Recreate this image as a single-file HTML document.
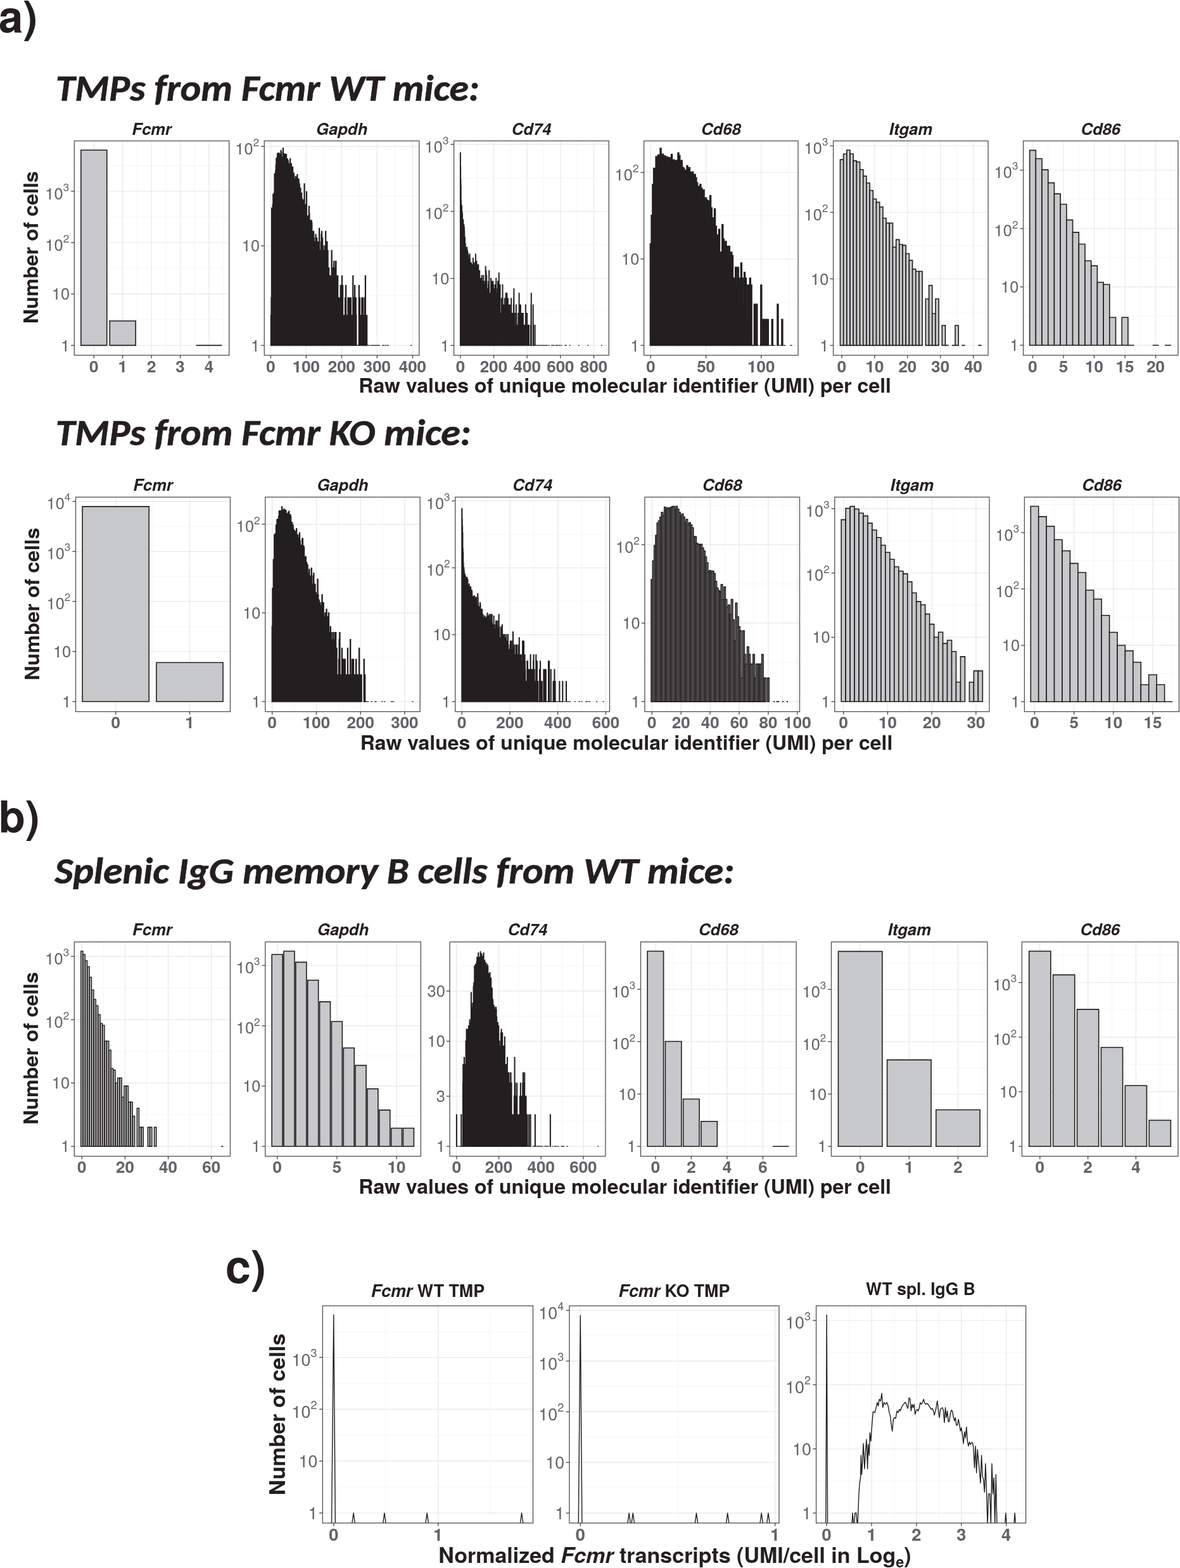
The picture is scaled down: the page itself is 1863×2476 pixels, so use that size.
<!DOCTYPE html>
<html><head><meta charset="utf-8"><title>Fcmr UMI histograms</title>
<style>html,body{margin:0;padding:0;background:#fff;overflow:hidden;}svg{display:block;}</style></head>
<body><svg xmlns="http://www.w3.org/2000/svg" width="1863" height="2476" viewBox="0 0 1863 2476">
<rect width="1863" height="2476" fill="#fff"/>
<clipPath id="c1"><rect x="117.3" y="222.5" width="244.5" height="338.5"/></clipPath>
<g clip-path="url(#c1)">
<line x1="125.59" y1="222.5" x2="125.59" y2="561" stroke="#f4f4f4" stroke-width="0.8"/>
<line x1="171.02" y1="222.5" x2="171.02" y2="561" stroke="#f4f4f4" stroke-width="0.8"/>
<line x1="216.44" y1="222.5" x2="216.44" y2="561" stroke="#f4f4f4" stroke-width="0.8"/>
<line x1="261.88" y1="222.5" x2="261.88" y2="561" stroke="#f4f4f4" stroke-width="0.8"/>
<line x1="307.31" y1="222.5" x2="307.31" y2="561" stroke="#f4f4f4" stroke-width="0.8"/>
<line x1="352.74" y1="222.5" x2="352.74" y2="561" stroke="#f4f4f4" stroke-width="0.8"/>
<line x1="117.3" y1="504.83" x2="361.8" y2="504.83" stroke="#f4f4f4" stroke-width="0.8"/>
<line x1="117.3" y1="423.7" x2="361.8" y2="423.7" stroke="#f4f4f4" stroke-width="0.8"/>
<line x1="117.3" y1="342.57" x2="361.8" y2="342.57" stroke="#f4f4f4" stroke-width="0.8"/>
<line x1="117.3" y1="261.44" x2="361.8" y2="261.44" stroke="#f4f4f4" stroke-width="0.8"/>
<line x1="148.3" y1="222.5" x2="148.3" y2="561" stroke="#ebebeb" stroke-width="1.4"/>
<line x1="193.73" y1="222.5" x2="193.73" y2="561" stroke="#ebebeb" stroke-width="1.4"/>
<line x1="239.16" y1="222.5" x2="239.16" y2="561" stroke="#ebebeb" stroke-width="1.4"/>
<line x1="284.59" y1="222.5" x2="284.59" y2="561" stroke="#ebebeb" stroke-width="1.4"/>
<line x1="330.02" y1="222.5" x2="330.02" y2="561" stroke="#ebebeb" stroke-width="1.4"/>
<line x1="117.3" y1="545.4" x2="361.8" y2="545.4" stroke="#ebebeb" stroke-width="1.4"/>
<line x1="117.3" y1="464.27" x2="361.8" y2="464.27" stroke="#ebebeb" stroke-width="1.4"/>
<line x1="117.3" y1="383.14" x2="361.8" y2="383.14" stroke="#ebebeb" stroke-width="1.4"/>
<line x1="117.3" y1="302.01" x2="361.8" y2="302.01" stroke="#ebebeb" stroke-width="1.4"/>
<path d="M127.86 545.4V237.03H168.74V545.4Z" fill="#c7c8ca" stroke="#231f20" stroke-width="1.6"/>
<path d="M173.29 545.4V506.69H214.17V545.4Z" fill="#c7c8ca" stroke="#231f20" stroke-width="1.6"/>
<path d="M309.58 545.4V545.4H350.46V545.4Z" fill="#c7c8ca" stroke="#231f20" stroke-width="1.6"/>
</g>
<rect x="117.3" y="222.5" width="244.5" height="338.5" fill="none" stroke="#505050" stroke-width="1.3"/>
<line x1="148.3" y1="561" x2="148.3" y2="565.8" stroke="#505050" stroke-width="1.4"/>
<text x="148.3" y="587.6" text-anchor="middle" font-family="'TeX Gyre Heros', 'Liberation Sans', Arial, Helvetica, sans-serif" font-weight="bold" font-size="26" fill="#636468">0</text>
<line x1="193.73" y1="561" x2="193.73" y2="565.8" stroke="#505050" stroke-width="1.4"/>
<text x="193.73" y="587.6" text-anchor="middle" font-family="'TeX Gyre Heros', 'Liberation Sans', Arial, Helvetica, sans-serif" font-weight="bold" font-size="26" fill="#636468">1</text>
<line x1="239.16" y1="561" x2="239.16" y2="565.8" stroke="#505050" stroke-width="1.4"/>
<text x="239.16" y="587.6" text-anchor="middle" font-family="'TeX Gyre Heros', 'Liberation Sans', Arial, Helvetica, sans-serif" font-weight="bold" font-size="26" fill="#636468">2</text>
<line x1="284.59" y1="561" x2="284.59" y2="565.8" stroke="#505050" stroke-width="1.4"/>
<text x="284.59" y="587.6" text-anchor="middle" font-family="'TeX Gyre Heros', 'Liberation Sans', Arial, Helvetica, sans-serif" font-weight="bold" font-size="26" fill="#636468">3</text>
<line x1="330.02" y1="561" x2="330.02" y2="565.8" stroke="#505050" stroke-width="1.4"/>
<text x="330.02" y="587.6" text-anchor="middle" font-family="'TeX Gyre Heros', 'Liberation Sans', Arial, Helvetica, sans-serif" font-weight="bold" font-size="26" fill="#636468">4</text>
<line x1="112.1" y1="545.4" x2="117.3" y2="545.4" stroke="#505050" stroke-width="1.4"/>
<text x="110.1" y="554.5" text-anchor="end" font-family="'TeX Gyre Heros', 'Liberation Sans', Arial, Helvetica, sans-serif" font-size="25.5" fill="#636468">1</text>
<line x1="112.1" y1="464.27" x2="117.3" y2="464.27" stroke="#505050" stroke-width="1.4"/>
<text x="110.1" y="473.37" text-anchor="end" font-family="'TeX Gyre Heros', 'Liberation Sans', Arial, Helvetica, sans-serif" font-size="25.5" fill="#636468">10</text>
<line x1="112.1" y1="383.14" x2="117.3" y2="383.14" stroke="#505050" stroke-width="1.4"/>
<text x="109.1" y="395.74" text-anchor="end" font-family="'TeX Gyre Heros', 'Liberation Sans', Arial, Helvetica, sans-serif" font-size="25.5" fill="#636468">10<tspan font-size="17" dy="-12.9">2</tspan></text>
<line x1="112.1" y1="302.01" x2="117.3" y2="302.01" stroke="#505050" stroke-width="1.4"/>
<text x="109.1" y="314.61" text-anchor="end" font-family="'TeX Gyre Heros', 'Liberation Sans', Arial, Helvetica, sans-serif" font-size="25.5" fill="#636468">10<tspan font-size="17" dy="-12.9">3</tspan></text>
<text x="239.55" y="212.5" text-anchor="middle" font-family="'TeX Gyre Heros', 'Liberation Sans', Arial, Helvetica, sans-serif" font-weight="bold" font-style="italic" font-size="25.6" fill="#231f20">Fcmr</text>
<clipPath id="c2"><rect x="417.3" y="222.5" width="244.5" height="338.5"/></clipPath>
<g clip-path="url(#c2)">
<line x1="455.4" y1="222.5" x2="455.4" y2="561" stroke="#f4f4f4" stroke-width="0.8"/>
<line x1="511.4" y1="222.5" x2="511.4" y2="561" stroke="#f4f4f4" stroke-width="0.8"/>
<line x1="567.4" y1="222.5" x2="567.4" y2="561" stroke="#f4f4f4" stroke-width="0.8"/>
<line x1="623.4" y1="222.5" x2="623.4" y2="561" stroke="#f4f4f4" stroke-width="0.8"/>
<line x1="417.3" y1="466.85" x2="661.8" y2="466.85" stroke="#f4f4f4" stroke-width="0.8"/>
<line x1="417.3" y1="309.75" x2="661.8" y2="309.75" stroke="#f4f4f4" stroke-width="0.8"/>
<line x1="427.4" y1="222.5" x2="427.4" y2="561" stroke="#ebebeb" stroke-width="1.4"/>
<line x1="483.4" y1="222.5" x2="483.4" y2="561" stroke="#ebebeb" stroke-width="1.4"/>
<line x1="539.4" y1="222.5" x2="539.4" y2="561" stroke="#ebebeb" stroke-width="1.4"/>
<line x1="595.4" y1="222.5" x2="595.4" y2="561" stroke="#ebebeb" stroke-width="1.4"/>
<line x1="651.4" y1="222.5" x2="651.4" y2="561" stroke="#ebebeb" stroke-width="1.4"/>
<line x1="417.3" y1="545.4" x2="661.8" y2="545.4" stroke="#ebebeb" stroke-width="1.4"/>
<line x1="417.3" y1="388.3" x2="661.8" y2="388.3" stroke="#ebebeb" stroke-width="1.4"/>
<line x1="417.3" y1="231.2" x2="661.8" y2="231.2" stroke="#ebebeb" stroke-width="1.4"/>
<path d="M427.68 545.4V498.11H428.24V470.44H428.8V328.57H429.36V356.23H429.92V334.51H430.48V323.11H431.04V306.84H431.6V308.94H432.16V306.84H432.72V304.8H433.28V274.52H433.84V279.87H434.4V287.21H434.96V269.55H435.52V260.59H436.08V249.92H436.64V288.78H437.2V260.59H437.76V242.29H438.32V255.54H438.88V251.74H439.44V269.55H440V241.49H440.56V254.57H441.12V263.82H441.68V249.92H442.24V243.1H442.8V266.05H443.36V237.63H443.92V240.7H444.48V261.65H445.04V253.61H445.6V248.15H446.16V255.54H446.72V233.99H447.28V249.92H447.84V243.1H448.4V264.92H448.96V255.54H449.52V243.1H450.08V245.58H450.64V259.55H451.2V259.55H451.76V243.91H452.32V254.57H452.88V259.55H453.44V250.83H454V255.54H454.56V253.61H455.12V284.18H455.68V258.52H456.24V264.92H456.8V264.92H457.36V267.2H457.92V250.83H458.48V281.28H459.04V260.59H459.6V258.52H460.16V279.87H460.72V263.82H461.28V263.82H461.84V263.82H462.4V285.68H462.96V274.52H463.52V273.24H464.08V285.68H464.64V282.71H465.2V287.21H465.76V284.18H466.32V278.49H466.88V302.83H467.44V284.18H468V300.9H468.56V279.87H469.12V275.82H469.68V299.04H470.24V299.04H470.8V299.04H471.36V282.71H471.92V290.39H472.48V290.39H473.04V299.04H473.6V300.9H474.16V297.22H474.72V306.84H475.28V313.34H475.84V304.8H476.4V313.34H476.96V331.47H477.52V318.05H478.08V315.66H478.64V318.05H479.2V337.68H479.76V356.23H480.32V290.39H480.88V352.1H481.44V344.51H482V331.47H482.56V323.11H483.12V341.01H483.68V302.83H484.24V360.64H484.8V341.01H485.36V388.3H485.92V348.2H486.48V341.01H487.04V356.23H487.6V325.78H488.16V337.68H488.72V375.86H489.28V388.3H489.84V356.23H490.4V348.2H490.96V381.8H491.52V348.2H492.08V352.1H492.64V388.3H493.2V365.34H493.76V395.49H494.32V375.86H494.88V365.34H495.44V375.86H496V381.8H496.56V395.49H497.12V381.8H497.68V381.8H498.24V370.4H498.8V381.8H499.36V388.3H499.92V375.86H500.48V450.82H501.04V395.49H501.6V381.8H502.16V395.49H502.72V381.8H503.28V395.49H503.84V360.64H504.4V412.64H504.96V395.49H505.52V423.15H506.08V435.59H506.64V381.8H507.2V370.4H507.76V365.34H508.32V375.86H508.88V375.86H509.44V388.3H510V388.3H510.56V423.15H511.12V412.64H511.68V435.59H512.24V395.49H512.8V388.3H513.36V412.64H513.92V365.34H514.48V412.64H515.04V412.64H515.6V412.64H516.16V381.8H516.72V450.82H517.28V395.49H517.84V435.59H518.4V450.82H518.96V423.15H519.52V470.44H520.08V498.11H520.64V450.82H521.2V435.59H521.76V545.4H522.32V450.82H522.88V435.59H523.44V395.49H524V498.11H524.56V423.15H525.12V423.15H525.68V450.82H526.24V450.82H526.8V412.64H527.36V435.59H527.92V470.44H528.48V423.15H529.04V470.44H529.6V412.64H530.16V412.64H530.72V435.59H531.28V498.11H531.84V545.4H532.4V450.82H532.96V435.59H533.52V498.11H534.08V545.4H534.64V498.11H535.2V470.44H535.76V545.4H536.32V545.4H536.88V545.4H537.44V450.82H538V498.11H538.56V470.44H539.12V470.44H539.68V435.59H540.24V450.82H540.8V450.82H541.36V498.11H541.92V498.11H542.48V545.4H543.04V545.4H543.6V498.11H544.16V545.4ZM544.72 545.4V470.44H545.28V498.11H545.84V450.82H546.4V545.4ZM546.96 545.4V545.4H547.52V498.11H548.08V545.4ZM548.64 545.4V545.4H549.2V470.44H549.76V498.11H550.32V470.44H550.88V545.4ZM551.44 545.4V545.4H552V470.44H552.56V498.11H553.12V545.4H553.68V470.44H554.24V498.11H554.8V498.11H555.36V545.4H555.92V545.4H556.48V498.11H557.04V435.59H557.6V498.11H558.16V470.44H558.72V545.4H559.28V498.11H559.84V450.82H560.4V545.4ZM560.96 545.4V498.11H561.52V470.44H562.08V498.11H562.64V545.4ZM566 545.4V545.4H566.56V450.82H567.12V545.4H567.68V470.44H568.24V545.4H568.8V498.11H569.36V545.4H569.92V545.4H570.48V545.4H571.04V470.44H571.6V545.4H572.16V545.4H572.72V470.44H573.28V545.4H573.84V498.11H574.4V545.4H574.96V545.4H575.52V470.44H576.08V545.4H576.64V435.59H577.2V545.4H577.76V498.11H578.32V545.4H578.88V498.11H579.44V545.4H580V545.4H580.56V545.4Z" fill="#231f20" stroke="#231f20" stroke-width="1.7" stroke-linejoin="miter"/>
<path d="M562.91 545.4H566.29ZM580.27 545.4H583.65ZM584.75 545.4H587.01ZM586.99 545.4H589.25ZM588.11 545.4H590.93ZM590.35 545.4H592.61ZM591.47 545.4H593.73ZM593.71 545.4H595.97ZM595.39 545.4H597.65ZM596.51 545.4H598.77ZM597.63 545.4H599.89ZM603.23 545.4H606.05ZM604.91 545.4H607.17ZM607.71 545.4H610.53ZM611.07 545.4H613.89ZM648.03 545.4H650.29Z" fill="none" stroke="#231f20" stroke-width="1.3"/>
</g>
<rect x="417.3" y="222.5" width="244.5" height="338.5" fill="none" stroke="#505050" stroke-width="1.3"/>
<line x1="427.4" y1="561" x2="427.4" y2="565.8" stroke="#505050" stroke-width="1.4"/>
<text x="427.4" y="587.6" text-anchor="middle" font-family="'TeX Gyre Heros', 'Liberation Sans', Arial, Helvetica, sans-serif" font-weight="bold" font-size="26" fill="#636468">0</text>
<line x1="483.4" y1="561" x2="483.4" y2="565.8" stroke="#505050" stroke-width="1.4"/>
<text x="483.4" y="587.6" text-anchor="middle" font-family="'TeX Gyre Heros', 'Liberation Sans', Arial, Helvetica, sans-serif" font-weight="bold" font-size="26" fill="#636468">100</text>
<line x1="539.4" y1="561" x2="539.4" y2="565.8" stroke="#505050" stroke-width="1.4"/>
<text x="539.4" y="587.6" text-anchor="middle" font-family="'TeX Gyre Heros', 'Liberation Sans', Arial, Helvetica, sans-serif" font-weight="bold" font-size="26" fill="#636468">200</text>
<line x1="595.4" y1="561" x2="595.4" y2="565.8" stroke="#505050" stroke-width="1.4"/>
<text x="595.4" y="587.6" text-anchor="middle" font-family="'TeX Gyre Heros', 'Liberation Sans', Arial, Helvetica, sans-serif" font-weight="bold" font-size="26" fill="#636468">300</text>
<line x1="651.4" y1="561" x2="651.4" y2="565.8" stroke="#505050" stroke-width="1.4"/>
<text x="651.4" y="587.6" text-anchor="middle" font-family="'TeX Gyre Heros', 'Liberation Sans', Arial, Helvetica, sans-serif" font-weight="bold" font-size="26" fill="#636468">400</text>
<line x1="412.1" y1="545.4" x2="417.3" y2="545.4" stroke="#505050" stroke-width="1.4"/>
<text x="410.1" y="554.5" text-anchor="end" font-family="'TeX Gyre Heros', 'Liberation Sans', Arial, Helvetica, sans-serif" font-size="25.5" fill="#636468">1</text>
<line x1="412.1" y1="388.3" x2="417.3" y2="388.3" stroke="#505050" stroke-width="1.4"/>
<text x="410.1" y="397.4" text-anchor="end" font-family="'TeX Gyre Heros', 'Liberation Sans', Arial, Helvetica, sans-serif" font-size="25.5" fill="#636468">10</text>
<line x1="412.1" y1="231.2" x2="417.3" y2="231.2" stroke="#505050" stroke-width="1.4"/>
<text x="409.1" y="243.8" text-anchor="end" font-family="'TeX Gyre Heros', 'Liberation Sans', Arial, Helvetica, sans-serif" font-size="25.5" fill="#636468">10<tspan font-size="17" dy="-12.9">2</tspan></text>
<text x="539.55" y="212.5" text-anchor="middle" font-family="'TeX Gyre Heros', 'Liberation Sans', Arial, Helvetica, sans-serif" font-weight="bold" font-style="italic" font-size="25.6" fill="#231f20">Gapdh</text>
<clipPath id="c3"><rect x="716.6" y="222.5" width="244.7" height="338.5"/></clipPath>
<g clip-path="url(#c3)">
<line x1="753.23" y1="222.5" x2="753.23" y2="561" stroke="#f4f4f4" stroke-width="0.8"/>
<line x1="805.89" y1="222.5" x2="805.89" y2="561" stroke="#f4f4f4" stroke-width="0.8"/>
<line x1="858.55" y1="222.5" x2="858.55" y2="561" stroke="#f4f4f4" stroke-width="0.8"/>
<line x1="911.21" y1="222.5" x2="911.21" y2="561" stroke="#f4f4f4" stroke-width="0.8"/>
<line x1="716.6" y1="492.5" x2="961.3" y2="492.5" stroke="#f4f4f4" stroke-width="0.8"/>
<line x1="716.6" y1="386.7" x2="961.3" y2="386.7" stroke="#f4f4f4" stroke-width="0.8"/>
<line x1="716.6" y1="280.9" x2="961.3" y2="280.9" stroke="#f4f4f4" stroke-width="0.8"/>
<line x1="726.9" y1="222.5" x2="726.9" y2="561" stroke="#ebebeb" stroke-width="1.4"/>
<line x1="779.56" y1="222.5" x2="779.56" y2="561" stroke="#ebebeb" stroke-width="1.4"/>
<line x1="832.22" y1="222.5" x2="832.22" y2="561" stroke="#ebebeb" stroke-width="1.4"/>
<line x1="884.88" y1="222.5" x2="884.88" y2="561" stroke="#ebebeb" stroke-width="1.4"/>
<line x1="937.54" y1="222.5" x2="937.54" y2="561" stroke="#ebebeb" stroke-width="1.4"/>
<line x1="716.6" y1="545.4" x2="961.3" y2="545.4" stroke="#ebebeb" stroke-width="1.4"/>
<line x1="716.6" y1="439.6" x2="961.3" y2="439.6" stroke="#ebebeb" stroke-width="1.4"/>
<line x1="716.6" y1="333.8" x2="961.3" y2="333.8" stroke="#ebebeb" stroke-width="1.4"/>
<line x1="716.6" y1="228" x2="961.3" y2="228" stroke="#ebebeb" stroke-width="1.4"/>
<path d="M726.77 545.4V241.46H727.03V263.28H727.29V283.63H727.56V293.38H727.82V316.41H728.08V324.66H728.35V326.98H728.61V332.44H728.87V324.66H729.14V332.89H729.4V338.64H729.66V335.68H729.93V338.64H730.19V352.89H730.45V355.76H730.72V352.2H730.98V360.44H731.24V347.02H731.51V356.51H731.77V360.44H732.03V355.03H732.3V355.03H732.56V362.97H732.82V358.83H733.09V364.74H733.35V378.26H733.61V377.07H733.88V374.77H734.14V386.16H734.4V393.96H734.67V384.74H734.93V401.33H735.19V412.59H735.46V401.33H735.72V390.68H735.98V393.96H736.25V410.11H736.51V415.22H736.77V401.33H737.04V390.68H737.3V393.96H737.56V415.22H737.83V395.7H738.09V405.51H738.35V399.37H738.62V399.37H738.88V427.54H739.14V435.22H739.41V403.37H739.67V410.11H739.93V410.11H740.2V435.22H740.46V424.14H740.72V415.22H740.99V420.97H741.25V435.22H741.51V401.33H741.78V407.75H742.04V420.97H742.3V424.14H742.57V415.22H742.83V439.6H743.09V418H743.36V424.14H743.62V424.14H743.88V415.22H744.15V431.22H744.41V418H744.67V439.6H744.94V418H745.2V424.14H745.46V455.99H745.73V420.97H745.99V439.6H746.25V431.22H746.52V424.14H746.78V407.75H747.04V418H747.31V418H747.57V431.22H747.83V435.22H748.1V420.97H748.36V449.85H748.62V415.22H748.89V427.54H749.15V439.6H749.41V418H749.68V431.22H749.94V439.6H750.2V444.44H750.47V455.99H750.73V401.33H750.99V427.54H751.26V420.97H751.52V431.22H751.78V418H752.05V431.22H752.31V412.59H752.57V424.14H752.84V420.97H753.1V424.14H753.36V435.22H753.62V431.22H753.89V439.6H754.15V427.54H754.41V418H754.68V449.85H754.94V435.22H755.2V418H755.47V439.6H755.73V444.44H755.99V439.6H756.26V444.44H756.52V439.6H756.78V435.22H757.05V427.54H757.31V444.44H757.57V444.44H757.84V449.85H758.1V439.6H758.36V449.85H758.63V439.6H758.89V439.6H759.15V471.45H759.42V449.85H759.68V449.85H759.94V455.99H760.21V444.44H760.47V435.22H760.73V439.6H761V455.99H761.26V444.44H761.52V455.99H761.79V449.85H762.05V455.99H762.31V494.92H762.58V449.85H762.84V449.85H763.1V435.22H763.37V471.45H763.63V449.85H763.89V449.85H764.16V471.45H764.42V455.99H764.68V471.45H764.95V471.45H765.21V444.44H765.47V449.85H765.74V455.99H766V455.99H766.26V471.45H766.53V420.97H766.79V471.45H767.05V463.07H767.32V427.54H767.58V449.85H767.84V471.45H768.11V435.22H768.37V444.44H768.63V481.7H768.9V463.07H769.16V463.07H769.42V513.55H769.69V463.07H769.95V471.45H770.21V455.99H770.48V481.7H770.74V455.99H771V449.85H771.27V444.44H771.53V455.99H771.79V471.45H772.06V427.54H772.32V471.45H772.58V494.92H772.85V481.7H773.11V471.45H773.37V481.7H773.64V463.07H773.9V471.45H774.16V463.07H774.43V463.07H774.69V471.45H774.95V439.6H775.22V481.7H775.48V455.99H775.74V471.45H776.01V455.99H776.27V455.99H776.53V455.99H776.8V444.44H777.06V513.55H777.32V463.07H777.59V494.92H777.85V481.7H778.11V444.44H778.38V481.7H778.64V471.45H778.9V494.92H779.17V449.85H779.43V481.7H779.69V481.7H779.95V481.7H780.22V463.07H780.48V455.99H780.74V471.45H781.01V471.45H781.27V471.45H781.53V481.7H781.8V449.85H782.06V455.99H782.32V449.85H782.59V471.45H782.85V494.92H783.11V439.6H783.38V513.55H783.64V471.45H783.9V471.45H784.17V463.07H784.43V513.55H784.69V463.07H784.96V481.7H785.22V455.99H785.48V494.92H785.75V444.44H786.01V494.92H786.27V481.7H786.54V494.92H786.8V494.92H787.06V471.45H787.33V494.92H787.59V431.22H787.85V471.45H788.12V494.92H788.38V481.7H788.64V494.92H788.91V545.4H789.17V455.99H789.43V449.85H789.7V513.55H789.96V513.55H790.22V494.92H790.49V494.92H790.75V545.4H791.01V545.4ZM791.28 545.4V513.55H791.54V513.55H791.8V471.45H792.07V494.92H792.33V481.7H792.59V481.7H792.86V545.4H793.12V494.92H793.38V449.85H793.65V545.4H793.91V545.4H794.17V481.7H794.44V494.92H794.7V513.55H794.96V494.92H795.23V481.7H795.49V513.55H795.75V481.7H796.02V513.55H796.28V545.4ZM796.54 545.4V471.45H796.81V494.92H797.07V513.55H797.33V494.92H797.6V513.55H797.86V513.55H798.12V494.92H798.39V481.7H798.65V463.07H798.91V481.7H799.18V545.4H799.44V513.55H799.7V545.4H799.97V481.7H800.23V463.07H800.49V481.7H800.76V494.92H801.02V545.4H801.28V494.92H801.55V513.55H801.81V471.45H802.07V513.55H802.34V494.92H802.6V513.55H802.86V481.7H803.13V545.4ZM803.39 545.4V481.7H803.65V513.55H803.92V545.4H804.18V513.55H804.44V545.4H804.71V513.55H804.97V481.7H805.23V545.4ZM805.5 545.4V513.55H805.76V494.92H806.02V545.4H806.28V513.55H806.55V545.4H806.81V494.92H807.07V471.45H807.34V545.4H807.6V513.55H807.86V494.92H808.13V494.92H808.39V545.4H808.65V545.4ZM808.92 545.4V513.55H809.18V494.92H809.44V545.4ZM809.71 545.4V513.55H809.97V494.92H810.23V545.4H810.5V513.55H810.76V481.7H811.02V471.45H811.29V455.99H811.55V513.55H811.81V494.92H812.08V513.55H812.34V545.4H812.6V494.92H812.87V545.4H813.13V545.4ZM813.39 545.4V513.55H813.66V513.55H813.92V513.55H814.18V545.4H814.45V545.4ZM814.71 545.4V481.7H814.97V494.92H815.24V494.92H815.5V513.55H815.76V545.4H816.03V545.4H816.29V545.4H816.55V545.4ZM816.82 545.4V545.4H817.08V513.55H817.34V513.55H817.61V545.4ZM818.13 545.4V494.92H818.4V545.4H818.66V513.55H818.92V513.55H819.19V545.4H819.45V463.07H819.71V481.7H819.98V545.4ZM821.29 545.4V481.7H821.56V545.4H821.82V481.7H822.08V545.4H822.35V494.92H822.61V545.4H822.87V545.4ZM823.14 545.4V545.4H823.4V494.92H823.66V545.4ZM823.93 545.4V545.4H824.19V494.92H824.45V545.4H824.72V494.92H824.98V545.4H825.24V545.4ZM825.77 545.4V494.92H826.03V545.4H826.3V545.4ZM826.56 545.4V513.55H826.82V513.55H827.09V513.55H827.35V513.55H827.61V545.4H827.88V545.4ZM828.14 545.4V513.55H828.4V545.4ZM828.67 545.4V545.4H828.93V513.55H829.19V513.55H829.46V545.4H829.72V481.7H829.98V494.92H830.25V545.4ZM830.51 545.4V513.55H830.77V545.4H831.04V545.4ZM831.56 545.4V545.4H831.83V513.55H832.09V494.92H832.35V545.4ZM832.88 545.4V545.4H833.14V545.4H833.4V513.55H833.67V513.55H833.93V513.55H834.19V545.4H834.46V545.4ZM834.98 545.4V513.55H835.25V545.4ZM837.62 545.4V545.4H837.88V513.55H838.14V513.55H838.41V481.7H838.67V463.07H838.93V545.4H839.2V545.4H839.46V545.4H839.72V545.4H839.99V545.4ZM840.78 545.4V545.4H841.04V545.4H841.3V545.4H841.57V481.7H841.83V513.55H842.09V513.55H842.36V545.4ZM844.46 545.4V513.55H844.73V545.4Z" fill="#231f20" stroke="#231f20" stroke-width="1.7" stroke-linejoin="miter"/>
<path d="M819.39 545.4H821.35ZM819.92 545.4H821.88ZM834.66 545.4H836.89ZM835.98 545.4H837.94ZM842.3 545.4H844.26ZM844.14 545.4H846.1ZM844.67 545.4H846.63ZM845.98 545.4H847.95ZM847.04 545.4H849.26ZM848.35 545.4H850.32ZM848.88 545.4H850.84ZM850.2 545.4H852.16ZM850.72 545.4H852.69ZM851.51 545.4H853.48ZM853.62 545.4H855.85ZM854.67 545.4H856.64ZM855.2 545.4H857.16ZM855.99 545.4H857.95ZM856.52 545.4H858.48ZM857.04 545.4H859.27ZM857.83 545.4H860.06ZM858.88 545.4H860.85ZM859.41 545.4H861.37ZM860.46 545.4H862.43ZM861.52 545.4H863.48ZM863.1 545.4H865.06ZM865.73 545.4H867.69ZM870.21 545.4H872.17ZM870.73 545.4H872.7ZM871.26 545.4H873.22ZM872.31 545.4H874.28ZM873.1 545.4H875.33ZM876.53 545.4H878.75ZM877.32 545.4H879.54ZM878.9 545.4H880.86ZM879.42 545.4H881.39ZM881.79 545.4H883.76ZM882.85 545.4H884.81ZM885.48 545.4H887.44ZM891.01 545.4H892.97ZM893.11 545.4H895.08ZM898.91 545.4H900.87ZM912.86 545.4H914.82ZM927.34 545.4H929.31ZM948.93 545.4H950.9Z" fill="none" stroke="#231f20" stroke-width="1.3"/>
</g>
<rect x="716.6" y="222.5" width="244.7" height="338.5" fill="none" stroke="#505050" stroke-width="1.3"/>
<line x1="726.9" y1="561" x2="726.9" y2="565.8" stroke="#505050" stroke-width="1.4"/>
<text x="726.9" y="587.6" text-anchor="middle" font-family="'TeX Gyre Heros', 'Liberation Sans', Arial, Helvetica, sans-serif" font-weight="bold" font-size="26" fill="#636468">0</text>
<line x1="779.56" y1="561" x2="779.56" y2="565.8" stroke="#505050" stroke-width="1.4"/>
<text x="779.56" y="587.6" text-anchor="middle" font-family="'TeX Gyre Heros', 'Liberation Sans', Arial, Helvetica, sans-serif" font-weight="bold" font-size="26" fill="#636468">200</text>
<line x1="832.22" y1="561" x2="832.22" y2="565.8" stroke="#505050" stroke-width="1.4"/>
<text x="832.22" y="587.6" text-anchor="middle" font-family="'TeX Gyre Heros', 'Liberation Sans', Arial, Helvetica, sans-serif" font-weight="bold" font-size="26" fill="#636468">400</text>
<line x1="884.88" y1="561" x2="884.88" y2="565.8" stroke="#505050" stroke-width="1.4"/>
<text x="884.88" y="587.6" text-anchor="middle" font-family="'TeX Gyre Heros', 'Liberation Sans', Arial, Helvetica, sans-serif" font-weight="bold" font-size="26" fill="#636468">600</text>
<line x1="937.54" y1="561" x2="937.54" y2="565.8" stroke="#505050" stroke-width="1.4"/>
<text x="937.54" y="587.6" text-anchor="middle" font-family="'TeX Gyre Heros', 'Liberation Sans', Arial, Helvetica, sans-serif" font-weight="bold" font-size="26" fill="#636468">800</text>
<line x1="711.4" y1="545.4" x2="716.6" y2="545.4" stroke="#505050" stroke-width="1.4"/>
<text x="709.4" y="554.5" text-anchor="end" font-family="'TeX Gyre Heros', 'Liberation Sans', Arial, Helvetica, sans-serif" font-size="25.5" fill="#636468">1</text>
<line x1="711.4" y1="439.6" x2="716.6" y2="439.6" stroke="#505050" stroke-width="1.4"/>
<text x="709.4" y="448.7" text-anchor="end" font-family="'TeX Gyre Heros', 'Liberation Sans', Arial, Helvetica, sans-serif" font-size="25.5" fill="#636468">10</text>
<line x1="711.4" y1="333.8" x2="716.6" y2="333.8" stroke="#505050" stroke-width="1.4"/>
<text x="708.4" y="346.4" text-anchor="end" font-family="'TeX Gyre Heros', 'Liberation Sans', Arial, Helvetica, sans-serif" font-size="25.5" fill="#636468">10<tspan font-size="17" dy="-12.9">2</tspan></text>
<line x1="711.4" y1="228" x2="716.6" y2="228" stroke="#505050" stroke-width="1.4"/>
<text x="708.4" y="240.6" text-anchor="end" font-family="'TeX Gyre Heros', 'Liberation Sans', Arial, Helvetica, sans-serif" font-size="25.5" fill="#636468">10<tspan font-size="17" dy="-12.9">3</tspan></text>
<text x="838.95" y="212.5" text-anchor="middle" font-family="'TeX Gyre Heros', 'Liberation Sans', Arial, Helvetica, sans-serif" font-weight="bold" font-style="italic" font-size="25.6" fill="#231f20">Cd74</text>
<clipPath id="c4"><rect x="1016.6" y="222.5" width="243.5" height="338.5"/></clipPath>
<g clip-path="url(#c4)">
<line x1="1071" y1="222.5" x2="1071" y2="561" stroke="#f4f4f4" stroke-width="0.8"/>
<line x1="1158.2" y1="222.5" x2="1158.2" y2="561" stroke="#f4f4f4" stroke-width="0.8"/>
<line x1="1245.4" y1="222.5" x2="1245.4" y2="561" stroke="#f4f4f4" stroke-width="0.8"/>
<line x1="1016.6" y1="477.15" x2="1260.1" y2="477.15" stroke="#f4f4f4" stroke-width="0.8"/>
<line x1="1016.6" y1="340.65" x2="1260.1" y2="340.65" stroke="#f4f4f4" stroke-width="0.8"/>
<line x1="1027.4" y1="222.5" x2="1027.4" y2="561" stroke="#ebebeb" stroke-width="1.4"/>
<line x1="1114.6" y1="222.5" x2="1114.6" y2="561" stroke="#ebebeb" stroke-width="1.4"/>
<line x1="1201.8" y1="222.5" x2="1201.8" y2="561" stroke="#ebebeb" stroke-width="1.4"/>
<line x1="1016.6" y1="545.4" x2="1260.1" y2="545.4" stroke="#ebebeb" stroke-width="1.4"/>
<line x1="1016.6" y1="408.9" x2="1260.1" y2="408.9" stroke="#ebebeb" stroke-width="1.4"/>
<line x1="1016.6" y1="272.4" x2="1260.1" y2="272.4" stroke="#ebebeb" stroke-width="1.4"/>
<path d="M1026.53 545.4V384.86H1028.27V339.95H1030.02V291.06H1031.76V265.68H1033.5V266.75H1035.25V247.19H1036.99V250.78H1038.74V244.54H1040.48V252.03H1042.22V234.04H1043.97V249.56H1045.71V243.44H1047.46V247.58H1049.2V246.04H1050.94V248.36H1052.69V247.97H1054.43V259.17H1056.18V248.76H1057.92V252.45H1059.66V243.8H1061.41V255.05H1063.15V252.45H1064.9V258.7H1066.64V253.31H1068.38V254.17H1070.13V241.29H1071.87V245.66H1073.62V253.31H1075.36V253.31H1077.1V264.11H1078.85V265.68H1080.59V268.95H1082.34V268.95H1084.08V261.59H1085.82V267.84H1087.57V264.63H1089.31V271.81H1091.06V276.07H1092.8V271.23H1094.54V279.98H1096.29V275.44H1098.03V280.66H1099.78V288.67H1101.52V294.4H1103.26V297.03H1105.01V291.06H1106.75V297.03H1108.5V308.93H1110.24V299.79H1111.98V313.49H1113.73V312.32H1115.47V315.91H1117.22V317.16H1118.96V318.43H1120.7V308.93H1122.45V328.22H1124.19V343.77H1125.94V352.26H1127.68V329.76H1129.42V357H1131.17V374.06H1132.91V370.85H1134.66V362.16H1136.4V398.09H1138.14V398.09H1139.89V354.58H1141.63V377.44H1143.38V384.86H1145.12V381.04H1146.86V388.95H1148.61V415.15H1150.35V388.95H1152.1V403.25H1153.84V398.09H1155.58V403.25H1157.33V439.18H1159.07V439.18H1160.82V422.13H1162.56V449.99H1164.3V422.13H1166.05V439.18H1167.79V449.99H1169.54V415.15H1171.28V439.18H1173.02V480.27H1174.77V430.04H1176.51V439.18H1178.26V504.31H1180V449.99H1181.74V449.99H1183.49V439.18H1185.23V449.99H1186.98V545.4H1188.72V545.4H1190.46V480.27H1192.21V480.27H1193.95V480.27H1195.7V545.4H1197.44V545.4ZM1199.18 545.4V545.4H1200.93V449.99H1202.67V545.4H1204.42V504.31H1206.16V545.4ZM1207.9 545.4V504.31H1209.65V545.4ZM1211.39 545.4V504.31H1213.14V545.4ZM1218.37 545.4V504.31H1220.11V545.4ZM1227.09 545.4V480.27H1228.83V545.4ZM1234.06 545.4V504.31H1235.81V545.4Z" fill="#231f20" stroke="#231f20" stroke-width="1.7" stroke-linejoin="miter"/>
<path d="M1214.03 545.4H1217.47ZM1221.01 545.4H1224.45ZM1229.73 545.4H1233.17ZM1236.7 545.4H1240.15ZM1247.17 545.4H1250.61Z" fill="none" stroke="#231f20" stroke-width="1.3"/>
</g>
<rect x="1016.6" y="222.5" width="243.5" height="338.5" fill="none" stroke="#505050" stroke-width="1.3"/>
<line x1="1027.4" y1="561" x2="1027.4" y2="565.8" stroke="#505050" stroke-width="1.4"/>
<text x="1027.4" y="587.6" text-anchor="middle" font-family="'TeX Gyre Heros', 'Liberation Sans', Arial, Helvetica, sans-serif" font-weight="bold" font-size="26" fill="#636468">0</text>
<line x1="1114.6" y1="561" x2="1114.6" y2="565.8" stroke="#505050" stroke-width="1.4"/>
<text x="1114.6" y="587.6" text-anchor="middle" font-family="'TeX Gyre Heros', 'Liberation Sans', Arial, Helvetica, sans-serif" font-weight="bold" font-size="26" fill="#636468">50</text>
<line x1="1201.8" y1="561" x2="1201.8" y2="565.8" stroke="#505050" stroke-width="1.4"/>
<text x="1201.8" y="587.6" text-anchor="middle" font-family="'TeX Gyre Heros', 'Liberation Sans', Arial, Helvetica, sans-serif" font-weight="bold" font-size="26" fill="#636468">100</text>
<line x1="1011.4" y1="545.4" x2="1016.6" y2="545.4" stroke="#505050" stroke-width="1.4"/>
<text x="1009.4" y="554.5" text-anchor="end" font-family="'TeX Gyre Heros', 'Liberation Sans', Arial, Helvetica, sans-serif" font-size="25.5" fill="#636468">1</text>
<line x1="1011.4" y1="408.9" x2="1016.6" y2="408.9" stroke="#505050" stroke-width="1.4"/>
<text x="1009.4" y="418" text-anchor="end" font-family="'TeX Gyre Heros', 'Liberation Sans', Arial, Helvetica, sans-serif" font-size="25.5" fill="#636468">10</text>
<line x1="1011.4" y1="272.4" x2="1016.6" y2="272.4" stroke="#505050" stroke-width="1.4"/>
<text x="1008.4" y="285" text-anchor="end" font-family="'TeX Gyre Heros', 'Liberation Sans', Arial, Helvetica, sans-serif" font-size="25.5" fill="#636468">10<tspan font-size="17" dy="-12.9">2</tspan></text>
<text x="1138.35" y="212.5" text-anchor="middle" font-family="'TeX Gyre Heros', 'Liberation Sans', Arial, Helvetica, sans-serif" font-weight="bold" font-style="italic" font-size="25.6" fill="#231f20">Cd68</text>
<clipPath id="c5"><rect x="1315.6" y="222.5" width="244.5" height="338.5"/></clipPath>
<g clip-path="url(#c5)">
<line x1="1355.04" y1="222.5" x2="1355.04" y2="561" stroke="#f4f4f4" stroke-width="0.8"/>
<line x1="1406.91" y1="222.5" x2="1406.91" y2="561" stroke="#f4f4f4" stroke-width="0.8"/>
<line x1="1458.79" y1="222.5" x2="1458.79" y2="561" stroke="#f4f4f4" stroke-width="0.8"/>
<line x1="1510.66" y1="222.5" x2="1510.66" y2="561" stroke="#f4f4f4" stroke-width="0.8"/>
<line x1="1315.6" y1="492.9" x2="1560.1" y2="492.9" stroke="#f4f4f4" stroke-width="0.8"/>
<line x1="1315.6" y1="387.9" x2="1560.1" y2="387.9" stroke="#f4f4f4" stroke-width="0.8"/>
<line x1="1315.6" y1="282.9" x2="1560.1" y2="282.9" stroke="#f4f4f4" stroke-width="0.8"/>
<line x1="1329.1" y1="222.5" x2="1329.1" y2="561" stroke="#ebebeb" stroke-width="1.4"/>
<line x1="1380.97" y1="222.5" x2="1380.97" y2="561" stroke="#ebebeb" stroke-width="1.4"/>
<line x1="1432.85" y1="222.5" x2="1432.85" y2="561" stroke="#ebebeb" stroke-width="1.4"/>
<line x1="1484.72" y1="222.5" x2="1484.72" y2="561" stroke="#ebebeb" stroke-width="1.4"/>
<line x1="1536.6" y1="222.5" x2="1536.6" y2="561" stroke="#ebebeb" stroke-width="1.4"/>
<line x1="1315.6" y1="545.4" x2="1560.1" y2="545.4" stroke="#ebebeb" stroke-width="1.4"/>
<line x1="1315.6" y1="440.4" x2="1560.1" y2="440.4" stroke="#ebebeb" stroke-width="1.4"/>
<line x1="1315.6" y1="335.4" x2="1560.1" y2="335.4" stroke="#ebebeb" stroke-width="1.4"/>
<line x1="1315.6" y1="230.4" x2="1560.1" y2="230.4" stroke="#ebebeb" stroke-width="1.4"/>
<path d="M1326.51 545.4V252.13H1331.69V545.4Z" fill="#c7c8ca" stroke="#231f20" stroke-width="1.6"/>
<path d="M1331.69 545.4V243.22H1336.88V545.4Z" fill="#c7c8ca" stroke="#231f20" stroke-width="1.6"/>
<path d="M1336.88 545.4V237.01H1342.07V545.4Z" fill="#c7c8ca" stroke="#231f20" stroke-width="1.6"/>
<path d="M1342.07 545.4V242.97H1347.26V545.4Z" fill="#c7c8ca" stroke="#231f20" stroke-width="1.6"/>
<path d="M1347.26 545.4V253.85H1352.44V545.4Z" fill="#c7c8ca" stroke="#231f20" stroke-width="1.6"/>
<path d="M1352.44 545.4V255.71H1357.63V545.4Z" fill="#c7c8ca" stroke="#231f20" stroke-width="1.6"/>
<path d="M1357.63 545.4V267.73H1362.82V545.4Z" fill="#c7c8ca" stroke="#231f20" stroke-width="1.6"/>
<path d="M1362.82 545.4V278.14H1368.01V545.4Z" fill="#c7c8ca" stroke="#231f20" stroke-width="1.6"/>
<path d="M1368.01 545.4V288.94H1373.19V545.4Z" fill="#c7c8ca" stroke="#231f20" stroke-width="1.6"/>
<path d="M1373.19 545.4V300.71H1378.38V545.4Z" fill="#c7c8ca" stroke="#231f20" stroke-width="1.6"/>
<path d="M1378.38 545.4V314.25H1383.57V545.4Z" fill="#c7c8ca" stroke="#231f20" stroke-width="1.6"/>
<path d="M1383.57 545.4V319.41H1388.76V545.4Z" fill="#c7c8ca" stroke="#231f20" stroke-width="1.6"/>
<path d="M1388.76 545.4V326.71H1393.94V545.4Z" fill="#c7c8ca" stroke="#231f20" stroke-width="1.6"/>
<path d="M1393.94 545.4V344.45H1399.13V545.4Z" fill="#c7c8ca" stroke="#231f20" stroke-width="1.6"/>
<path d="M1399.13 545.4V352.32H1404.32V545.4Z" fill="#c7c8ca" stroke="#231f20" stroke-width="1.6"/>
<path d="M1404.32 545.4V352.32H1409.51V545.4Z" fill="#c7c8ca" stroke="#231f20" stroke-width="1.6"/>
<path d="M1409.51 545.4V390.3H1414.69V545.4Z" fill="#c7c8ca" stroke="#231f20" stroke-width="1.6"/>
<path d="M1414.69 545.4V378.34H1419.88V545.4Z" fill="#c7c8ca" stroke="#231f20" stroke-width="1.6"/>
<path d="M1419.88 545.4V385.96H1425.07V545.4Z" fill="#c7c8ca" stroke="#231f20" stroke-width="1.6"/>
<path d="M1425.07 545.4V387.36H1430.26V545.4Z" fill="#c7c8ca" stroke="#231f20" stroke-width="1.6"/>
<path d="M1430.26 545.4V400.48H1435.44V545.4Z" fill="#c7c8ca" stroke="#231f20" stroke-width="1.6"/>
<path d="M1435.44 545.4V411.13H1440.63V545.4Z" fill="#c7c8ca" stroke="#231f20" stroke-width="1.6"/>
<path d="M1440.63 545.4V425.06H1445.82V545.4Z" fill="#c7c8ca" stroke="#231f20" stroke-width="1.6"/>
<path d="M1445.82 545.4V428.44H1451.01V545.4Z" fill="#c7c8ca" stroke="#231f20" stroke-width="1.6"/>
<path d="M1451.01 545.4V428.44H1456.19V545.4Z" fill="#c7c8ca" stroke="#231f20" stroke-width="1.6"/>
<path d="M1461.38 545.4V472.01H1466.57V545.4Z" fill="#c7c8ca" stroke="#231f20" stroke-width="1.6"/>
<path d="M1466.57 545.4V450.58H1471.76V545.4Z" fill="#c7c8ca" stroke="#231f20" stroke-width="1.6"/>
<path d="M1471.76 545.4V495.3H1476.94V545.4Z" fill="#c7c8ca" stroke="#231f20" stroke-width="1.6"/>
<path d="M1476.94 545.4V472.01H1482.13V545.4Z" fill="#c7c8ca" stroke="#231f20" stroke-width="1.6"/>
<path d="M1487.32 545.4V513.79H1492.51V545.4Z" fill="#c7c8ca" stroke="#231f20" stroke-width="1.6"/>
<path d="M1492.51 545.4V545.4H1497.69V545.4Z" fill="#c7c8ca" stroke="#231f20" stroke-width="1.6"/>
<path d="M1502.88 545.4V545.4H1508.07V545.4Z" fill="#c7c8ca" stroke="#231f20" stroke-width="1.6"/>
<path d="M1508.07 545.4V513.79H1513.26V545.4Z" fill="#c7c8ca" stroke="#231f20" stroke-width="1.6"/>
<path d="M1518.44 545.4V545.4H1523.63V545.4Z" fill="#c7c8ca" stroke="#231f20" stroke-width="1.6"/>
<path d="M1544.38 545.4V545.4H1549.57V545.4Z" fill="#c7c8ca" stroke="#231f20" stroke-width="1.6"/>
</g>
<rect x="1315.6" y="222.5" width="244.5" height="338.5" fill="none" stroke="#505050" stroke-width="1.3"/>
<line x1="1329.1" y1="561" x2="1329.1" y2="565.8" stroke="#505050" stroke-width="1.4"/>
<text x="1329.1" y="587.6" text-anchor="middle" font-family="'TeX Gyre Heros', 'Liberation Sans', Arial, Helvetica, sans-serif" font-weight="bold" font-size="26" fill="#636468">0</text>
<line x1="1380.97" y1="561" x2="1380.97" y2="565.8" stroke="#505050" stroke-width="1.4"/>
<text x="1380.97" y="587.6" text-anchor="middle" font-family="'TeX Gyre Heros', 'Liberation Sans', Arial, Helvetica, sans-serif" font-weight="bold" font-size="26" fill="#636468">10</text>
<line x1="1432.85" y1="561" x2="1432.85" y2="565.8" stroke="#505050" stroke-width="1.4"/>
<text x="1432.85" y="587.6" text-anchor="middle" font-family="'TeX Gyre Heros', 'Liberation Sans', Arial, Helvetica, sans-serif" font-weight="bold" font-size="26" fill="#636468">20</text>
<line x1="1484.72" y1="561" x2="1484.72" y2="565.8" stroke="#505050" stroke-width="1.4"/>
<text x="1484.72" y="587.6" text-anchor="middle" font-family="'TeX Gyre Heros', 'Liberation Sans', Arial, Helvetica, sans-serif" font-weight="bold" font-size="26" fill="#636468">30</text>
<line x1="1536.6" y1="561" x2="1536.6" y2="565.8" stroke="#505050" stroke-width="1.4"/>
<text x="1536.6" y="587.6" text-anchor="middle" font-family="'TeX Gyre Heros', 'Liberation Sans', Arial, Helvetica, sans-serif" font-weight="bold" font-size="26" fill="#636468">40</text>
<line x1="1310.4" y1="545.4" x2="1315.6" y2="545.4" stroke="#505050" stroke-width="1.4"/>
<text x="1308.4" y="554.5" text-anchor="end" font-family="'TeX Gyre Heros', 'Liberation Sans', Arial, Helvetica, sans-serif" font-size="25.5" fill="#636468">1</text>
<line x1="1310.4" y1="440.4" x2="1315.6" y2="440.4" stroke="#505050" stroke-width="1.4"/>
<text x="1308.4" y="449.5" text-anchor="end" font-family="'TeX Gyre Heros', 'Liberation Sans', Arial, Helvetica, sans-serif" font-size="25.5" fill="#636468">10</text>
<line x1="1310.4" y1="335.4" x2="1315.6" y2="335.4" stroke="#505050" stroke-width="1.4"/>
<text x="1307.4" y="348" text-anchor="end" font-family="'TeX Gyre Heros', 'Liberation Sans', Arial, Helvetica, sans-serif" font-size="25.5" fill="#636468">10<tspan font-size="17" dy="-12.9">2</tspan></text>
<line x1="1310.4" y1="230.4" x2="1315.6" y2="230.4" stroke="#505050" stroke-width="1.4"/>
<text x="1307.4" y="243" text-anchor="end" font-family="'TeX Gyre Heros', 'Liberation Sans', Arial, Helvetica, sans-serif" font-size="25.5" fill="#636468">10<tspan font-size="17" dy="-12.9">3</tspan></text>
<text x="1437.85" y="212.5" text-anchor="middle" font-family="'TeX Gyre Heros', 'Liberation Sans', Arial, Helvetica, sans-serif" font-weight="bold" font-style="italic" font-size="25.6" fill="#231f20">Itgam</text>
<clipPath id="c6"><rect x="1615.6" y="222.5" width="244.4" height="338.5"/></clipPath>
<g clip-path="url(#c6)">
<line x1="1654.76" y1="222.5" x2="1654.76" y2="561" stroke="#f4f4f4" stroke-width="0.8"/>
<line x1="1703.29" y1="222.5" x2="1703.29" y2="561" stroke="#f4f4f4" stroke-width="0.8"/>
<line x1="1751.81" y1="222.5" x2="1751.81" y2="561" stroke="#f4f4f4" stroke-width="0.8"/>
<line x1="1800.34" y1="222.5" x2="1800.34" y2="561" stroke="#f4f4f4" stroke-width="0.8"/>
<line x1="1848.86" y1="222.5" x2="1848.86" y2="561" stroke="#f4f4f4" stroke-width="0.8"/>
<line x1="1615.6" y1="499.1" x2="1860" y2="499.1" stroke="#f4f4f4" stroke-width="0.8"/>
<line x1="1615.6" y1="406.9" x2="1860" y2="406.9" stroke="#f4f4f4" stroke-width="0.8"/>
<line x1="1615.6" y1="314.7" x2="1860" y2="314.7" stroke="#f4f4f4" stroke-width="0.8"/>
<line x1="1615.6" y1="222.5" x2="1860" y2="222.5" stroke="#f4f4f4" stroke-width="0.8"/>
<line x1="1630.5" y1="222.5" x2="1630.5" y2="561" stroke="#ebebeb" stroke-width="1.4"/>
<line x1="1679.03" y1="222.5" x2="1679.03" y2="561" stroke="#ebebeb" stroke-width="1.4"/>
<line x1="1727.55" y1="222.5" x2="1727.55" y2="561" stroke="#ebebeb" stroke-width="1.4"/>
<line x1="1776.08" y1="222.5" x2="1776.08" y2="561" stroke="#ebebeb" stroke-width="1.4"/>
<line x1="1824.6" y1="222.5" x2="1824.6" y2="561" stroke="#ebebeb" stroke-width="1.4"/>
<line x1="1615.6" y1="545.2" x2="1860" y2="545.2" stroke="#ebebeb" stroke-width="1.4"/>
<line x1="1615.6" y1="453" x2="1860" y2="453" stroke="#ebebeb" stroke-width="1.4"/>
<line x1="1615.6" y1="360.8" x2="1860" y2="360.8" stroke="#ebebeb" stroke-width="1.4"/>
<line x1="1615.6" y1="268.6" x2="1860" y2="268.6" stroke="#ebebeb" stroke-width="1.4"/>
<path d="M1625.65 545.2V237.34H1635.35V545.2Z" fill="#c7c8ca" stroke="#231f20" stroke-width="1.6"/>
<path d="M1635.35 545.2V250.44H1645.06V545.2Z" fill="#c7c8ca" stroke="#231f20" stroke-width="1.6"/>
<path d="M1645.06 545.2V268.16H1654.76V545.2Z" fill="#c7c8ca" stroke="#231f20" stroke-width="1.6"/>
<path d="M1654.76 545.2V288.66H1664.47V545.2Z" fill="#c7c8ca" stroke="#231f20" stroke-width="1.6"/>
<path d="M1664.47 545.2V306.1H1674.17V545.2Z" fill="#c7c8ca" stroke="#231f20" stroke-width="1.6"/>
<path d="M1674.17 545.2V322.54H1683.88V545.2Z" fill="#c7c8ca" stroke="#231f20" stroke-width="1.6"/>
<path d="M1683.88 545.2V347.33H1693.58V545.2Z" fill="#c7c8ca" stroke="#231f20" stroke-width="1.6"/>
<path d="M1693.58 545.2V366.84H1703.29V545.2Z" fill="#c7c8ca" stroke="#231f20" stroke-width="1.6"/>
<path d="M1703.29 545.2V385.47H1712.99V545.2Z" fill="#c7c8ca" stroke="#231f20" stroke-width="1.6"/>
<path d="M1712.99 545.2V411.77H1722.7V545.2Z" fill="#c7c8ca" stroke="#231f20" stroke-width="1.6"/>
<path d="M1722.7 545.2V419.65H1732.4V545.2Z" fill="#c7c8ca" stroke="#231f20" stroke-width="1.6"/>
<path d="M1732.4 545.2V445.7H1742.11V545.2Z" fill="#c7c8ca" stroke="#231f20" stroke-width="1.6"/>
<path d="M1742.11 545.2V449.18H1751.81V545.2Z" fill="#c7c8ca" stroke="#231f20" stroke-width="1.6"/>
<path d="M1751.81 545.2V501.21H1761.52V545.2Z" fill="#c7c8ca" stroke="#231f20" stroke-width="1.6"/>
<path d="M1761.52 545.2V545.2H1771.22V545.2Z" fill="#c7c8ca" stroke="#231f20" stroke-width="1.6"/>
<path d="M1771.22 545.2V501.21H1780.93V545.2Z" fill="#c7c8ca" stroke="#231f20" stroke-width="1.6"/>
<path d="M1780.93 545.2V545.2H1790.63V545.2Z" fill="#c7c8ca" stroke="#231f20" stroke-width="1.6"/>
<path d="M1819.75 545.2V545.2H1829.45V545.2Z" fill="#c7c8ca" stroke="#231f20" stroke-width="1.6"/>
<path d="M1839.16 545.2V545.2H1848.86V545.2Z" fill="#c7c8ca" stroke="#231f20" stroke-width="1.6"/>
</g>
<rect x="1615.6" y="222.5" width="244.4" height="338.5" fill="none" stroke="#505050" stroke-width="1.3"/>
<line x1="1630.5" y1="561" x2="1630.5" y2="565.8" stroke="#505050" stroke-width="1.4"/>
<text x="1630.5" y="587.6" text-anchor="middle" font-family="'TeX Gyre Heros', 'Liberation Sans', Arial, Helvetica, sans-serif" font-weight="bold" font-size="26" fill="#636468">0</text>
<line x1="1679.03" y1="561" x2="1679.03" y2="565.8" stroke="#505050" stroke-width="1.4"/>
<text x="1679.03" y="587.6" text-anchor="middle" font-family="'TeX Gyre Heros', 'Liberation Sans', Arial, Helvetica, sans-serif" font-weight="bold" font-size="26" fill="#636468">5</text>
<line x1="1727.55" y1="561" x2="1727.55" y2="565.8" stroke="#505050" stroke-width="1.4"/>
<text x="1727.55" y="587.6" text-anchor="middle" font-family="'TeX Gyre Heros', 'Liberation Sans', Arial, Helvetica, sans-serif" font-weight="bold" font-size="26" fill="#636468">10</text>
<line x1="1776.08" y1="561" x2="1776.08" y2="565.8" stroke="#505050" stroke-width="1.4"/>
<text x="1776.08" y="587.6" text-anchor="middle" font-family="'TeX Gyre Heros', 'Liberation Sans', Arial, Helvetica, sans-serif" font-weight="bold" font-size="26" fill="#636468">15</text>
<line x1="1824.6" y1="561" x2="1824.6" y2="565.8" stroke="#505050" stroke-width="1.4"/>
<text x="1824.6" y="587.6" text-anchor="middle" font-family="'TeX Gyre Heros', 'Liberation Sans', Arial, Helvetica, sans-serif" font-weight="bold" font-size="26" fill="#636468">20</text>
<line x1="1610.4" y1="545.2" x2="1615.6" y2="545.2" stroke="#505050" stroke-width="1.4"/>
<text x="1608.4" y="554.3" text-anchor="end" font-family="'TeX Gyre Heros', 'Liberation Sans', Arial, Helvetica, sans-serif" font-size="25.5" fill="#636468">1</text>
<line x1="1610.4" y1="453" x2="1615.6" y2="453" stroke="#505050" stroke-width="1.4"/>
<text x="1608.4" y="462.1" text-anchor="end" font-family="'TeX Gyre Heros', 'Liberation Sans', Arial, Helvetica, sans-serif" font-size="25.5" fill="#636468">10</text>
<line x1="1610.4" y1="360.8" x2="1615.6" y2="360.8" stroke="#505050" stroke-width="1.4"/>
<text x="1607.4" y="373.4" text-anchor="end" font-family="'TeX Gyre Heros', 'Liberation Sans', Arial, Helvetica, sans-serif" font-size="25.5" fill="#636468">10<tspan font-size="17" dy="-12.9">2</tspan></text>
<line x1="1610.4" y1="268.6" x2="1615.6" y2="268.6" stroke="#505050" stroke-width="1.4"/>
<text x="1607.4" y="281.2" text-anchor="end" font-family="'TeX Gyre Heros', 'Liberation Sans', Arial, Helvetica, sans-serif" font-size="25.5" fill="#636468">10<tspan font-size="17" dy="-12.9">3</tspan></text>
<text x="1737.8" y="212.5" text-anchor="middle" font-family="'TeX Gyre Heros', 'Liberation Sans', Arial, Helvetica, sans-serif" font-weight="bold" font-style="italic" font-size="25.6" fill="#231f20">Cd86</text>
<clipPath id="c7"><rect x="119.5" y="785" width="244" height="338.7"/></clipPath>
<g clip-path="url(#c7)">
<line x1="241.1" y1="785" x2="241.1" y2="1123.7" stroke="#f4f4f4" stroke-width="0.8"/>
<line x1="119.5" y1="1068.28" x2="363.5" y2="1068.28" stroke="#f4f4f4" stroke-width="0.8"/>
<line x1="119.5" y1="989.25" x2="363.5" y2="989.25" stroke="#f4f4f4" stroke-width="0.8"/>
<line x1="119.5" y1="910.22" x2="363.5" y2="910.22" stroke="#f4f4f4" stroke-width="0.8"/>
<line x1="119.5" y1="831.19" x2="363.5" y2="831.19" stroke="#f4f4f4" stroke-width="0.8"/>
<line x1="182.7" y1="785" x2="182.7" y2="1123.7" stroke="#ebebeb" stroke-width="1.4"/>
<line x1="299.5" y1="785" x2="299.5" y2="1123.7" stroke="#ebebeb" stroke-width="1.4"/>
<line x1="119.5" y1="1107.8" x2="363.5" y2="1107.8" stroke="#ebebeb" stroke-width="1.4"/>
<line x1="119.5" y1="1028.77" x2="363.5" y2="1028.77" stroke="#ebebeb" stroke-width="1.4"/>
<line x1="119.5" y1="949.74" x2="363.5" y2="949.74" stroke="#ebebeb" stroke-width="1.4"/>
<line x1="119.5" y1="870.71" x2="363.5" y2="870.71" stroke="#ebebeb" stroke-width="1.4"/>
<line x1="119.5" y1="791.68" x2="363.5" y2="791.68" stroke="#ebebeb" stroke-width="1.4"/>
<path d="M130.14 1107.8V799.9H235.26V1107.8Z" fill="#c7c8ca" stroke="#231f20" stroke-width="1.6"/>
<path d="M246.94 1107.8V1046.3H352.06V1107.8Z" fill="#c7c8ca" stroke="#231f20" stroke-width="1.6"/>
</g>
<rect x="119.5" y="785" width="244" height="338.7" fill="none" stroke="#505050" stroke-width="1.3"/>
<line x1="182.7" y1="1123.7" x2="182.7" y2="1128.5" stroke="#505050" stroke-width="1.4"/>
<text x="182.7" y="1150.3" text-anchor="middle" font-family="'TeX Gyre Heros', 'Liberation Sans', Arial, Helvetica, sans-serif" font-weight="bold" font-size="26" fill="#636468">0</text>
<line x1="299.5" y1="1123.7" x2="299.5" y2="1128.5" stroke="#505050" stroke-width="1.4"/>
<text x="299.5" y="1150.3" text-anchor="middle" font-family="'TeX Gyre Heros', 'Liberation Sans', Arial, Helvetica, sans-serif" font-weight="bold" font-size="26" fill="#636468">1</text>
<line x1="114.3" y1="1107.8" x2="119.5" y2="1107.8" stroke="#505050" stroke-width="1.4"/>
<text x="112.3" y="1116.9" text-anchor="end" font-family="'TeX Gyre Heros', 'Liberation Sans', Arial, Helvetica, sans-serif" font-size="25.5" fill="#636468">1</text>
<line x1="114.3" y1="1028.77" x2="119.5" y2="1028.77" stroke="#505050" stroke-width="1.4"/>
<text x="112.3" y="1037.87" text-anchor="end" font-family="'TeX Gyre Heros', 'Liberation Sans', Arial, Helvetica, sans-serif" font-size="25.5" fill="#636468">10</text>
<line x1="114.3" y1="949.74" x2="119.5" y2="949.74" stroke="#505050" stroke-width="1.4"/>
<text x="111.3" y="962.34" text-anchor="end" font-family="'TeX Gyre Heros', 'Liberation Sans', Arial, Helvetica, sans-serif" font-size="25.5" fill="#636468">10<tspan font-size="17" dy="-12.9">2</tspan></text>
<line x1="114.3" y1="870.71" x2="119.5" y2="870.71" stroke="#505050" stroke-width="1.4"/>
<text x="111.3" y="883.31" text-anchor="end" font-family="'TeX Gyre Heros', 'Liberation Sans', Arial, Helvetica, sans-serif" font-size="25.5" fill="#636468">10<tspan font-size="17" dy="-12.9">3</tspan></text>
<line x1="114.3" y1="791.68" x2="119.5" y2="791.68" stroke="#505050" stroke-width="1.4"/>
<text x="111.3" y="804.28" text-anchor="end" font-family="'TeX Gyre Heros', 'Liberation Sans', Arial, Helvetica, sans-serif" font-size="25.5" fill="#636468">10<tspan font-size="17" dy="-12.9">4</tspan></text>
<text x="241.5" y="775" text-anchor="middle" font-family="'TeX Gyre Heros', 'Liberation Sans', Arial, Helvetica, sans-serif" font-weight="bold" font-style="italic" font-size="25.6" fill="#231f20">Fcmr</text>
<clipPath id="c8"><rect x="418.75" y="785" width="244.45" height="338.7"/></clipPath>
<g clip-path="url(#c8)">
<line x1="464.65" y1="785" x2="464.65" y2="1123.7" stroke="#f4f4f4" stroke-width="0.8"/>
<line x1="534.35" y1="785" x2="534.35" y2="1123.7" stroke="#f4f4f4" stroke-width="0.8"/>
<line x1="604.05" y1="785" x2="604.05" y2="1123.7" stroke="#f4f4f4" stroke-width="0.8"/>
<line x1="418.75" y1="1037.8" x2="663.2" y2="1037.8" stroke="#f4f4f4" stroke-width="0.8"/>
<line x1="418.75" y1="897.8" x2="663.2" y2="897.8" stroke="#f4f4f4" stroke-width="0.8"/>
<line x1="429.8" y1="785" x2="429.8" y2="1123.7" stroke="#ebebeb" stroke-width="1.4"/>
<line x1="499.5" y1="785" x2="499.5" y2="1123.7" stroke="#ebebeb" stroke-width="1.4"/>
<line x1="569.2" y1="785" x2="569.2" y2="1123.7" stroke="#ebebeb" stroke-width="1.4"/>
<line x1="638.9" y1="785" x2="638.9" y2="1123.7" stroke="#ebebeb" stroke-width="1.4"/>
<line x1="418.75" y1="1107.8" x2="663.2" y2="1107.8" stroke="#ebebeb" stroke-width="1.4"/>
<line x1="418.75" y1="967.8" x2="663.2" y2="967.8" stroke="#ebebeb" stroke-width="1.4"/>
<line x1="418.75" y1="827.8" x2="663.2" y2="827.8" stroke="#ebebeb" stroke-width="1.4"/>
<path d="M429.45 1107.8V989.49H430.15V928.77H430.85V943.15H431.54V883.51H432.24V886.63H432.94V844.49H433.63V846.93H434.33V842.91H435.03V842.91H435.72V829.03H436.42V830.92H437.12V820.91H437.82V819.83H438.51V820.91H439.21V825.42H439.91V815.21H440.6V806.91H441.3V812.32H442V806.48H442.69V808.66H443.39V806.91H444.09V807.78H444.79V799.99H445.48V810.01H446.18V805.63H446.88V819.83H447.57V808.66H448.27V803.96H448.97V812.32H449.66V810.92H450.36V805.63H451.06V806.91H451.76V819.83H452.45V816.21H453.15V811.38H453.85V813.27H454.54V809.55H455.24V819.3H455.94V807.34H456.63V812.79H457.33V820.91H458.03V812.79H458.73V815.71H459.42V834.21H460.12V824.83H460.82V825.42H461.51V829.65H462.21V829.03H462.91V835.57H463.6V853.99H464.3V837.68H465V848.62H465.7V839.13H466.39V839.13H467.09V845.29H467.79V834.89H468.48V851.25H469.18V848.62H469.88V844.49H470.57V848.62H471.27V854.93H471.97V856.87H472.67V841.37H473.36V853.99H474.06V860.92H474.76V863.05H475.45V876.35H476.15V860.92H476.85V850.36H477.54V850.36H478.24V864.15H478.94V861.98H479.64V864.15H480.33V888.25H481.03V882.01H481.73V879.11H482.42V879.11H483.12V889.92H483.82V888.25H484.51V897.08H485.21V891.63H485.91V905.2H486.61V912.09H487.3V925.66H488V899.01H488.7V914.57H489.39V909.7H490.09V919.86H490.79V922.69H491.48V897.08H492.18V922.69H492.88V925.66H493.58V932.06H494.27V909.7H494.97V905.2H495.67V932.06H496.36V956.71H497.06V922.69H497.76V935.54H498.45V935.54H499.15V943.15H499.85V943.15H500.55V939.22H501.24V914.57H501.94V939.22H502.64V947.34H503.33V947.34H504.03V956.71H504.73V951.85H505.42V967.8H506.12V1009.94H506.82V956.71H507.52V951.85H508.21V939.22H508.91V967.8H509.61V1009.94H510.3V951.85H511V998.86H511.7V1023.51H512.39V974.21H513.09V967.8H513.79V998.86H514.49V998.86H515.18V962.01H515.88V1009.94H516.58V989.49H517.27V974.21H517.97V998.86H518.67V967.8H519.36V1009.94H520.06V1041H520.76V998.86H521.46V989.49H522.15V1009.94H522.85V998.86H523.55V1065.66H524.24V1009.94H524.94V1009.94H525.64V998.86H526.33V1041H527.03V1023.51H527.73V1009.94H528.43V998.86H529.12V998.86H529.82V998.86H530.52V1041H531.21V1023.51H531.91V1065.66H532.61V1065.66H533.3V1065.66H534V1065.66H534.7V1041H535.4V1009.94H536.09V998.86H536.79V1065.66H537.49V1065.66H538.18V1065.66H538.88V1107.8H539.58V1023.51H540.27V1041H540.97V1041H541.67V1107.8ZM542.37 1107.8V1041H543.06V1041H543.76V1107.8ZM544.46 1107.8V1041H545.15V1107.8H545.85V1065.66H546.55V1107.8H547.24V1065.66H547.94V1107.8ZM548.64 1107.8V1023.51H549.34V1065.66H550.03V1065.66H550.73V1107.8ZM551.43 1107.8V1065.66H552.12V1065.66H552.82V1009.94H553.52V1107.8H554.21V1107.8H554.91V1065.66H555.61V1041H556.31V1065.66H557V1107.8ZM557.7 1107.8V1041H558.4V1107.8ZM559.09 1107.8V1065.66H559.79V1107.8H560.49V1107.8ZM561.18 1107.8V1065.66H561.88V1041H562.58V1107.8H563.28V1065.66H563.97V1107.8H564.67V1065.66H565.37V1107.8ZM566.06 1107.8V1065.66H566.76V1023.51H567.46V1107.8H568.15V1065.66H568.85V1107.8H569.55V1107.8ZM570.25 1107.8V1065.66H570.94V1107.8H571.64V1107.8ZM573.73 1107.8V1107.8H574.43V1041H575.12V1107.8ZM575.82 1107.8V1065.66H576.52V1107.8Z" fill="#231f20" stroke="#231f20" stroke-width="1.7" stroke-linejoin="miter"/>
<path d="M577.06 1107.8H579.46ZM578.46 1107.8H580.85ZM579.85 1107.8H582.25ZM585.43 1107.8H587.82ZM591 1107.8H593.4ZM592.4 1107.8H594.79ZM602.15 1107.8H604.55ZM606.34 1107.8H608.73ZM616.79 1107.8H619.89ZM619.58 1107.8H621.98ZM650.25 1107.8H652.64Z" fill="none" stroke="#231f20" stroke-width="1.3"/>
</g>
<rect x="418.75" y="785" width="244.45" height="338.7" fill="none" stroke="#505050" stroke-width="1.3"/>
<line x1="429.8" y1="1123.7" x2="429.8" y2="1128.5" stroke="#505050" stroke-width="1.4"/>
<text x="429.8" y="1150.3" text-anchor="middle" font-family="'TeX Gyre Heros', 'Liberation Sans', Arial, Helvetica, sans-serif" font-weight="bold" font-size="26" fill="#636468">0</text>
<line x1="499.5" y1="1123.7" x2="499.5" y2="1128.5" stroke="#505050" stroke-width="1.4"/>
<text x="499.5" y="1150.3" text-anchor="middle" font-family="'TeX Gyre Heros', 'Liberation Sans', Arial, Helvetica, sans-serif" font-weight="bold" font-size="26" fill="#636468">100</text>
<line x1="569.2" y1="1123.7" x2="569.2" y2="1128.5" stroke="#505050" stroke-width="1.4"/>
<text x="569.2" y="1150.3" text-anchor="middle" font-family="'TeX Gyre Heros', 'Liberation Sans', Arial, Helvetica, sans-serif" font-weight="bold" font-size="26" fill="#636468">200</text>
<line x1="638.9" y1="1123.7" x2="638.9" y2="1128.5" stroke="#505050" stroke-width="1.4"/>
<text x="638.9" y="1150.3" text-anchor="middle" font-family="'TeX Gyre Heros', 'Liberation Sans', Arial, Helvetica, sans-serif" font-weight="bold" font-size="26" fill="#636468">300</text>
<line x1="413.55" y1="1107.8" x2="418.75" y2="1107.8" stroke="#505050" stroke-width="1.4"/>
<text x="411.55" y="1116.9" text-anchor="end" font-family="'TeX Gyre Heros', 'Liberation Sans', Arial, Helvetica, sans-serif" font-size="25.5" fill="#636468">1</text>
<line x1="413.55" y1="967.8" x2="418.75" y2="967.8" stroke="#505050" stroke-width="1.4"/>
<text x="411.55" y="976.9" text-anchor="end" font-family="'TeX Gyre Heros', 'Liberation Sans', Arial, Helvetica, sans-serif" font-size="25.5" fill="#636468">10</text>
<line x1="413.55" y1="827.8" x2="418.75" y2="827.8" stroke="#505050" stroke-width="1.4"/>
<text x="410.55" y="840.4" text-anchor="end" font-family="'TeX Gyre Heros', 'Liberation Sans', Arial, Helvetica, sans-serif" font-size="25.5" fill="#636468">10<tspan font-size="17" dy="-12.9">2</tspan></text>
<text x="540.98" y="775" text-anchor="middle" font-family="'TeX Gyre Heros', 'Liberation Sans', Arial, Helvetica, sans-serif" font-weight="bold" font-style="italic" font-size="25.6" fill="#231f20">Gapdh</text>
<clipPath id="c9"><rect x="718.75" y="785" width="243.75" height="338.7"/></clipPath>
<g clip-path="url(#c9)">
<line x1="767.16" y1="785" x2="767.16" y2="1123.7" stroke="#f4f4f4" stroke-width="0.8"/>
<line x1="842.88" y1="785" x2="842.88" y2="1123.7" stroke="#f4f4f4" stroke-width="0.8"/>
<line x1="918.6" y1="785" x2="918.6" y2="1123.7" stroke="#f4f4f4" stroke-width="0.8"/>
<line x1="718.75" y1="1055" x2="962.5" y2="1055" stroke="#f4f4f4" stroke-width="0.8"/>
<line x1="718.75" y1="949.4" x2="962.5" y2="949.4" stroke="#f4f4f4" stroke-width="0.8"/>
<line x1="718.75" y1="843.8" x2="962.5" y2="843.8" stroke="#f4f4f4" stroke-width="0.8"/>
<line x1="729.3" y1="785" x2="729.3" y2="1123.7" stroke="#ebebeb" stroke-width="1.4"/>
<line x1="805.02" y1="785" x2="805.02" y2="1123.7" stroke="#ebebeb" stroke-width="1.4"/>
<line x1="880.74" y1="785" x2="880.74" y2="1123.7" stroke="#ebebeb" stroke-width="1.4"/>
<line x1="956.46" y1="785" x2="956.46" y2="1123.7" stroke="#ebebeb" stroke-width="1.4"/>
<line x1="718.75" y1="1107.8" x2="962.5" y2="1107.8" stroke="#ebebeb" stroke-width="1.4"/>
<line x1="718.75" y1="1002.2" x2="962.5" y2="1002.2" stroke="#ebebeb" stroke-width="1.4"/>
<line x1="718.75" y1="896.6" x2="962.5" y2="896.6" stroke="#ebebeb" stroke-width="1.4"/>
<line x1="718.75" y1="791" x2="962.5" y2="791" stroke="#ebebeb" stroke-width="1.4"/>
<path d="M729.11 1107.8V803.41H729.49V819.94H729.87V830.89H730.25V841.57H730.63V866.68H731V872.81H731.38V889.01H731.76V896.14H732.14V896.6H732.52V900.93H732.9V904.6H733.28V917.07H733.65V907.41H734.03V907.41H734.41V909.79H734.79V914.29H735.17V925.72H735.55V911.67H735.93V920.8H736.3V927.48H736.68V919.27H737.06V911.67H737.44V922.38H737.82V930.26H738.2V914.97H738.58V927.48H738.95V924.86H739.33V927.48H739.71V934.25H740.09V926.59H740.47V922.38H740.85V929.32H741.23V933.22H741.6V926.59H741.98V934.25H742.36V935.31H742.74V926.59H743.12V929.32H743.5V935.31H743.88V947.44H744.25V947.44H744.63V932.21H745.01V934.25H745.39V944.75H745.77V966.04H746.15V943.45H746.53V942.2H746.9V944.75H747.28V958.38H747.66V951.82H748.04V948.86H748.42V940.97H748.8V942.2H749.18V950.31H749.56V944.75H749.93V943.45H750.31V950.31H750.69V960.18H751.07V953.37H751.45V944.75H751.83V943.45H752.21V956.65H752.58V964H752.96V980.64H753.34V964H753.72V964H754.1V937.49H754.48V944.75H754.86V953.37H755.23V977.86H755.61V968.17H755.99V977.86H756.37V958.38H756.75V960.18H757.13V970.41H757.51V972.76H757.88V951.82H758.26V954.98H758.64V968.17H759.02V962.05H759.4V990.17H759.78V986.77H760.16V964H760.53V970.41H760.91V962.05H761.29V980.64H761.67V993.84H762.05V977.86H762.43V970.41H762.81V980.64H763.18V975.24H763.56V977.86H763.94V977.86H764.32V980.64H764.7V980.64H765.08V972.76H765.46V972.76H765.83V975.24H766.21V993.84H766.59V977.86H766.97V983.6H767.35V975.24H767.73V1002.2H768.11V990.17H768.49V975.24H768.86V972.76H769.24V968.17H769.62V983.6H770V986.77H770.38V977.86H770.76V972.76H771.14V1002.2H771.51V990.17H771.89V990.17H772.27V970.41H772.65V977.86H773.03V990.17H773.41V980.64H773.79V980.64H774.16V1002.2H774.54V970.41H774.92V986.77H775.3V983.6H775.68V975.24H776.06V990.17H776.44V970.41H776.81V983.6H777.19V1007.03H777.57V986.77H777.95V986.77H778.33V990.17H778.71V993.84H779.09V993.84H779.46V972.76H779.84V1007.03H780.22V990.17H780.6V986.77H780.98V993.84H781.36V997.83H781.74V1007.03H782.11V1012.43H782.49V1018.56H782.87V980.64H783.25V1002.2H783.63V1002.2H784.01V1002.2H784.39V986.77H784.76V1012.43H785.14V980.64H785.52V1018.56H785.9V1012.43H786.28V1012.43H786.66V997.83H787.04V990.17H787.42V970.41H787.79V990.17H788.17V1025.63H788.55V1012.43H788.93V1007.03H789.31V1012.43H789.69V1012.43H790.07V1033.99H790.44V990.17H790.82V993.84H791.2V1044.22H791.58V1012.43H791.96V1044.22H792.34V1025.63H792.72V986.77H793.09V1007.03H793.47V1044.22H793.85V1012.43H794.23V1044.22H794.61V1002.2H794.99V1002.2H795.37V1025.63H795.74V1012.43H796.12V1012.43H796.5V1002.2H796.88V1012.43H797.26V1007.03H797.64V1076.01H798.02V1057.42H798.39V1025.63H798.77V1033.99H799.15V1002.2H799.53V1033.99H799.91V1033.99H800.29V1033.99H800.67V1012.43H801.04V1057.42H801.42V1057.42H801.8V1002.2H802.18V1018.56H802.56V1033.99H802.94V1044.22H803.32V1025.63H803.69V1044.22H804.07V1025.63H804.45V1033.99H804.83V1025.63H805.21V1018.56H805.59V1012.43H805.97V1012.43H806.35V1025.63H806.72V1057.42H807.1V1044.22H807.48V1012.43H807.86V1025.63H808.24V1057.42H808.62V1025.63H809V1044.22H809.37V1044.22H809.75V997.83H810.13V1044.22H810.51V1018.56H810.89V1057.42H811.27V1033.99H811.65V1018.56H812.02V1033.99H812.4V1057.42H812.78V1057.42H813.16V1076.01H813.54V1033.99H813.92V1057.42H814.3V1018.56H814.67V1025.63H815.05V1044.22H815.43V1057.42H815.81V1018.56H816.19V1033.99H816.57V1033.99H816.95V1044.22H817.32V1033.99H817.7V1057.42H818.08V1033.99H818.46V1018.56H818.84V1033.99H819.22V1076.01H819.6V1007.03H819.97V1076.01H820.35V1107.8H820.73V1033.99H821.11V1044.22H821.49V1076.01H821.87V1076.01H822.25V1033.99H822.62V1033.99H823V1107.8H823.38V1044.22H823.76V1107.8H824.14V1044.22H824.52V1107.8H824.9V1012.43H825.28V1076.01H825.65V1057.42H826.03V1057.42H826.41V1107.8H826.79V1012.43H827.17V1044.22H827.55V1076.01H827.93V1044.22H828.3V1033.99H828.68V1044.22H829.06V1057.42H829.44V1107.8H829.82V1076.01H830.2V1076.01H830.58V1076.01H830.95V1076.01H831.33V1107.8H831.71V1076.01H832.09V1044.22H832.47V1107.8ZM832.85 1107.8V1044.22H833.23V1057.42H833.6V1057.42H833.98V1057.42H834.36V1057.42H834.74V1076.01H835.12V1057.42H835.5V1107.8ZM835.88 1107.8V1076.01H836.25V1057.42H836.63V1107.8H837.01V1076.01H837.39V1033.99H837.77V1076.01H838.15V1107.8H838.53V1107.8ZM838.9 1107.8V1057.42H839.28V1057.42H839.66V1107.8ZM840.04 1107.8V1076.01H840.42V1076.01H840.8V1057.42H841.18V1076.01H841.55V1057.42H841.93V1044.22H842.31V1033.99H842.69V1107.8H843.07V1076.01H843.45V1057.42H843.83V1107.8H844.21V1107.8ZM844.58 1107.8V1076.01H844.96V1107.8ZM845.34 1107.8V1107.8H845.72V1076.01H846.1V1033.99H846.48V1044.22H846.86V1107.8H847.23V1107.8H847.61V1044.22H847.99V1107.8ZM848.37 1107.8V1076.01H848.75V1076.01H849.13V1107.8ZM849.88 1107.8V1107.8H850.26V1107.8H850.64V1107.8H851.02V1107.8H851.4V1076.01H851.78V1057.42H852.16V1057.42H852.53V1057.42H852.91V1044.22H853.29V1107.8H853.67V1107.8H854.05V1107.8ZM854.43 1107.8V1076.01H854.81V1107.8ZM855.18 1107.8V1076.01H855.56V1076.01H855.94V1107.8ZM856.32 1107.8V1107.8H856.7V1107.8H857.08V1107.8H857.46V1107.8H857.83V1107.8H858.21V1057.42H858.59V1107.8H858.97V1107.8H859.35V1057.42H859.73V1107.8ZM860.11 1107.8V1057.42H860.48V1076.01H860.86V1107.8ZM861.62 1107.8V1057.42H862V1107.8ZM863.51 1107.8V1107.8H863.89V1107.8H864.27V1107.8H864.65V1107.8H865.03V1107.8H865.41V1107.8H865.79V1044.22H866.16V1107.8H866.54V1107.8ZM866.92 1107.8V1044.22H867.3V1107.8ZM867.68 1107.8V1107.8H868.06V1107.8H868.44V1107.8H868.81V1107.8H869.19V1107.8H869.57V1057.42H869.95V1107.8ZM873.36 1107.8V1076.01H873.74V1107.8ZM874.87 1107.8V1107.8H875.25V1057.42H875.63V1107.8ZM876.39 1107.8V1076.01H876.76V1107.8ZM882.82 1107.8V1107.8H883.2V1076.01H883.58V1107.8ZM888.12 1107.8V1076.01H888.5V1107.8ZM893.8 1107.8V1076.01H894.18V1107.8H894.56V1107.8Z" fill="#231f20" stroke="#231f20" stroke-width="1.7" stroke-linejoin="miter"/>
<path d="M861.53 1107.8H863.61ZM870.61 1107.8H873.07ZM873.26 1107.8H875.34ZM876.67 1107.8H879.13ZM878.56 1107.8H880.64ZM880.46 1107.8H882.54ZM883.11 1107.8H885.57ZM884.24 1107.8H886.32ZM885.76 1107.8H888.22ZM890.3 1107.8H892.38ZM894.09 1107.8H896.54ZM895.22 1107.8H897.3ZM896.36 1107.8H898.82ZM899.01 1107.8H901.09ZM906.58 1107.8H908.66ZM913.4 1107.8H915.85ZM917.56 1107.8H919.64ZM924 1107.8H926.08ZM925.89 1107.8H927.97ZM928.92 1107.8H931ZM929.68 1107.8H931.75ZM941.03 1107.8H943.11ZM951.63 1107.8H953.71Z" fill="none" stroke="#231f20" stroke-width="1.3"/>
</g>
<rect x="718.75" y="785" width="243.75" height="338.7" fill="none" stroke="#505050" stroke-width="1.3"/>
<line x1="729.3" y1="1123.7" x2="729.3" y2="1128.5" stroke="#505050" stroke-width="1.4"/>
<text x="729.3" y="1150.3" text-anchor="middle" font-family="'TeX Gyre Heros', 'Liberation Sans', Arial, Helvetica, sans-serif" font-weight="bold" font-size="26" fill="#636468">0</text>
<line x1="805.02" y1="1123.7" x2="805.02" y2="1128.5" stroke="#505050" stroke-width="1.4"/>
<text x="805.02" y="1150.3" text-anchor="middle" font-family="'TeX Gyre Heros', 'Liberation Sans', Arial, Helvetica, sans-serif" font-weight="bold" font-size="26" fill="#636468">200</text>
<line x1="880.74" y1="1123.7" x2="880.74" y2="1128.5" stroke="#505050" stroke-width="1.4"/>
<text x="880.74" y="1150.3" text-anchor="middle" font-family="'TeX Gyre Heros', 'Liberation Sans', Arial, Helvetica, sans-serif" font-weight="bold" font-size="26" fill="#636468">400</text>
<line x1="956.46" y1="1123.7" x2="956.46" y2="1128.5" stroke="#505050" stroke-width="1.4"/>
<text x="956.46" y="1150.3" text-anchor="middle" font-family="'TeX Gyre Heros', 'Liberation Sans', Arial, Helvetica, sans-serif" font-weight="bold" font-size="26" fill="#636468">600</text>
<line x1="713.55" y1="1107.8" x2="718.75" y2="1107.8" stroke="#505050" stroke-width="1.4"/>
<text x="711.55" y="1116.9" text-anchor="end" font-family="'TeX Gyre Heros', 'Liberation Sans', Arial, Helvetica, sans-serif" font-size="25.5" fill="#636468">1</text>
<line x1="713.55" y1="1002.2" x2="718.75" y2="1002.2" stroke="#505050" stroke-width="1.4"/>
<text x="711.55" y="1011.3" text-anchor="end" font-family="'TeX Gyre Heros', 'Liberation Sans', Arial, Helvetica, sans-serif" font-size="25.5" fill="#636468">10</text>
<line x1="713.55" y1="896.6" x2="718.75" y2="896.6" stroke="#505050" stroke-width="1.4"/>
<text x="710.55" y="909.2" text-anchor="end" font-family="'TeX Gyre Heros', 'Liberation Sans', Arial, Helvetica, sans-serif" font-size="25.5" fill="#636468">10<tspan font-size="17" dy="-12.9">2</tspan></text>
<line x1="713.55" y1="791" x2="718.75" y2="791" stroke="#505050" stroke-width="1.4"/>
<text x="710.55" y="803.6" text-anchor="end" font-family="'TeX Gyre Heros', 'Liberation Sans', Arial, Helvetica, sans-serif" font-size="25.5" fill="#636468">10<tspan font-size="17" dy="-12.9">3</tspan></text>
<text x="840.62" y="775" text-anchor="middle" font-family="'TeX Gyre Heros', 'Liberation Sans', Arial, Helvetica, sans-serif" font-weight="bold" font-style="italic" font-size="25.6" fill="#231f20">Cd74</text>
<clipPath id="c10"><rect x="1018" y="785" width="244.5" height="338.7"/></clipPath>
<g clip-path="url(#c10)">
<line x1="1052.26" y1="785" x2="1052.26" y2="1123.7" stroke="#f4f4f4" stroke-width="0.8"/>
<line x1="1098.19" y1="785" x2="1098.19" y2="1123.7" stroke="#f4f4f4" stroke-width="0.8"/>
<line x1="1144.12" y1="785" x2="1144.12" y2="1123.7" stroke="#f4f4f4" stroke-width="0.8"/>
<line x1="1190.05" y1="785" x2="1190.05" y2="1123.7" stroke="#f4f4f4" stroke-width="0.8"/>
<line x1="1235.98" y1="785" x2="1235.98" y2="1123.7" stroke="#f4f4f4" stroke-width="0.8"/>
<line x1="1018" y1="1045.9" x2="1262.5" y2="1045.9" stroke="#f4f4f4" stroke-width="0.8"/>
<line x1="1018" y1="922.1" x2="1262.5" y2="922.1" stroke="#f4f4f4" stroke-width="0.8"/>
<line x1="1018" y1="798.3" x2="1262.5" y2="798.3" stroke="#f4f4f4" stroke-width="0.8"/>
<line x1="1029.3" y1="785" x2="1029.3" y2="1123.7" stroke="#ebebeb" stroke-width="1.4"/>
<line x1="1075.23" y1="785" x2="1075.23" y2="1123.7" stroke="#ebebeb" stroke-width="1.4"/>
<line x1="1121.16" y1="785" x2="1121.16" y2="1123.7" stroke="#ebebeb" stroke-width="1.4"/>
<line x1="1167.09" y1="785" x2="1167.09" y2="1123.7" stroke="#ebebeb" stroke-width="1.4"/>
<line x1="1213.02" y1="785" x2="1213.02" y2="1123.7" stroke="#ebebeb" stroke-width="1.4"/>
<line x1="1258.95" y1="785" x2="1258.95" y2="1123.7" stroke="#ebebeb" stroke-width="1.4"/>
<line x1="1018" y1="1107.8" x2="1262.5" y2="1107.8" stroke="#ebebeb" stroke-width="1.4"/>
<line x1="1018" y1="984" x2="1262.5" y2="984" stroke="#ebebeb" stroke-width="1.4"/>
<line x1="1018" y1="860.2" x2="1262.5" y2="860.2" stroke="#ebebeb" stroke-width="1.4"/>
<path d="M1028.15 1107.8V915.13H1030.45V1107.8Z" fill="#c7c8ca" stroke="#231f20" stroke-width="1.75"/>
<path d="M1030.45 1107.8V885.9H1032.74V1107.8Z" fill="#c7c8ca" stroke="#231f20" stroke-width="1.75"/>
<path d="M1032.74 1107.8V861.29H1035.04V1107.8Z" fill="#c7c8ca" stroke="#231f20" stroke-width="1.75"/>
<path d="M1035.04 1107.8V845.27H1037.34V1107.8Z" fill="#c7c8ca" stroke="#231f20" stroke-width="1.75"/>
<path d="M1037.34 1107.8V825.97H1039.63V1107.8Z" fill="#c7c8ca" stroke="#231f20" stroke-width="1.75"/>
<path d="M1039.63 1107.8V822.4H1041.93V1107.8Z" fill="#c7c8ca" stroke="#231f20" stroke-width="1.75"/>
<path d="M1041.93 1107.8V816.84H1044.23V1107.8Z" fill="#c7c8ca" stroke="#231f20" stroke-width="1.75"/>
<path d="M1044.23 1107.8V809.03H1046.52V1107.8Z" fill="#c7c8ca" stroke="#231f20" stroke-width="1.75"/>
<path d="M1046.52 1107.8V814.26H1048.82V1107.8Z" fill="#c7c8ca" stroke="#231f20" stroke-width="1.75"/>
<path d="M1048.82 1107.8V800.95H1051.12V1107.8Z" fill="#c7c8ca" stroke="#231f20" stroke-width="1.75"/>
<path d="M1051.12 1107.8V804.27H1053.41V1107.8Z" fill="#c7c8ca" stroke="#231f20" stroke-width="1.75"/>
<path d="M1053.41 1107.8V801.85H1055.71V1107.8Z" fill="#c7c8ca" stroke="#231f20" stroke-width="1.75"/>
<path d="M1055.71 1107.8V803.33H1058.01V1107.8Z" fill="#c7c8ca" stroke="#231f20" stroke-width="1.75"/>
<path d="M1058.01 1107.8V801.49H1060.3V1107.8Z" fill="#c7c8ca" stroke="#231f20" stroke-width="1.75"/>
<path d="M1060.3 1107.8V800.07H1062.6V1107.8Z" fill="#c7c8ca" stroke="#231f20" stroke-width="1.75"/>
<path d="M1062.6 1107.8V799.72H1064.9V1107.8Z" fill="#c7c8ca" stroke="#231f20" stroke-width="1.75"/>
<path d="M1064.9 1107.8V804.27H1067.19V1107.8Z" fill="#c7c8ca" stroke="#231f20" stroke-width="1.75"/>
<path d="M1067.19 1107.8V799.54H1069.49V1107.8Z" fill="#c7c8ca" stroke="#231f20" stroke-width="1.75"/>
<path d="M1069.49 1107.8V804.08H1071.79V1107.8Z" fill="#c7c8ca" stroke="#231f20" stroke-width="1.75"/>
<path d="M1071.79 1107.8V809.03H1074.08V1107.8Z" fill="#c7c8ca" stroke="#231f20" stroke-width="1.75"/>
<path d="M1074.08 1107.8V814.95H1076.38V1107.8Z" fill="#c7c8ca" stroke="#231f20" stroke-width="1.75"/>
<path d="M1076.38 1107.8V811.58H1078.67V1107.8Z" fill="#c7c8ca" stroke="#231f20" stroke-width="1.75"/>
<path d="M1078.67 1107.8V816.36H1080.97V1107.8Z" fill="#c7c8ca" stroke="#231f20" stroke-width="1.75"/>
<path d="M1080.97 1107.8V825.41H1083.27V1107.8Z" fill="#c7c8ca" stroke="#231f20" stroke-width="1.75"/>
<path d="M1083.27 1107.8V820.05H1085.56V1107.8Z" fill="#c7c8ca" stroke="#231f20" stroke-width="1.75"/>
<path d="M1085.56 1107.8V828H1087.86V1107.8Z" fill="#c7c8ca" stroke="#231f20" stroke-width="1.75"/>
<path d="M1087.86 1107.8V825.41H1090.16V1107.8Z" fill="#c7c8ca" stroke="#231f20" stroke-width="1.75"/>
<path d="M1090.16 1107.8V828.9H1092.45V1107.8Z" fill="#c7c8ca" stroke="#231f20" stroke-width="1.75"/>
<path d="M1092.45 1107.8V833.28H1094.75V1107.8Z" fill="#c7c8ca" stroke="#231f20" stroke-width="1.75"/>
<path d="M1094.75 1107.8V847.35H1097.05V1107.8Z" fill="#c7c8ca" stroke="#231f20" stroke-width="1.75"/>
<path d="M1097.05 1107.8V847.35H1099.34V1107.8Z" fill="#c7c8ca" stroke="#231f20" stroke-width="1.75"/>
<path d="M1099.34 1107.8V858.09H1101.64V1107.8Z" fill="#c7c8ca" stroke="#231f20" stroke-width="1.75"/>
<path d="M1101.64 1107.8V859.67H1103.94V1107.8Z" fill="#c7c8ca" stroke="#231f20" stroke-width="1.75"/>
<path d="M1103.94 1107.8V859.67H1106.23V1107.8Z" fill="#c7c8ca" stroke="#231f20" stroke-width="1.75"/>
<path d="M1106.23 1107.8V859.67H1108.53V1107.8Z" fill="#c7c8ca" stroke="#231f20" stroke-width="1.75"/>
<path d="M1108.53 1107.8V865.27H1110.83V1107.8Z" fill="#c7c8ca" stroke="#231f20" stroke-width="1.75"/>
<path d="M1110.83 1107.8V870.22H1113.12V1107.8Z" fill="#c7c8ca" stroke="#231f20" stroke-width="1.75"/>
<path d="M1113.12 1107.8V879.38H1115.42V1107.8Z" fill="#c7c8ca" stroke="#231f20" stroke-width="1.75"/>
<path d="M1115.42 1107.8V888.57H1117.72V1107.8Z" fill="#c7c8ca" stroke="#231f20" stroke-width="1.75"/>
<path d="M1117.72 1107.8V903.13H1120.01V1107.8Z" fill="#c7c8ca" stroke="#231f20" stroke-width="1.75"/>
<path d="M1120.01 1107.8V900.79H1122.31V1107.8Z" fill="#c7c8ca" stroke="#231f20" stroke-width="1.75"/>
<path d="M1122.31 1107.8V903.13H1124.6V1107.8Z" fill="#c7c8ca" stroke="#231f20" stroke-width="1.75"/>
<path d="M1124.6 1107.8V901.95H1126.9V1107.8Z" fill="#c7c8ca" stroke="#231f20" stroke-width="1.75"/>
<path d="M1126.9 1107.8V905.58H1129.2V1107.8Z" fill="#c7c8ca" stroke="#231f20" stroke-width="1.75"/>
<path d="M1129.2 1107.8V918.2H1131.49V1107.8Z" fill="#c7c8ca" stroke="#231f20" stroke-width="1.75"/>
<path d="M1131.49 1107.8V928.64H1133.79V1107.8Z" fill="#c7c8ca" stroke="#231f20" stroke-width="1.75"/>
<path d="M1133.79 1107.8V932.63H1136.09V1107.8Z" fill="#c7c8ca" stroke="#231f20" stroke-width="1.75"/>
<path d="M1136.09 1107.8V934.74H1138.38V1107.8Z" fill="#c7c8ca" stroke="#231f20" stroke-width="1.75"/>
<path d="M1138.38 1107.8V923.17H1140.68V1107.8Z" fill="#c7c8ca" stroke="#231f20" stroke-width="1.75"/>
<path d="M1140.68 1107.8V946.73H1142.98V1107.8Z" fill="#c7c8ca" stroke="#231f20" stroke-width="1.75"/>
<path d="M1142.98 1107.8V926.76H1145.27V1107.8Z" fill="#c7c8ca" stroke="#231f20" stroke-width="1.75"/>
<path d="M1145.27 1107.8V946.73H1147.57V1107.8Z" fill="#c7c8ca" stroke="#231f20" stroke-width="1.75"/>
<path d="M1147.57 1107.8V958.73H1149.87V1107.8Z" fill="#c7c8ca" stroke="#231f20" stroke-width="1.75"/>
<path d="M1149.87 1107.8V955.47H1152.16V1107.8Z" fill="#c7c8ca" stroke="#231f20" stroke-width="1.75"/>
<path d="M1152.16 1107.8V969.89H1154.46V1107.8Z" fill="#c7c8ca" stroke="#231f20" stroke-width="1.75"/>
<path d="M1154.46 1107.8V946.73H1156.76V1107.8Z" fill="#c7c8ca" stroke="#231f20" stroke-width="1.75"/>
<path d="M1156.76 1107.8V978.88H1159.05V1107.8Z" fill="#c7c8ca" stroke="#231f20" stroke-width="1.75"/>
<path d="M1159.05 1107.8V1011.46H1161.35V1107.8Z" fill="#c7c8ca" stroke="#231f20" stroke-width="1.75"/>
<path d="M1161.35 1107.8V952.4H1163.65V1107.8Z" fill="#c7c8ca" stroke="#231f20" stroke-width="1.75"/>
<path d="M1163.65 1107.8V974.2H1165.94V1107.8Z" fill="#c7c8ca" stroke="#231f20" stroke-width="1.75"/>
<path d="M1165.94 1107.8V989.66H1168.24V1107.8Z" fill="#c7c8ca" stroke="#231f20" stroke-width="1.75"/>
<path d="M1168.24 1107.8V996H1170.53V1107.8Z" fill="#c7c8ca" stroke="#231f20" stroke-width="1.75"/>
<path d="M1170.53 1107.8V1070.53H1172.83V1107.8Z" fill="#c7c8ca" stroke="#231f20" stroke-width="1.75"/>
<path d="M1172.83 1107.8V996H1175.13V1107.8Z" fill="#c7c8ca" stroke="#231f20" stroke-width="1.75"/>
<path d="M1175.13 1107.8V1033.26H1177.42V1107.8Z" fill="#c7c8ca" stroke="#231f20" stroke-width="1.75"/>
<path d="M1177.42 1107.8V1048.73H1179.72V1107.8Z" fill="#c7c8ca" stroke="#231f20" stroke-width="1.75"/>
<path d="M1179.72 1107.8V1021.27H1182.02V1107.8Z" fill="#c7c8ca" stroke="#231f20" stroke-width="1.75"/>
<path d="M1182.02 1107.8V1033.26H1184.31V1107.8Z" fill="#c7c8ca" stroke="#231f20" stroke-width="1.75"/>
<path d="M1184.31 1107.8V1048.73H1186.61V1107.8Z" fill="#c7c8ca" stroke="#231f20" stroke-width="1.75"/>
<path d="M1186.61 1107.8V1048.73H1188.91V1107.8Z" fill="#c7c8ca" stroke="#231f20" stroke-width="1.75"/>
<path d="M1188.91 1107.8V1033.26H1191.2V1107.8Z" fill="#c7c8ca" stroke="#231f20" stroke-width="1.75"/>
<path d="M1191.2 1107.8V1070.53H1193.5V1107.8Z" fill="#c7c8ca" stroke="#231f20" stroke-width="1.75"/>
<path d="M1193.5 1107.8V1048.73H1195.8V1107.8Z" fill="#c7c8ca" stroke="#231f20" stroke-width="1.75"/>
<path d="M1195.8 1107.8V1048.73H1198.09V1107.8Z" fill="#c7c8ca" stroke="#231f20" stroke-width="1.75"/>
<path d="M1198.09 1107.8V1048.73H1200.39V1107.8Z" fill="#c7c8ca" stroke="#231f20" stroke-width="1.75"/>
<path d="M1200.39 1107.8V1048.73H1202.69V1107.8Z" fill="#c7c8ca" stroke="#231f20" stroke-width="1.75"/>
<path d="M1202.69 1107.8V1033.26H1204.98V1107.8Z" fill="#c7c8ca" stroke="#231f20" stroke-width="1.75"/>
<path d="M1204.98 1107.8V1070.53H1207.28V1107.8Z" fill="#c7c8ca" stroke="#231f20" stroke-width="1.75"/>
<path d="M1207.28 1107.8V1070.53H1209.58V1107.8Z" fill="#c7c8ca" stroke="#231f20" stroke-width="1.75"/>
<path d="M1211.87 1107.8V1070.53H1214.17V1107.8Z" fill="#c7c8ca" stroke="#231f20" stroke-width="1.75"/>
<path d="M1221.06 1107.8V1107.8H1223.35V1107.8Z" fill="#c7c8ca" stroke="#231f20" stroke-width="1.75"/>
<path d="M1225.65 1107.8V1107.8H1227.95V1107.8Z" fill="#c7c8ca" stroke="#231f20" stroke-width="1.75"/>
<path d="M1227.95 1107.8V1107.8H1230.24V1107.8Z" fill="#c7c8ca" stroke="#231f20" stroke-width="1.75"/>
<path d="M1234.84 1107.8V1107.8H1237.13V1107.8Z" fill="#c7c8ca" stroke="#231f20" stroke-width="1.75"/>
<path d="M1241.73 1107.8V1107.8H1244.02V1107.8Z" fill="#c7c8ca" stroke="#231f20" stroke-width="1.75"/>
</g>
<rect x="1018" y="785" width="244.5" height="338.7" fill="none" stroke="#505050" stroke-width="1.3"/>
<line x1="1029.3" y1="1123.7" x2="1029.3" y2="1128.5" stroke="#505050" stroke-width="1.4"/>
<text x="1029.3" y="1150.3" text-anchor="middle" font-family="'TeX Gyre Heros', 'Liberation Sans', Arial, Helvetica, sans-serif" font-weight="bold" font-size="26" fill="#636468">0</text>
<line x1="1075.23" y1="1123.7" x2="1075.23" y2="1128.5" stroke="#505050" stroke-width="1.4"/>
<text x="1075.23" y="1150.3" text-anchor="middle" font-family="'TeX Gyre Heros', 'Liberation Sans', Arial, Helvetica, sans-serif" font-weight="bold" font-size="26" fill="#636468">20</text>
<line x1="1121.16" y1="1123.7" x2="1121.16" y2="1128.5" stroke="#505050" stroke-width="1.4"/>
<text x="1121.16" y="1150.3" text-anchor="middle" font-family="'TeX Gyre Heros', 'Liberation Sans', Arial, Helvetica, sans-serif" font-weight="bold" font-size="26" fill="#636468">40</text>
<line x1="1167.09" y1="1123.7" x2="1167.09" y2="1128.5" stroke="#505050" stroke-width="1.4"/>
<text x="1167.09" y="1150.3" text-anchor="middle" font-family="'TeX Gyre Heros', 'Liberation Sans', Arial, Helvetica, sans-serif" font-weight="bold" font-size="26" fill="#636468">60</text>
<line x1="1213.02" y1="1123.7" x2="1213.02" y2="1128.5" stroke="#505050" stroke-width="1.4"/>
<text x="1213.02" y="1150.3" text-anchor="middle" font-family="'TeX Gyre Heros', 'Liberation Sans', Arial, Helvetica, sans-serif" font-weight="bold" font-size="26" fill="#636468">80</text>
<line x1="1258.95" y1="1123.7" x2="1258.95" y2="1128.5" stroke="#505050" stroke-width="1.4"/>
<text x="1258.95" y="1150.3" text-anchor="middle" font-family="'TeX Gyre Heros', 'Liberation Sans', Arial, Helvetica, sans-serif" font-weight="bold" font-size="26" fill="#636468">100</text>
<line x1="1012.8" y1="1107.8" x2="1018" y2="1107.8" stroke="#505050" stroke-width="1.4"/>
<text x="1010.8" y="1116.9" text-anchor="end" font-family="'TeX Gyre Heros', 'Liberation Sans', Arial, Helvetica, sans-serif" font-size="25.5" fill="#636468">1</text>
<line x1="1012.8" y1="984" x2="1018" y2="984" stroke="#505050" stroke-width="1.4"/>
<text x="1010.8" y="993.1" text-anchor="end" font-family="'TeX Gyre Heros', 'Liberation Sans', Arial, Helvetica, sans-serif" font-size="25.5" fill="#636468">10</text>
<line x1="1012.8" y1="860.2" x2="1018" y2="860.2" stroke="#505050" stroke-width="1.4"/>
<text x="1009.8" y="872.8" text-anchor="end" font-family="'TeX Gyre Heros', 'Liberation Sans', Arial, Helvetica, sans-serif" font-size="25.5" fill="#636468">10<tspan font-size="17" dy="-12.9">2</tspan></text>
<text x="1140.25" y="775" text-anchor="middle" font-family="'TeX Gyre Heros', 'Liberation Sans', Arial, Helvetica, sans-serif" font-weight="bold" font-style="italic" font-size="25.6" fill="#231f20">Cd68</text>
<clipPath id="c11"><rect x="1317.8" y="785" width="244.2" height="338.7"/></clipPath>
<g clip-path="url(#c11)">
<line x1="1366.57" y1="785" x2="1366.57" y2="1123.7" stroke="#f4f4f4" stroke-width="0.8"/>
<line x1="1436.3" y1="785" x2="1436.3" y2="1123.7" stroke="#f4f4f4" stroke-width="0.8"/>
<line x1="1506.03" y1="785" x2="1506.03" y2="1123.7" stroke="#f4f4f4" stroke-width="0.8"/>
<line x1="1317.8" y1="1057.05" x2="1562" y2="1057.05" stroke="#f4f4f4" stroke-width="0.8"/>
<line x1="1317.8" y1="955.55" x2="1562" y2="955.55" stroke="#f4f4f4" stroke-width="0.8"/>
<line x1="1317.8" y1="854.05" x2="1562" y2="854.05" stroke="#f4f4f4" stroke-width="0.8"/>
<line x1="1331.7" y1="785" x2="1331.7" y2="1123.7" stroke="#ebebeb" stroke-width="1.4"/>
<line x1="1401.43" y1="785" x2="1401.43" y2="1123.7" stroke="#ebebeb" stroke-width="1.4"/>
<line x1="1471.16" y1="785" x2="1471.16" y2="1123.7" stroke="#ebebeb" stroke-width="1.4"/>
<line x1="1540.89" y1="785" x2="1540.89" y2="1123.7" stroke="#ebebeb" stroke-width="1.4"/>
<line x1="1317.8" y1="1107.8" x2="1562" y2="1107.8" stroke="#ebebeb" stroke-width="1.4"/>
<line x1="1317.8" y1="1006.3" x2="1562" y2="1006.3" stroke="#ebebeb" stroke-width="1.4"/>
<line x1="1317.8" y1="904.8" x2="1562" y2="904.8" stroke="#ebebeb" stroke-width="1.4"/>
<line x1="1317.8" y1="803.3" x2="1562" y2="803.3" stroke="#ebebeb" stroke-width="1.4"/>
<path d="M1328.21 1107.8V820.63H1335.19V1107.8Z" fill="#c7c8ca" stroke="#231f20" stroke-width="1.6"/>
<path d="M1335.19 1107.8V802.6H1342.16V1107.8Z" fill="#c7c8ca" stroke="#231f20" stroke-width="1.6"/>
<path d="M1342.16 1107.8V799.66H1349.13V1107.8Z" fill="#c7c8ca" stroke="#231f20" stroke-width="1.6"/>
<path d="M1349.13 1107.8V803.79H1356.11V1107.8Z" fill="#c7c8ca" stroke="#231f20" stroke-width="1.6"/>
<path d="M1356.11 1107.8V810.26H1363.08V1107.8Z" fill="#c7c8ca" stroke="#231f20" stroke-width="1.6"/>
<path d="M1363.08 1107.8V814.59H1370.05V1107.8Z" fill="#c7c8ca" stroke="#231f20" stroke-width="1.6"/>
<path d="M1370.05 1107.8V826.11H1377.02V1107.8Z" fill="#c7c8ca" stroke="#231f20" stroke-width="1.6"/>
<path d="M1377.02 1107.8V836.96H1384V1107.8Z" fill="#c7c8ca" stroke="#231f20" stroke-width="1.6"/>
<path d="M1384 1107.8V848.7H1390.97V1107.8Z" fill="#c7c8ca" stroke="#231f20" stroke-width="1.6"/>
<path d="M1390.97 1107.8V861.02H1397.94V1107.8Z" fill="#c7c8ca" stroke="#231f20" stroke-width="1.6"/>
<path d="M1397.94 1107.8V872.31H1404.92V1107.8Z" fill="#c7c8ca" stroke="#231f20" stroke-width="1.6"/>
<path d="M1404.92 1107.8V883.26H1411.89V1107.8Z" fill="#c7c8ca" stroke="#231f20" stroke-width="1.6"/>
<path d="M1411.89 1107.8V894.96H1418.86V1107.8Z" fill="#c7c8ca" stroke="#231f20" stroke-width="1.6"/>
<path d="M1418.86 1107.8V901.82H1425.84V1107.8Z" fill="#c7c8ca" stroke="#231f20" stroke-width="1.6"/>
<path d="M1425.84 1107.8V906.14H1432.81V1107.8Z" fill="#c7c8ca" stroke="#231f20" stroke-width="1.6"/>
<path d="M1432.81 1107.8V918.67H1439.78V1107.8Z" fill="#c7c8ca" stroke="#231f20" stroke-width="1.6"/>
<path d="M1439.78 1107.8V936.25H1446.75V1107.8Z" fill="#c7c8ca" stroke="#231f20" stroke-width="1.6"/>
<path d="M1446.75 1107.8V949.84H1453.73V1107.8Z" fill="#c7c8ca" stroke="#231f20" stroke-width="1.6"/>
<path d="M1453.73 1107.8V955.03H1460.7V1107.8Z" fill="#c7c8ca" stroke="#231f20" stroke-width="1.6"/>
<path d="M1460.7 1107.8V969.58H1467.67V1107.8Z" fill="#c7c8ca" stroke="#231f20" stroke-width="1.6"/>
<path d="M1467.67 1107.8V985.58H1474.65V1107.8Z" fill="#c7c8ca" stroke="#231f20" stroke-width="1.6"/>
<path d="M1474.65 1107.8V1006.3H1481.62V1107.8Z" fill="#c7c8ca" stroke="#231f20" stroke-width="1.6"/>
<path d="M1481.62 1107.8V998.26H1488.59V1107.8Z" fill="#c7c8ca" stroke="#231f20" stroke-width="1.6"/>
<path d="M1488.59 1107.8V1016.14H1495.57V1107.8Z" fill="#c7c8ca" stroke="#231f20" stroke-width="1.6"/>
<path d="M1495.57 1107.8V1010.94H1502.54V1107.8Z" fill="#c7c8ca" stroke="#231f20" stroke-width="1.6"/>
<path d="M1502.54 1107.8V1028.82H1509.51V1107.8Z" fill="#c7c8ca" stroke="#231f20" stroke-width="1.6"/>
<path d="M1509.51 1107.8V1077.25H1516.48V1107.8Z" fill="#c7c8ca" stroke="#231f20" stroke-width="1.6"/>
<path d="M1516.48 1107.8V1036.85H1523.46V1107.8Z" fill="#c7c8ca" stroke="#231f20" stroke-width="1.6"/>
<path d="M1530.43 1107.8V1077.25H1537.4V1107.8Z" fill="#c7c8ca" stroke="#231f20" stroke-width="1.6"/>
<path d="M1537.4 1107.8V1059.37H1544.38V1107.8Z" fill="#c7c8ca" stroke="#231f20" stroke-width="1.6"/>
<path d="M1544.38 1107.8V1059.37H1551.35V1107.8Z" fill="#c7c8ca" stroke="#231f20" stroke-width="1.6"/>
</g>
<rect x="1317.8" y="785" width="244.2" height="338.7" fill="none" stroke="#505050" stroke-width="1.3"/>
<line x1="1331.7" y1="1123.7" x2="1331.7" y2="1128.5" stroke="#505050" stroke-width="1.4"/>
<text x="1331.7" y="1150.3" text-anchor="middle" font-family="'TeX Gyre Heros', 'Liberation Sans', Arial, Helvetica, sans-serif" font-weight="bold" font-size="26" fill="#636468">0</text>
<line x1="1401.43" y1="1123.7" x2="1401.43" y2="1128.5" stroke="#505050" stroke-width="1.4"/>
<text x="1401.43" y="1150.3" text-anchor="middle" font-family="'TeX Gyre Heros', 'Liberation Sans', Arial, Helvetica, sans-serif" font-weight="bold" font-size="26" fill="#636468">10</text>
<line x1="1471.16" y1="1123.7" x2="1471.16" y2="1128.5" stroke="#505050" stroke-width="1.4"/>
<text x="1471.16" y="1150.3" text-anchor="middle" font-family="'TeX Gyre Heros', 'Liberation Sans', Arial, Helvetica, sans-serif" font-weight="bold" font-size="26" fill="#636468">20</text>
<line x1="1540.89" y1="1123.7" x2="1540.89" y2="1128.5" stroke="#505050" stroke-width="1.4"/>
<text x="1540.89" y="1150.3" text-anchor="middle" font-family="'TeX Gyre Heros', 'Liberation Sans', Arial, Helvetica, sans-serif" font-weight="bold" font-size="26" fill="#636468">30</text>
<line x1="1312.6" y1="1107.8" x2="1317.8" y2="1107.8" stroke="#505050" stroke-width="1.4"/>
<text x="1310.6" y="1116.9" text-anchor="end" font-family="'TeX Gyre Heros', 'Liberation Sans', Arial, Helvetica, sans-serif" font-size="25.5" fill="#636468">1</text>
<line x1="1312.6" y1="1006.3" x2="1317.8" y2="1006.3" stroke="#505050" stroke-width="1.4"/>
<text x="1310.6" y="1015.4" text-anchor="end" font-family="'TeX Gyre Heros', 'Liberation Sans', Arial, Helvetica, sans-serif" font-size="25.5" fill="#636468">10</text>
<line x1="1312.6" y1="904.8" x2="1317.8" y2="904.8" stroke="#505050" stroke-width="1.4"/>
<text x="1309.6" y="917.4" text-anchor="end" font-family="'TeX Gyre Heros', 'Liberation Sans', Arial, Helvetica, sans-serif" font-size="25.5" fill="#636468">10<tspan font-size="17" dy="-12.9">2</tspan></text>
<line x1="1312.6" y1="803.3" x2="1317.8" y2="803.3" stroke="#505050" stroke-width="1.4"/>
<text x="1309.6" y="815.9" text-anchor="end" font-family="'TeX Gyre Heros', 'Liberation Sans', Arial, Helvetica, sans-serif" font-size="25.5" fill="#636468">10<tspan font-size="17" dy="-12.9">3</tspan></text>
<text x="1439.9" y="775" text-anchor="middle" font-family="'TeX Gyre Heros', 'Liberation Sans', Arial, Helvetica, sans-serif" font-weight="bold" font-style="italic" font-size="25.6" fill="#231f20">Itgam</text>
<clipPath id="c12"><rect x="1617.4" y="785" width="244.1" height="338.7"/></clipPath>
<g clip-path="url(#c12)">
<line x1="1664.58" y1="785" x2="1664.58" y2="1123.7" stroke="#f4f4f4" stroke-width="0.8"/>
<line x1="1726.72" y1="785" x2="1726.72" y2="1123.7" stroke="#f4f4f4" stroke-width="0.8"/>
<line x1="1788.88" y1="785" x2="1788.88" y2="1123.7" stroke="#f4f4f4" stroke-width="0.8"/>
<line x1="1851.03" y1="785" x2="1851.03" y2="1123.7" stroke="#f4f4f4" stroke-width="0.8"/>
<line x1="1617.4" y1="1063.5" x2="1861.5" y2="1063.5" stroke="#f4f4f4" stroke-width="0.8"/>
<line x1="1617.4" y1="974.5" x2="1861.5" y2="974.5" stroke="#f4f4f4" stroke-width="0.8"/>
<line x1="1617.4" y1="885.5" x2="1861.5" y2="885.5" stroke="#f4f4f4" stroke-width="0.8"/>
<line x1="1617.4" y1="796.5" x2="1861.5" y2="796.5" stroke="#f4f4f4" stroke-width="0.8"/>
<line x1="1633.5" y1="785" x2="1633.5" y2="1123.7" stroke="#ebebeb" stroke-width="1.4"/>
<line x1="1695.65" y1="785" x2="1695.65" y2="1123.7" stroke="#ebebeb" stroke-width="1.4"/>
<line x1="1757.8" y1="785" x2="1757.8" y2="1123.7" stroke="#ebebeb" stroke-width="1.4"/>
<line x1="1819.95" y1="785" x2="1819.95" y2="1123.7" stroke="#ebebeb" stroke-width="1.4"/>
<line x1="1617.4" y1="1108" x2="1861.5" y2="1108" stroke="#ebebeb" stroke-width="1.4"/>
<line x1="1617.4" y1="1019" x2="1861.5" y2="1019" stroke="#ebebeb" stroke-width="1.4"/>
<line x1="1617.4" y1="930" x2="1861.5" y2="930" stroke="#ebebeb" stroke-width="1.4"/>
<line x1="1617.4" y1="841" x2="1861.5" y2="841" stroke="#ebebeb" stroke-width="1.4"/>
<path d="M1627.29 1108V799.45H1639.71V1108Z" fill="#c7c8ca" stroke="#231f20" stroke-width="1.6"/>
<path d="M1639.71 1108V815.83H1652.14V1108Z" fill="#c7c8ca" stroke="#231f20" stroke-width="1.6"/>
<path d="M1652.14 1108V831.1H1664.58V1108Z" fill="#c7c8ca" stroke="#231f20" stroke-width="1.6"/>
<path d="M1664.58 1108V852.27H1677.01V1108Z" fill="#c7c8ca" stroke="#231f20" stroke-width="1.6"/>
<path d="M1677.01 1108V869.69H1689.43V1108Z" fill="#c7c8ca" stroke="#231f20" stroke-width="1.6"/>
<path d="M1689.43 1108V889.65H1701.87V1108Z" fill="#c7c8ca" stroke="#231f20" stroke-width="1.6"/>
<path d="M1701.87 1108V903.99H1714.3V1108Z" fill="#c7c8ca" stroke="#231f20" stroke-width="1.6"/>
<path d="M1714.3 1108V931.98H1726.72V1108Z" fill="#c7c8ca" stroke="#231f20" stroke-width="1.6"/>
<path d="M1726.72 1108V946.06H1739.15V1108Z" fill="#c7c8ca" stroke="#231f20" stroke-width="1.6"/>
<path d="M1739.15 1108V971.7H1751.59V1108Z" fill="#c7c8ca" stroke="#231f20" stroke-width="1.6"/>
<path d="M1751.59 1108V998.49H1764.01V1108Z" fill="#c7c8ca" stroke="#231f20" stroke-width="1.6"/>
<path d="M1764.01 1108V1019H1776.44V1108Z" fill="#c7c8ca" stroke="#231f20" stroke-width="1.6"/>
<path d="M1776.44 1108V1027.62H1788.88V1108Z" fill="#c7c8ca" stroke="#231f20" stroke-width="1.6"/>
<path d="M1788.88 1108V1045.79H1801.31V1108Z" fill="#c7c8ca" stroke="#231f20" stroke-width="1.6"/>
<path d="M1801.31 1108V1081.21H1813.73V1108Z" fill="#c7c8ca" stroke="#231f20" stroke-width="1.6"/>
<path d="M1813.73 1108V1065.54H1826.16V1108Z" fill="#c7c8ca" stroke="#231f20" stroke-width="1.6"/>
<path d="M1826.16 1108V1081.21H1838.6V1108Z" fill="#c7c8ca" stroke="#231f20" stroke-width="1.6"/>
<path d="M1838.6 1108V1108H1851.03V1108Z" fill="#c7c8ca" stroke="#231f20" stroke-width="1.6"/>
</g>
<rect x="1617.4" y="785" width="244.1" height="338.7" fill="none" stroke="#505050" stroke-width="1.3"/>
<line x1="1633.5" y1="1123.7" x2="1633.5" y2="1128.5" stroke="#505050" stroke-width="1.4"/>
<text x="1633.5" y="1150.3" text-anchor="middle" font-family="'TeX Gyre Heros', 'Liberation Sans', Arial, Helvetica, sans-serif" font-weight="bold" font-size="26" fill="#636468">0</text>
<line x1="1695.65" y1="1123.7" x2="1695.65" y2="1128.5" stroke="#505050" stroke-width="1.4"/>
<text x="1695.65" y="1150.3" text-anchor="middle" font-family="'TeX Gyre Heros', 'Liberation Sans', Arial, Helvetica, sans-serif" font-weight="bold" font-size="26" fill="#636468">5</text>
<line x1="1757.8" y1="1123.7" x2="1757.8" y2="1128.5" stroke="#505050" stroke-width="1.4"/>
<text x="1757.8" y="1150.3" text-anchor="middle" font-family="'TeX Gyre Heros', 'Liberation Sans', Arial, Helvetica, sans-serif" font-weight="bold" font-size="26" fill="#636468">10</text>
<line x1="1819.95" y1="1123.7" x2="1819.95" y2="1128.5" stroke="#505050" stroke-width="1.4"/>
<text x="1819.95" y="1150.3" text-anchor="middle" font-family="'TeX Gyre Heros', 'Liberation Sans', Arial, Helvetica, sans-serif" font-weight="bold" font-size="26" fill="#636468">15</text>
<line x1="1612.2" y1="1108" x2="1617.4" y2="1108" stroke="#505050" stroke-width="1.4"/>
<text x="1610.2" y="1117.1" text-anchor="end" font-family="'TeX Gyre Heros', 'Liberation Sans', Arial, Helvetica, sans-serif" font-size="25.5" fill="#636468">1</text>
<line x1="1612.2" y1="1019" x2="1617.4" y2="1019" stroke="#505050" stroke-width="1.4"/>
<text x="1610.2" y="1028.1" text-anchor="end" font-family="'TeX Gyre Heros', 'Liberation Sans', Arial, Helvetica, sans-serif" font-size="25.5" fill="#636468">10</text>
<line x1="1612.2" y1="930" x2="1617.4" y2="930" stroke="#505050" stroke-width="1.4"/>
<text x="1609.2" y="942.6" text-anchor="end" font-family="'TeX Gyre Heros', 'Liberation Sans', Arial, Helvetica, sans-serif" font-size="25.5" fill="#636468">10<tspan font-size="17" dy="-12.9">2</tspan></text>
<line x1="1612.2" y1="841" x2="1617.4" y2="841" stroke="#505050" stroke-width="1.4"/>
<text x="1609.2" y="853.6" text-anchor="end" font-family="'TeX Gyre Heros', 'Liberation Sans', Arial, Helvetica, sans-serif" font-size="25.5" fill="#636468">10<tspan font-size="17" dy="-12.9">3</tspan></text>
<text x="1739.45" y="775" text-anchor="middle" font-family="'TeX Gyre Heros', 'Liberation Sans', Arial, Helvetica, sans-serif" font-weight="bold" font-style="italic" font-size="25.6" fill="#231f20">Cd86</text>
<clipPath id="c13"><rect x="117.3" y="1487.4" width="246.2" height="338.4"/></clipPath>
<g clip-path="url(#c13)">
<line x1="163.37" y1="1487.4" x2="163.37" y2="1825.8" stroke="#f4f4f4" stroke-width="0.8"/>
<line x1="231.51" y1="1487.4" x2="231.51" y2="1825.8" stroke="#f4f4f4" stroke-width="0.8"/>
<line x1="299.65" y1="1487.4" x2="299.65" y2="1825.8" stroke="#f4f4f4" stroke-width="0.8"/>
<line x1="117.3" y1="1760.2" x2="363.5" y2="1760.2" stroke="#f4f4f4" stroke-width="0.8"/>
<line x1="117.3" y1="1660.2" x2="363.5" y2="1660.2" stroke="#f4f4f4" stroke-width="0.8"/>
<line x1="117.3" y1="1560.2" x2="363.5" y2="1560.2" stroke="#f4f4f4" stroke-width="0.8"/>
<line x1="129.3" y1="1487.4" x2="129.3" y2="1825.8" stroke="#ebebeb" stroke-width="1.4"/>
<line x1="197.44" y1="1487.4" x2="197.44" y2="1825.8" stroke="#ebebeb" stroke-width="1.4"/>
<line x1="265.58" y1="1487.4" x2="265.58" y2="1825.8" stroke="#ebebeb" stroke-width="1.4"/>
<line x1="333.72" y1="1487.4" x2="333.72" y2="1825.8" stroke="#ebebeb" stroke-width="1.4"/>
<line x1="117.3" y1="1810.2" x2="363.5" y2="1810.2" stroke="#ebebeb" stroke-width="1.4"/>
<line x1="117.3" y1="1710.2" x2="363.5" y2="1710.2" stroke="#ebebeb" stroke-width="1.4"/>
<line x1="117.3" y1="1610.2" x2="363.5" y2="1610.2" stroke="#ebebeb" stroke-width="1.4"/>
<line x1="117.3" y1="1510.2" x2="363.5" y2="1510.2" stroke="#ebebeb" stroke-width="1.4"/>
<path d="M127.77 1810.2V1502.03H130.83V1810.2Z" fill="#c7c8ca" stroke="#231f20" stroke-width="1.5"/>
<path d="M131.17 1810.2V1507.3H134.24V1810.2Z" fill="#c7c8ca" stroke="#231f20" stroke-width="1.5"/>
<path d="M134.58 1810.2V1516.9H137.65V1810.2Z" fill="#c7c8ca" stroke="#231f20" stroke-width="1.5"/>
<path d="M137.99 1810.2V1526.5H141.05V1810.2Z" fill="#c7c8ca" stroke="#231f20" stroke-width="1.5"/>
<path d="M141.39 1810.2V1543.36H144.46V1810.2Z" fill="#c7c8ca" stroke="#231f20" stroke-width="1.5"/>
<path d="M144.8 1810.2V1563.37H147.87V1810.2Z" fill="#c7c8ca" stroke="#231f20" stroke-width="1.5"/>
<path d="M148.21 1810.2V1578.19H151.28V1810.2Z" fill="#c7c8ca" stroke="#231f20" stroke-width="1.5"/>
<path d="M151.62 1810.2V1588.19H154.68V1810.2Z" fill="#c7c8ca" stroke="#231f20" stroke-width="1.5"/>
<path d="M155.02 1810.2V1602.28H158.09V1810.2Z" fill="#c7c8ca" stroke="#231f20" stroke-width="1.5"/>
<path d="M158.43 1810.2V1616.25H161.5V1810.2Z" fill="#c7c8ca" stroke="#231f20" stroke-width="1.5"/>
<path d="M161.84 1810.2V1619.35H164.9V1810.2Z" fill="#c7c8ca" stroke="#231f20" stroke-width="1.5"/>
<path d="M165.24 1810.2V1643.92H168.31V1810.2Z" fill="#c7c8ca" stroke="#231f20" stroke-width="1.5"/>
<path d="M168.65 1810.2V1643.92H171.72V1810.2Z" fill="#c7c8ca" stroke="#231f20" stroke-width="1.5"/>
<path d="M172.06 1810.2V1658.35H175.12V1810.2Z" fill="#c7c8ca" stroke="#231f20" stroke-width="1.5"/>
<path d="M175.46 1810.2V1687.16H178.53V1810.2Z" fill="#c7c8ca" stroke="#231f20" stroke-width="1.5"/>
<path d="M178.87 1810.2V1689.79H181.94V1810.2Z" fill="#c7c8ca" stroke="#231f20" stroke-width="1.5"/>
<path d="M182.28 1810.2V1710.2H185.35V1810.2Z" fill="#c7c8ca" stroke="#231f20" stroke-width="1.5"/>
<path d="M185.69 1810.2V1702.28H188.75V1810.2Z" fill="#c7c8ca" stroke="#231f20" stroke-width="1.5"/>
<path d="M189.09 1810.2V1702.28H192.16V1810.2Z" fill="#c7c8ca" stroke="#231f20" stroke-width="1.5"/>
<path d="M192.5 1810.2V1732.38H195.57V1810.2Z" fill="#c7c8ca" stroke="#231f20" stroke-width="1.5"/>
<path d="M195.91 1810.2V1714.78H198.97V1810.2Z" fill="#c7c8ca" stroke="#231f20" stroke-width="1.5"/>
<path d="M199.31 1810.2V1714.78H202.38V1810.2Z" fill="#c7c8ca" stroke="#231f20" stroke-width="1.5"/>
<path d="M202.72 1810.2V1740.3H205.79V1810.2Z" fill="#c7c8ca" stroke="#231f20" stroke-width="1.5"/>
<path d="M206.13 1810.2V1740.3H209.19V1810.2Z" fill="#c7c8ca" stroke="#231f20" stroke-width="1.5"/>
<path d="M209.53 1810.2V1762.49H212.6V1810.2Z" fill="#c7c8ca" stroke="#231f20" stroke-width="1.5"/>
<path d="M216.35 1810.2V1749.99H219.42V1810.2Z" fill="#c7c8ca" stroke="#231f20" stroke-width="1.5"/>
<path d="M219.76 1810.2V1780.1H222.82V1810.2Z" fill="#c7c8ca" stroke="#231f20" stroke-width="1.5"/>
<path d="M223.16 1810.2V1780.1H226.23V1810.2Z" fill="#c7c8ca" stroke="#231f20" stroke-width="1.5"/>
<path d="M233.38 1810.2V1780.1H236.45V1810.2Z" fill="#c7c8ca" stroke="#231f20" stroke-width="1.5"/>
<path d="M236.79 1810.2V1780.1H239.86V1810.2Z" fill="#c7c8ca" stroke="#231f20" stroke-width="1.5"/>
<path d="M243.6 1810.2V1780.1H246.67V1810.2Z" fill="#c7c8ca" stroke="#231f20" stroke-width="1.5"/>
<path d="M349.22 1810.2V1810.2H352.29V1810.2Z" fill="#c7c8ca" stroke="#231f20" stroke-width="1.5"/>
</g>
<rect x="117.3" y="1487.4" width="246.2" height="338.4" fill="none" stroke="#505050" stroke-width="1.3"/>
<line x1="129.3" y1="1825.8" x2="129.3" y2="1830.6" stroke="#505050" stroke-width="1.4"/>
<text x="129.3" y="1852.4" text-anchor="middle" font-family="'TeX Gyre Heros', 'Liberation Sans', Arial, Helvetica, sans-serif" font-weight="bold" font-size="26" fill="#636468">0</text>
<line x1="197.44" y1="1825.8" x2="197.44" y2="1830.6" stroke="#505050" stroke-width="1.4"/>
<text x="197.44" y="1852.4" text-anchor="middle" font-family="'TeX Gyre Heros', 'Liberation Sans', Arial, Helvetica, sans-serif" font-weight="bold" font-size="26" fill="#636468">20</text>
<line x1="265.58" y1="1825.8" x2="265.58" y2="1830.6" stroke="#505050" stroke-width="1.4"/>
<text x="265.58" y="1852.4" text-anchor="middle" font-family="'TeX Gyre Heros', 'Liberation Sans', Arial, Helvetica, sans-serif" font-weight="bold" font-size="26" fill="#636468">40</text>
<line x1="333.72" y1="1825.8" x2="333.72" y2="1830.6" stroke="#505050" stroke-width="1.4"/>
<text x="333.72" y="1852.4" text-anchor="middle" font-family="'TeX Gyre Heros', 'Liberation Sans', Arial, Helvetica, sans-serif" font-weight="bold" font-size="26" fill="#636468">60</text>
<line x1="112.1" y1="1810.2" x2="117.3" y2="1810.2" stroke="#505050" stroke-width="1.4"/>
<text x="110.1" y="1819.3" text-anchor="end" font-family="'TeX Gyre Heros', 'Liberation Sans', Arial, Helvetica, sans-serif" font-size="25.5" fill="#636468">1</text>
<line x1="112.1" y1="1710.2" x2="117.3" y2="1710.2" stroke="#505050" stroke-width="1.4"/>
<text x="110.1" y="1719.3" text-anchor="end" font-family="'TeX Gyre Heros', 'Liberation Sans', Arial, Helvetica, sans-serif" font-size="25.5" fill="#636468">10</text>
<line x1="112.1" y1="1610.2" x2="117.3" y2="1610.2" stroke="#505050" stroke-width="1.4"/>
<text x="109.1" y="1622.8" text-anchor="end" font-family="'TeX Gyre Heros', 'Liberation Sans', Arial, Helvetica, sans-serif" font-size="25.5" fill="#636468">10<tspan font-size="17" dy="-12.9">2</tspan></text>
<line x1="112.1" y1="1510.2" x2="117.3" y2="1510.2" stroke="#505050" stroke-width="1.4"/>
<text x="109.1" y="1522.8" text-anchor="end" font-family="'TeX Gyre Heros', 'Liberation Sans', Arial, Helvetica, sans-serif" font-size="25.5" fill="#636468">10<tspan font-size="17" dy="-12.9">3</tspan></text>
<text x="240.4" y="1477.4" text-anchor="middle" font-family="'TeX Gyre Heros', 'Liberation Sans', Arial, Helvetica, sans-serif" font-weight="bold" font-style="italic" font-size="25.6" fill="#231f20">Fcmr</text>
<clipPath id="c14"><rect x="418.75" y="1487.4" width="245.65" height="338.4"/></clipPath>
<g clip-path="url(#c14)">
<line x1="484.8" y1="1487.4" x2="484.8" y2="1825.8" stroke="#f4f4f4" stroke-width="0.8"/>
<line x1="579" y1="1487.4" x2="579" y2="1825.8" stroke="#f4f4f4" stroke-width="0.8"/>
<line x1="418.75" y1="1762.6" x2="664.4" y2="1762.6" stroke="#f4f4f4" stroke-width="0.8"/>
<line x1="418.75" y1="1667.4" x2="664.4" y2="1667.4" stroke="#f4f4f4" stroke-width="0.8"/>
<line x1="418.75" y1="1572.2" x2="664.4" y2="1572.2" stroke="#f4f4f4" stroke-width="0.8"/>
<line x1="437.7" y1="1487.4" x2="437.7" y2="1825.8" stroke="#ebebeb" stroke-width="1.4"/>
<line x1="531.9" y1="1487.4" x2="531.9" y2="1825.8" stroke="#ebebeb" stroke-width="1.4"/>
<line x1="626.1" y1="1487.4" x2="626.1" y2="1825.8" stroke="#ebebeb" stroke-width="1.4"/>
<line x1="418.75" y1="1810.2" x2="664.4" y2="1810.2" stroke="#ebebeb" stroke-width="1.4"/>
<line x1="418.75" y1="1715" x2="664.4" y2="1715" stroke="#ebebeb" stroke-width="1.4"/>
<line x1="418.75" y1="1619.8" x2="664.4" y2="1619.8" stroke="#ebebeb" stroke-width="1.4"/>
<line x1="418.75" y1="1524.6" x2="664.4" y2="1524.6" stroke="#ebebeb" stroke-width="1.4"/>
<path d="M429.22 1810.2V1507.29H446.18V1810.2Z" fill="#c7c8ca" stroke="#231f20" stroke-width="1.6"/>
<path d="M448.06 1810.2V1502.01H465.02V1810.2Z" fill="#c7c8ca" stroke="#231f20" stroke-width="1.6"/>
<path d="M466.9 1810.2V1519.33H483.86V1810.2Z" fill="#c7c8ca" stroke="#231f20" stroke-width="1.6"/>
<path d="M485.74 1810.2V1547.7H502.7V1810.2Z" fill="#c7c8ca" stroke="#231f20" stroke-width="1.6"/>
<path d="M504.58 1810.2V1581.92H521.54V1810.2Z" fill="#c7c8ca" stroke="#231f20" stroke-width="1.6"/>
<path d="M523.42 1810.2V1612.96H540.38V1810.2Z" fill="#c7c8ca" stroke="#231f20" stroke-width="1.6"/>
<path d="M542.26 1810.2V1654.69H559.22V1810.2Z" fill="#c7c8ca" stroke="#231f20" stroke-width="1.6"/>
<path d="M561.1 1810.2V1682.4H578.06V1810.2Z" fill="#c7c8ca" stroke="#231f20" stroke-width="1.6"/>
<path d="M579.94 1810.2V1719.36H596.9V1810.2Z" fill="#c7c8ca" stroke="#231f20" stroke-width="1.6"/>
<path d="M598.78 1810.2V1752.88H615.74V1810.2Z" fill="#c7c8ca" stroke="#231f20" stroke-width="1.6"/>
<path d="M617.62 1810.2V1781.54H634.58V1810.2Z" fill="#c7c8ca" stroke="#231f20" stroke-width="1.6"/>
<path d="M636.46 1810.2V1781.54H653.42V1810.2Z" fill="#c7c8ca" stroke="#231f20" stroke-width="1.6"/>
</g>
<rect x="418.75" y="1487.4" width="245.65" height="338.4" fill="none" stroke="#505050" stroke-width="1.3"/>
<line x1="437.7" y1="1825.8" x2="437.7" y2="1830.6" stroke="#505050" stroke-width="1.4"/>
<text x="437.7" y="1852.4" text-anchor="middle" font-family="'TeX Gyre Heros', 'Liberation Sans', Arial, Helvetica, sans-serif" font-weight="bold" font-size="26" fill="#636468">0</text>
<line x1="531.9" y1="1825.8" x2="531.9" y2="1830.6" stroke="#505050" stroke-width="1.4"/>
<text x="531.9" y="1852.4" text-anchor="middle" font-family="'TeX Gyre Heros', 'Liberation Sans', Arial, Helvetica, sans-serif" font-weight="bold" font-size="26" fill="#636468">5</text>
<line x1="626.1" y1="1825.8" x2="626.1" y2="1830.6" stroke="#505050" stroke-width="1.4"/>
<text x="626.1" y="1852.4" text-anchor="middle" font-family="'TeX Gyre Heros', 'Liberation Sans', Arial, Helvetica, sans-serif" font-weight="bold" font-size="26" fill="#636468">10</text>
<line x1="413.55" y1="1810.2" x2="418.75" y2="1810.2" stroke="#505050" stroke-width="1.4"/>
<text x="411.55" y="1819.3" text-anchor="end" font-family="'TeX Gyre Heros', 'Liberation Sans', Arial, Helvetica, sans-serif" font-size="25.5" fill="#636468">1</text>
<line x1="413.55" y1="1715" x2="418.75" y2="1715" stroke="#505050" stroke-width="1.4"/>
<text x="411.55" y="1724.1" text-anchor="end" font-family="'TeX Gyre Heros', 'Liberation Sans', Arial, Helvetica, sans-serif" font-size="25.5" fill="#636468">10</text>
<line x1="413.55" y1="1619.8" x2="418.75" y2="1619.8" stroke="#505050" stroke-width="1.4"/>
<text x="410.55" y="1632.4" text-anchor="end" font-family="'TeX Gyre Heros', 'Liberation Sans', Arial, Helvetica, sans-serif" font-size="25.5" fill="#636468">10<tspan font-size="17" dy="-12.9">2</tspan></text>
<line x1="413.55" y1="1524.6" x2="418.75" y2="1524.6" stroke="#505050" stroke-width="1.4"/>
<text x="410.55" y="1537.2" text-anchor="end" font-family="'TeX Gyre Heros', 'Liberation Sans', Arial, Helvetica, sans-serif" font-size="25.5" fill="#636468">10<tspan font-size="17" dy="-12.9">3</tspan></text>
<text x="541.58" y="1477.4" text-anchor="middle" font-family="'TeX Gyre Heros', 'Liberation Sans', Arial, Helvetica, sans-serif" font-weight="bold" font-style="italic" font-size="25.6" fill="#231f20">Gapdh</text>
<clipPath id="c15"><rect x="710.1" y="1487.4" width="245.9" height="338.4"/></clipPath>
<g clip-path="url(#c15)">
<line x1="754.23" y1="1487.4" x2="754.23" y2="1825.8" stroke="#f4f4f4" stroke-width="0.8"/>
<line x1="820.89" y1="1487.4" x2="820.89" y2="1825.8" stroke="#f4f4f4" stroke-width="0.8"/>
<line x1="887.55" y1="1487.4" x2="887.55" y2="1825.8" stroke="#f4f4f4" stroke-width="0.8"/>
<line x1="954.21" y1="1487.4" x2="954.21" y2="1825.8" stroke="#f4f4f4" stroke-width="0.8"/>
<line x1="710.1" y1="1770.59" x2="956" y2="1770.59" stroke="#f4f4f4" stroke-width="0.8"/>
<line x1="710.1" y1="1687.59" x2="956" y2="1687.59" stroke="#f4f4f4" stroke-width="0.8"/>
<line x1="710.1" y1="1604.59" x2="956" y2="1604.59" stroke="#f4f4f4" stroke-width="0.8"/>
<line x1="710.1" y1="1525.34" x2="956" y2="1525.34" stroke="#f4f4f4" stroke-width="0.8"/>
<line x1="720.9" y1="1487.4" x2="720.9" y2="1825.8" stroke="#ebebeb" stroke-width="1.4"/>
<line x1="787.56" y1="1487.4" x2="787.56" y2="1825.8" stroke="#ebebeb" stroke-width="1.4"/>
<line x1="854.22" y1="1487.4" x2="854.22" y2="1825.8" stroke="#ebebeb" stroke-width="1.4"/>
<line x1="920.88" y1="1487.4" x2="920.88" y2="1825.8" stroke="#ebebeb" stroke-width="1.4"/>
<line x1="710.1" y1="1810.2" x2="956" y2="1810.2" stroke="#ebebeb" stroke-width="1.4"/>
<line x1="710.1" y1="1731" x2="956" y2="1731" stroke="#ebebeb" stroke-width="1.4"/>
<line x1="710.1" y1="1644.2" x2="956" y2="1644.2" stroke="#ebebeb" stroke-width="1.4"/>
<line x1="710.1" y1="1565" x2="956" y2="1565" stroke="#ebebeb" stroke-width="1.4"/>
<path d="M720.73 1810.2V1760.23H721.07V1810.2ZM728.07 1810.2V1760.23H728.4V1810.2ZM729.73 1810.2V1810.2H730.07V1810.2H730.4V1810.2H730.73V1710.26H731.07V1681.03H731.4V1710.26H731.73V1694.17H732.07V1710.26H732.4V1731H732.73V1669.91H733.07V1694.17H733.4V1731H733.73V1810.2H734.07V1694.17H734.4V1731H734.73V1681.03H735.07V1681.03H735.4V1644.2H735.73V1694.17H736.07V1681.03H736.4V1625.29H736.73V1660.29H737.07V1669.91H737.4V1625.29H737.73V1660.29H738.06V1637.33H738.4V1637.33H738.73V1644.2H739.06V1660.29H739.4V1625.29H739.73V1619.94H740.06V1669.91H740.4V1660.29H740.73V1619.94H741.06V1681.03H741.4V1610.32H741.73V1614.97H742.06V1651.8H742.4V1625.29H742.73V1619.94H743.06V1631.06H743.4V1660.29H743.73V1567.44H744.06V1601.82H744.4V1584.15H744.73V1710.26H745.06V1601.82H745.4V1590.71H745.73V1597.93H746.06V1614.97H746.4V1594.23H746.73V1584.15H747.06V1605.95H747.4V1558.13H747.73V1575.31H748.06V1551.85H748.4V1558.13H748.73V1558.13H749.06V1525.34H749.4V1549.88H749.73V1547.96H750.06V1544.26H750.4V1531.11H750.73V1522.62H751.06V1535.77H751.4V1540.74H751.73V1534.18H752.06V1544.26H752.4V1518.72H752.73V1525.34H753.06V1511.51H753.4V1528.17H753.73V1523.97H754.06V1520H754.4V1515.03H754.73V1518.72H755.06V1504.95H755.4V1523.97H755.73V1520H756.06V1534.18H756.4V1539.04H756.73V1511.51H757.06V1529.63H757.4V1521.3H757.73V1516.24H758.06V1520H758.4V1502.89H758.73V1509.26H759.06V1526.74H759.4V1521.3H759.73V1515.03H760.06V1506H760.4V1525.34H760.73V1529.63H761.06V1510.37H761.4V1518.72H761.73V1516.24H762.06V1525.34H762.4V1529.63H762.73V1509.26H763.06V1516.24H763.4V1504.95H763.73V1522.62H764.06V1535.77H764.4V1518.72H764.73V1517.47H765.06V1516.24H765.4V1525.34H765.73V1523.97H766.06V1539.04H766.4V1535.77H766.73V1520H767.06V1551.85H767.4V1526.74H767.73V1535.77H768.06V1537.39H768.4V1544.26H768.73V1528.17H769.06V1522.62H769.4V1549.88H769.73V1539.04H770.06V1525.34H770.4V1544.26H770.73V1544.26H771.06V1565H771.39V1562.63H771.73V1537.39H772.06V1539.04H772.39V1549.88H772.73V1569.97H773.06V1555.97H773.39V1535.77H773.73V1572.59H774.06V1546.08H774.39V1569.97H774.73V1565H775.06V1544.26H775.39V1565H775.73V1567.44H776.06V1562.63H776.39V1575.31H776.73V1560.35H777.06V1590.71H777.39V1578.14H777.73V1578.14H778.06V1581.08H778.39V1594.23H778.73V1587.36H779.06V1637.33H779.39V1587.36H779.73V1644.2H780.06V1594.23H780.39V1610.32H780.73V1590.71H781.06V1597.93H781.39V1614.97H781.73V1594.23H782.06V1660.29H782.39V1601.82H782.73V1619.94H783.06V1590.71H783.39V1594.23H783.73V1605.95H784.06V1605.95H784.39V1619.94H784.73V1614.97H785.06V1637.33H785.39V1644.2H785.73V1614.97H786.06V1660.29H786.39V1660.29H786.73V1637.33H787.06V1619.94H787.39V1644.2H787.73V1651.8H788.06V1660.29H788.39V1644.2H788.73V1651.8H789.06V1651.8H789.39V1694.17H789.73V1651.8H790.06V1669.91H790.39V1660.29H790.73V1631.06H791.06V1637.33H791.39V1625.29H791.73V1681.03H792.06V1760.23H792.39V1681.03H792.73V1644.2H793.06V1631.06H793.39V1660.29H793.73V1660.29H794.06V1681.03H794.39V1694.17H794.73V1669.91H795.06V1651.8H795.39V1710.26H795.73V1651.8H796.06V1669.91H796.39V1694.17H796.73V1637.33H797.06V1710.26H797.39V1731H797.73V1681.03H798.06V1681.03H798.39V1681.03H798.73V1681.03H799.06V1694.17H799.39V1810.2ZM799.73 1810.2V1710.26H800.06V1731H800.39V1681.03H800.73V1669.91H801.06V1760.23H801.39V1760.23H801.73V1694.17H802.06V1760.23H802.39V1760.23H802.73V1810.2H803.06V1731H803.39V1694.17H803.73V1760.23H804.06V1810.2H804.39V1810.2H804.72V1810.2ZM805.06 1810.2V1731H805.39V1710.26H805.72V1710.26H806.06V1694.17H806.39V1694.17H806.72V1810.2H807.06V1810.2H807.39V1710.26H807.72V1810.2H808.06V1810.2H808.39V1810.2ZM809.06 1810.2V1760.23H809.39V1810.2H809.72V1760.23H810.06V1760.23H810.39V1810.2ZM810.72 1810.2V1810.2H811.06V1760.23H811.39V1810.2H811.72V1731H812.06V1760.23H812.39V1669.91H812.72V1731H813.06V1731H813.39V1710.26H813.72V1760.23H814.06V1731H814.39V1810.2H814.72V1760.23H815.06V1810.2H815.39V1810.2ZM815.72 1810.2V1810.2H816.06V1710.26H816.39V1810.2ZM818.06 1810.2V1760.23H818.39V1810.2ZM818.72 1810.2V1760.23H819.06V1760.23H819.39V1760.23H819.72V1810.2ZM820.39 1810.2V1760.23H820.72V1731H821.06V1810.2ZM821.39 1810.2V1810.2H821.72V1710.26H822.06V1760.23H822.39V1731H822.72V1810.2H823.06V1810.2ZM823.72 1810.2V1731H824.06V1810.2H824.39V1810.2ZM824.72 1810.2V1731H825.06V1710.26H825.39V1810.2ZM825.72 1810.2V1694.17H826.06V1810.2H826.39V1731H826.72V1760.23H827.06V1731H827.39V1710.26H827.72V1810.2H828.06V1694.17H828.39V1810.2H828.72V1760.23H829.06V1810.2ZM829.39 1810.2V1760.23H829.72V1731H830.06V1760.23H830.39V1731H830.72V1810.2ZM832.39 1810.2V1760.23H832.72V1810.2ZM834.06 1810.2V1810.2H834.39V1810.2H834.72V1810.2H835.06V1760.23H835.39V1810.2ZM836.72 1810.2V1810.2H837.06V1810.2H837.39V1760.23H837.72V1810.2ZM844.72 1810.2V1760.23H845.05V1810.2ZM868.72 1810.2V1760.23H869.05V1810.2Z" fill="#231f20" stroke="#231f20" stroke-width="1.7" stroke-linejoin="miter"/>
<path d="M720.88 1810.2H722.92ZM723.22 1810.2H725.25ZM725.55 1810.2H727.58ZM728.22 1810.2H730.25ZM816.21 1810.2H818.57ZM832.21 1810.2H834.24ZM834.87 1810.2H836.91ZM840.54 1810.2H842.57ZM842.2 1810.2H844.24ZM842.87 1810.2H845.24ZM845.2 1810.2H847.24ZM846.2 1810.2H848.24ZM848.2 1810.2H850.24ZM849.54 1810.2H852.24ZM851.2 1810.2H853.24ZM851.87 1810.2H853.9ZM853.54 1810.2H855.57ZM855.54 1810.2H857.57ZM859.2 1810.2H861.24ZM861.2 1810.2H863.24ZM863.2 1810.2H865.57ZM864.54 1810.2H866.57ZM871.53 1810.2H873.57ZM874.87 1810.2H876.9ZM875.53 1810.2H877.57ZM877.53 1810.2H879.57ZM880.53 1810.2H882.57ZM885.53 1810.2H887.57ZM887.2 1810.2H889.57ZM889.2 1810.2H891.23ZM894.53 1810.2H896.57ZM943.19 1810.2H945.23Z" fill="none" stroke="#231f20" stroke-width="1.3"/>
</g>
<rect x="710.1" y="1487.4" width="245.9" height="338.4" fill="none" stroke="#505050" stroke-width="1.3"/>
<line x1="720.9" y1="1825.8" x2="720.9" y2="1830.6" stroke="#505050" stroke-width="1.4"/>
<text x="720.9" y="1852.4" text-anchor="middle" font-family="'TeX Gyre Heros', 'Liberation Sans', Arial, Helvetica, sans-serif" font-weight="bold" font-size="26" fill="#636468">0</text>
<line x1="787.56" y1="1825.8" x2="787.56" y2="1830.6" stroke="#505050" stroke-width="1.4"/>
<text x="787.56" y="1852.4" text-anchor="middle" font-family="'TeX Gyre Heros', 'Liberation Sans', Arial, Helvetica, sans-serif" font-weight="bold" font-size="26" fill="#636468">200</text>
<line x1="854.22" y1="1825.8" x2="854.22" y2="1830.6" stroke="#505050" stroke-width="1.4"/>
<text x="854.22" y="1852.4" text-anchor="middle" font-family="'TeX Gyre Heros', 'Liberation Sans', Arial, Helvetica, sans-serif" font-weight="bold" font-size="26" fill="#636468">400</text>
<line x1="920.88" y1="1825.8" x2="920.88" y2="1830.6" stroke="#505050" stroke-width="1.4"/>
<text x="920.88" y="1852.4" text-anchor="middle" font-family="'TeX Gyre Heros', 'Liberation Sans', Arial, Helvetica, sans-serif" font-weight="bold" font-size="26" fill="#636468">600</text>
<line x1="704.9" y1="1810.2" x2="710.1" y2="1810.2" stroke="#505050" stroke-width="1.4"/>
<text x="702.9" y="1819.3" text-anchor="end" font-family="'TeX Gyre Heros', 'Liberation Sans', Arial, Helvetica, sans-serif" font-size="25.5" fill="#636468">1</text>
<line x1="704.9" y1="1731" x2="710.1" y2="1731" stroke="#505050" stroke-width="1.4"/>
<text x="702.9" y="1740.1" text-anchor="end" font-family="'TeX Gyre Heros', 'Liberation Sans', Arial, Helvetica, sans-serif" font-size="25.5" fill="#636468">3</text>
<line x1="704.9" y1="1644.2" x2="710.1" y2="1644.2" stroke="#505050" stroke-width="1.4"/>
<text x="702.9" y="1653.3" text-anchor="end" font-family="'TeX Gyre Heros', 'Liberation Sans', Arial, Helvetica, sans-serif" font-size="25.5" fill="#636468">10</text>
<line x1="704.9" y1="1565" x2="710.1" y2="1565" stroke="#505050" stroke-width="1.4"/>
<text x="702.9" y="1574.1" text-anchor="end" font-family="'TeX Gyre Heros', 'Liberation Sans', Arial, Helvetica, sans-serif" font-size="25.5" fill="#636468">30</text>
<text x="833.05" y="1477.4" text-anchor="middle" font-family="'TeX Gyre Heros', 'Liberation Sans', Arial, Helvetica, sans-serif" font-weight="bold" font-style="italic" font-size="25.6" fill="#231f20">Cd74</text>
<clipPath id="c16"><rect x="1011.5" y="1487.4" width="245.7" height="338.4"/></clipPath>
<g clip-path="url(#c16)">
<line x1="1063.15" y1="1487.4" x2="1063.15" y2="1825.8" stroke="#f4f4f4" stroke-width="0.8"/>
<line x1="1119.65" y1="1487.4" x2="1119.65" y2="1825.8" stroke="#f4f4f4" stroke-width="0.8"/>
<line x1="1176.15" y1="1487.4" x2="1176.15" y2="1825.8" stroke="#f4f4f4" stroke-width="0.8"/>
<line x1="1232.65" y1="1487.4" x2="1232.65" y2="1825.8" stroke="#f4f4f4" stroke-width="0.8"/>
<line x1="1011.5" y1="1768.85" x2="1257.2" y2="1768.85" stroke="#f4f4f4" stroke-width="0.8"/>
<line x1="1011.5" y1="1686.15" x2="1257.2" y2="1686.15" stroke="#f4f4f4" stroke-width="0.8"/>
<line x1="1011.5" y1="1603.45" x2="1257.2" y2="1603.45" stroke="#f4f4f4" stroke-width="0.8"/>
<line x1="1011.5" y1="1520.75" x2="1257.2" y2="1520.75" stroke="#f4f4f4" stroke-width="0.8"/>
<line x1="1034.9" y1="1487.4" x2="1034.9" y2="1825.8" stroke="#ebebeb" stroke-width="1.4"/>
<line x1="1091.4" y1="1487.4" x2="1091.4" y2="1825.8" stroke="#ebebeb" stroke-width="1.4"/>
<line x1="1147.9" y1="1487.4" x2="1147.9" y2="1825.8" stroke="#ebebeb" stroke-width="1.4"/>
<line x1="1204.4" y1="1487.4" x2="1204.4" y2="1825.8" stroke="#ebebeb" stroke-width="1.4"/>
<line x1="1011.5" y1="1810.2" x2="1257.2" y2="1810.2" stroke="#ebebeb" stroke-width="1.4"/>
<line x1="1011.5" y1="1727.5" x2="1257.2" y2="1727.5" stroke="#ebebeb" stroke-width="1.4"/>
<line x1="1011.5" y1="1644.8" x2="1257.2" y2="1644.8" stroke="#ebebeb" stroke-width="1.4"/>
<line x1="1011.5" y1="1562.1" x2="1257.2" y2="1562.1" stroke="#ebebeb" stroke-width="1.4"/>
<path d="M1022.19 1810.2V1502H1047.61V1810.2Z" fill="#c7c8ca" stroke="#231f20" stroke-width="1.6"/>
<path d="M1050.44 1810.2V1644.44H1075.86V1810.2Z" fill="#c7c8ca" stroke="#231f20" stroke-width="1.6"/>
<path d="M1078.69 1810.2V1735.51H1104.11V1810.2Z" fill="#c7c8ca" stroke="#231f20" stroke-width="1.6"/>
<path d="M1106.94 1810.2V1770.74H1132.36V1810.2Z" fill="#c7c8ca" stroke="#231f20" stroke-width="1.6"/>
<path d="M1219.94 1810.2V1810.2H1245.36V1810.2Z" fill="#c7c8ca" stroke="#231f20" stroke-width="1.6"/>
</g>
<rect x="1011.5" y="1487.4" width="245.7" height="338.4" fill="none" stroke="#505050" stroke-width="1.3"/>
<line x1="1034.9" y1="1825.8" x2="1034.9" y2="1830.6" stroke="#505050" stroke-width="1.4"/>
<text x="1034.9" y="1852.4" text-anchor="middle" font-family="'TeX Gyre Heros', 'Liberation Sans', Arial, Helvetica, sans-serif" font-weight="bold" font-size="26" fill="#636468">0</text>
<line x1="1091.4" y1="1825.8" x2="1091.4" y2="1830.6" stroke="#505050" stroke-width="1.4"/>
<text x="1091.4" y="1852.4" text-anchor="middle" font-family="'TeX Gyre Heros', 'Liberation Sans', Arial, Helvetica, sans-serif" font-weight="bold" font-size="26" fill="#636468">2</text>
<line x1="1147.9" y1="1825.8" x2="1147.9" y2="1830.6" stroke="#505050" stroke-width="1.4"/>
<text x="1147.9" y="1852.4" text-anchor="middle" font-family="'TeX Gyre Heros', 'Liberation Sans', Arial, Helvetica, sans-serif" font-weight="bold" font-size="26" fill="#636468">4</text>
<line x1="1204.4" y1="1825.8" x2="1204.4" y2="1830.6" stroke="#505050" stroke-width="1.4"/>
<text x="1204.4" y="1852.4" text-anchor="middle" font-family="'TeX Gyre Heros', 'Liberation Sans', Arial, Helvetica, sans-serif" font-weight="bold" font-size="26" fill="#636468">6</text>
<line x1="1006.3" y1="1810.2" x2="1011.5" y2="1810.2" stroke="#505050" stroke-width="1.4"/>
<text x="1004.3" y="1819.3" text-anchor="end" font-family="'TeX Gyre Heros', 'Liberation Sans', Arial, Helvetica, sans-serif" font-size="25.5" fill="#636468">1</text>
<line x1="1006.3" y1="1727.5" x2="1011.5" y2="1727.5" stroke="#505050" stroke-width="1.4"/>
<text x="1004.3" y="1736.6" text-anchor="end" font-family="'TeX Gyre Heros', 'Liberation Sans', Arial, Helvetica, sans-serif" font-size="25.5" fill="#636468">10</text>
<line x1="1006.3" y1="1644.8" x2="1011.5" y2="1644.8" stroke="#505050" stroke-width="1.4"/>
<text x="1003.3" y="1657.4" text-anchor="end" font-family="'TeX Gyre Heros', 'Liberation Sans', Arial, Helvetica, sans-serif" font-size="25.5" fill="#636468">10<tspan font-size="17" dy="-12.9">2</tspan></text>
<line x1="1006.3" y1="1562.1" x2="1011.5" y2="1562.1" stroke="#505050" stroke-width="1.4"/>
<text x="1003.3" y="1574.7" text-anchor="end" font-family="'TeX Gyre Heros', 'Liberation Sans', Arial, Helvetica, sans-serif" font-size="25.5" fill="#636468">10<tspan font-size="17" dy="-12.9">3</tspan></text>
<text x="1134.35" y="1477.4" text-anchor="middle" font-family="'TeX Gyre Heros', 'Liberation Sans', Arial, Helvetica, sans-serif" font-weight="bold" font-style="italic" font-size="25.6" fill="#231f20">Cd68</text>
<clipPath id="c17"><rect x="1312.5" y="1487.4" width="246.4" height="338.4"/></clipPath>
<g clip-path="url(#c17)">
<line x1="1319.62" y1="1487.4" x2="1319.62" y2="1825.8" stroke="#f4f4f4" stroke-width="0.8"/>
<line x1="1396.78" y1="1487.4" x2="1396.78" y2="1825.8" stroke="#f4f4f4" stroke-width="0.8"/>
<line x1="1473.92" y1="1487.4" x2="1473.92" y2="1825.8" stroke="#f4f4f4" stroke-width="0.8"/>
<line x1="1551.08" y1="1487.4" x2="1551.08" y2="1825.8" stroke="#f4f4f4" stroke-width="0.8"/>
<line x1="1312.5" y1="1768.9" x2="1558.9" y2="1768.9" stroke="#f4f4f4" stroke-width="0.8"/>
<line x1="1312.5" y1="1686.3" x2="1558.9" y2="1686.3" stroke="#f4f4f4" stroke-width="0.8"/>
<line x1="1312.5" y1="1603.7" x2="1558.9" y2="1603.7" stroke="#f4f4f4" stroke-width="0.8"/>
<line x1="1312.5" y1="1521.1" x2="1558.9" y2="1521.1" stroke="#f4f4f4" stroke-width="0.8"/>
<line x1="1358.2" y1="1487.4" x2="1358.2" y2="1825.8" stroke="#ebebeb" stroke-width="1.4"/>
<line x1="1435.35" y1="1487.4" x2="1435.35" y2="1825.8" stroke="#ebebeb" stroke-width="1.4"/>
<line x1="1512.5" y1="1487.4" x2="1512.5" y2="1825.8" stroke="#ebebeb" stroke-width="1.4"/>
<line x1="1312.5" y1="1810.2" x2="1558.9" y2="1810.2" stroke="#ebebeb" stroke-width="1.4"/>
<line x1="1312.5" y1="1727.6" x2="1558.9" y2="1727.6" stroke="#ebebeb" stroke-width="1.4"/>
<line x1="1312.5" y1="1645" x2="1558.9" y2="1645" stroke="#ebebeb" stroke-width="1.4"/>
<line x1="1312.5" y1="1562.4" x2="1558.9" y2="1562.4" stroke="#ebebeb" stroke-width="1.4"/>
<path d="M1323.48 1810.2V1502.37H1392.92V1810.2Z" fill="#c7c8ca" stroke="#231f20" stroke-width="1.6"/>
<path d="M1400.63 1810.2V1673.64H1470.07V1810.2Z" fill="#c7c8ca" stroke="#231f20" stroke-width="1.6"/>
<path d="M1477.78 1810.2V1752.47H1547.22V1810.2Z" fill="#c7c8ca" stroke="#231f20" stroke-width="1.6"/>
</g>
<rect x="1312.5" y="1487.4" width="246.4" height="338.4" fill="none" stroke="#505050" stroke-width="1.3"/>
<line x1="1358.2" y1="1825.8" x2="1358.2" y2="1830.6" stroke="#505050" stroke-width="1.4"/>
<text x="1358.2" y="1852.4" text-anchor="middle" font-family="'TeX Gyre Heros', 'Liberation Sans', Arial, Helvetica, sans-serif" font-weight="bold" font-size="26" fill="#636468">0</text>
<line x1="1435.35" y1="1825.8" x2="1435.35" y2="1830.6" stroke="#505050" stroke-width="1.4"/>
<text x="1435.35" y="1852.4" text-anchor="middle" font-family="'TeX Gyre Heros', 'Liberation Sans', Arial, Helvetica, sans-serif" font-weight="bold" font-size="26" fill="#636468">1</text>
<line x1="1512.5" y1="1825.8" x2="1512.5" y2="1830.6" stroke="#505050" stroke-width="1.4"/>
<text x="1512.5" y="1852.4" text-anchor="middle" font-family="'TeX Gyre Heros', 'Liberation Sans', Arial, Helvetica, sans-serif" font-weight="bold" font-size="26" fill="#636468">2</text>
<line x1="1307.3" y1="1810.2" x2="1312.5" y2="1810.2" stroke="#505050" stroke-width="1.4"/>
<text x="1305.3" y="1819.3" text-anchor="end" font-family="'TeX Gyre Heros', 'Liberation Sans', Arial, Helvetica, sans-serif" font-size="25.5" fill="#636468">1</text>
<line x1="1307.3" y1="1727.6" x2="1312.5" y2="1727.6" stroke="#505050" stroke-width="1.4"/>
<text x="1305.3" y="1736.7" text-anchor="end" font-family="'TeX Gyre Heros', 'Liberation Sans', Arial, Helvetica, sans-serif" font-size="25.5" fill="#636468">10</text>
<line x1="1307.3" y1="1645" x2="1312.5" y2="1645" stroke="#505050" stroke-width="1.4"/>
<text x="1304.3" y="1657.6" text-anchor="end" font-family="'TeX Gyre Heros', 'Liberation Sans', Arial, Helvetica, sans-serif" font-size="25.5" fill="#636468">10<tspan font-size="17" dy="-12.9">2</tspan></text>
<line x1="1307.3" y1="1562.4" x2="1312.5" y2="1562.4" stroke="#505050" stroke-width="1.4"/>
<text x="1304.3" y="1575" text-anchor="end" font-family="'TeX Gyre Heros', 'Liberation Sans', Arial, Helvetica, sans-serif" font-size="25.5" fill="#636468">10<tspan font-size="17" dy="-12.9">3</tspan></text>
<text x="1435.7" y="1477.4" text-anchor="middle" font-family="'TeX Gyre Heros', 'Liberation Sans', Arial, Helvetica, sans-serif" font-weight="bold" font-style="italic" font-size="25.6" fill="#231f20">Itgam</text>
<clipPath id="c18"><rect x="1613.4" y="1487.4" width="246.6" height="338.4"/></clipPath>
<g clip-path="url(#c18)">
<line x1="1679.7" y1="1487.4" x2="1679.7" y2="1825.8" stroke="#f4f4f4" stroke-width="0.8"/>
<line x1="1755.5" y1="1487.4" x2="1755.5" y2="1825.8" stroke="#f4f4f4" stroke-width="0.8"/>
<line x1="1831.3" y1="1487.4" x2="1831.3" y2="1825.8" stroke="#f4f4f4" stroke-width="0.8"/>
<line x1="1613.4" y1="1767.1" x2="1860" y2="1767.1" stroke="#f4f4f4" stroke-width="0.8"/>
<line x1="1613.4" y1="1680.9" x2="1860" y2="1680.9" stroke="#f4f4f4" stroke-width="0.8"/>
<line x1="1613.4" y1="1594.7" x2="1860" y2="1594.7" stroke="#f4f4f4" stroke-width="0.8"/>
<line x1="1613.4" y1="1508.5" x2="1860" y2="1508.5" stroke="#f4f4f4" stroke-width="0.8"/>
<line x1="1641.8" y1="1487.4" x2="1641.8" y2="1825.8" stroke="#ebebeb" stroke-width="1.4"/>
<line x1="1717.6" y1="1487.4" x2="1717.6" y2="1825.8" stroke="#ebebeb" stroke-width="1.4"/>
<line x1="1793.4" y1="1487.4" x2="1793.4" y2="1825.8" stroke="#ebebeb" stroke-width="1.4"/>
<line x1="1613.4" y1="1810.2" x2="1860" y2="1810.2" stroke="#ebebeb" stroke-width="1.4"/>
<line x1="1613.4" y1="1724" x2="1860" y2="1724" stroke="#ebebeb" stroke-width="1.4"/>
<line x1="1613.4" y1="1637.8" x2="1860" y2="1637.8" stroke="#ebebeb" stroke-width="1.4"/>
<line x1="1613.4" y1="1551.6" x2="1860" y2="1551.6" stroke="#ebebeb" stroke-width="1.4"/>
<path d="M1624.74 1810.2V1502.05H1658.86V1810.2Z" fill="#c7c8ca" stroke="#231f20" stroke-width="1.6"/>
<path d="M1662.64 1810.2V1539.38H1696.75V1810.2Z" fill="#c7c8ca" stroke="#231f20" stroke-width="1.6"/>
<path d="M1700.54 1810.2V1593.91H1734.65V1810.2Z" fill="#c7c8ca" stroke="#231f20" stroke-width="1.6"/>
<path d="M1738.44 1810.2V1653.93H1772.55V1810.2Z" fill="#c7c8ca" stroke="#231f20" stroke-width="1.6"/>
<path d="M1776.35 1810.2V1714.18H1810.45V1810.2Z" fill="#c7c8ca" stroke="#231f20" stroke-width="1.6"/>
<path d="M1814.24 1810.2V1769.07H1848.36V1810.2Z" fill="#c7c8ca" stroke="#231f20" stroke-width="1.6"/>
</g>
<rect x="1613.4" y="1487.4" width="246.6" height="338.4" fill="none" stroke="#505050" stroke-width="1.3"/>
<line x1="1641.8" y1="1825.8" x2="1641.8" y2="1830.6" stroke="#505050" stroke-width="1.4"/>
<text x="1641.8" y="1852.4" text-anchor="middle" font-family="'TeX Gyre Heros', 'Liberation Sans', Arial, Helvetica, sans-serif" font-weight="bold" font-size="26" fill="#636468">0</text>
<line x1="1717.6" y1="1825.8" x2="1717.6" y2="1830.6" stroke="#505050" stroke-width="1.4"/>
<text x="1717.6" y="1852.4" text-anchor="middle" font-family="'TeX Gyre Heros', 'Liberation Sans', Arial, Helvetica, sans-serif" font-weight="bold" font-size="26" fill="#636468">2</text>
<line x1="1793.4" y1="1825.8" x2="1793.4" y2="1830.6" stroke="#505050" stroke-width="1.4"/>
<text x="1793.4" y="1852.4" text-anchor="middle" font-family="'TeX Gyre Heros', 'Liberation Sans', Arial, Helvetica, sans-serif" font-weight="bold" font-size="26" fill="#636468">4</text>
<line x1="1608.2" y1="1810.2" x2="1613.4" y2="1810.2" stroke="#505050" stroke-width="1.4"/>
<text x="1606.2" y="1819.3" text-anchor="end" font-family="'TeX Gyre Heros', 'Liberation Sans', Arial, Helvetica, sans-serif" font-size="25.5" fill="#636468">1</text>
<line x1="1608.2" y1="1724" x2="1613.4" y2="1724" stroke="#505050" stroke-width="1.4"/>
<text x="1606.2" y="1733.1" text-anchor="end" font-family="'TeX Gyre Heros', 'Liberation Sans', Arial, Helvetica, sans-serif" font-size="25.5" fill="#636468">10</text>
<line x1="1608.2" y1="1637.8" x2="1613.4" y2="1637.8" stroke="#505050" stroke-width="1.4"/>
<text x="1605.2" y="1650.4" text-anchor="end" font-family="'TeX Gyre Heros', 'Liberation Sans', Arial, Helvetica, sans-serif" font-size="25.5" fill="#636468">10<tspan font-size="17" dy="-12.9">2</tspan></text>
<line x1="1608.2" y1="1551.6" x2="1613.4" y2="1551.6" stroke="#505050" stroke-width="1.4"/>
<text x="1605.2" y="1564.2" text-anchor="end" font-family="'TeX Gyre Heros', 'Liberation Sans', Arial, Helvetica, sans-serif" font-size="25.5" fill="#636468">10<tspan font-size="17" dy="-12.9">3</tspan></text>
<text x="1736.7" y="1477.4" text-anchor="middle" font-family="'TeX Gyre Heros', 'Liberation Sans', Arial, Helvetica, sans-serif" font-weight="bold" font-style="italic" font-size="25.6" fill="#231f20">Cd86</text>
<clipPath id="c19"><rect x="509.3" y="2062" width="332.2" height="343"/></clipPath>
<g clip-path="url(#c19)">
<line x1="609.25" y1="2062" x2="609.25" y2="2405" stroke="#f4f4f4" stroke-width="0.8"/>
<line x1="774.15" y1="2062" x2="774.15" y2="2405" stroke="#f4f4f4" stroke-width="0.8"/>
<line x1="509.3" y1="2348.15" x2="841.5" y2="2348.15" stroke="#f4f4f4" stroke-width="0.8"/>
<line x1="509.3" y1="2266.25" x2="841.5" y2="2266.25" stroke="#f4f4f4" stroke-width="0.8"/>
<line x1="509.3" y1="2184.35" x2="841.5" y2="2184.35" stroke="#f4f4f4" stroke-width="0.8"/>
<line x1="509.3" y1="2102.45" x2="841.5" y2="2102.45" stroke="#f4f4f4" stroke-width="0.8"/>
<line x1="526.8" y1="2062" x2="526.8" y2="2405" stroke="#ebebeb" stroke-width="1.4"/>
<line x1="691.7" y1="2062" x2="691.7" y2="2405" stroke="#ebebeb" stroke-width="1.4"/>
<line x1="509.3" y1="2389.1" x2="841.5" y2="2389.1" stroke="#ebebeb" stroke-width="1.4"/>
<line x1="509.3" y1="2307.2" x2="841.5" y2="2307.2" stroke="#ebebeb" stroke-width="1.4"/>
<line x1="509.3" y1="2225.3" x2="841.5" y2="2225.3" stroke="#ebebeb" stroke-width="1.4"/>
<line x1="509.3" y1="2143.4" x2="841.5" y2="2143.4" stroke="#ebebeb" stroke-width="1.4"/>
<path d="M523.5 2408L526.8 2076.24L529.44 2408L555.49 2408L558.13 2389.1L560.77 2408L604.3 2408L606.94 2389.1L609.58 2408L671.58 2408L674.22 2389.1L676.86 2408L820.98 2408L823.62 2389.1L826.26 2408" fill="none" stroke="#231f20" stroke-width="1.4" stroke-linejoin="round"/>
</g>
<rect x="509.3" y="2062" width="332.2" height="343" fill="none" stroke="#505050" stroke-width="1.3"/>
<line x1="526.8" y1="2405" x2="526.8" y2="2409.8" stroke="#505050" stroke-width="1.4"/>
<text x="526.8" y="2433.2" text-anchor="middle" font-family="'TeX Gyre Heros', 'Liberation Sans', Arial, Helvetica, sans-serif" font-weight="bold" font-size="27.3" fill="#636468">0</text>
<line x1="691.7" y1="2405" x2="691.7" y2="2409.8" stroke="#505050" stroke-width="1.4"/>
<text x="691.7" y="2433.2" text-anchor="middle" font-family="'TeX Gyre Heros', 'Liberation Sans', Arial, Helvetica, sans-serif" font-weight="bold" font-size="27.3" fill="#636468">1</text>
<line x1="504.1" y1="2389.1" x2="509.3" y2="2389.1" stroke="#505050" stroke-width="1.4"/>
<text x="501.62" y="2398.73" text-anchor="end" font-family="'TeX Gyre Heros', 'Liberation Sans', Arial, Helvetica, sans-serif" font-size="26.98" fill="#636468">1</text>
<line x1="504.1" y1="2307.2" x2="509.3" y2="2307.2" stroke="#505050" stroke-width="1.4"/>
<text x="501.62" y="2316.83" text-anchor="end" font-family="'TeX Gyre Heros', 'Liberation Sans', Arial, Helvetica, sans-serif" font-size="26.98" fill="#636468">10</text>
<line x1="504.1" y1="2225.3" x2="509.3" y2="2225.3" stroke="#505050" stroke-width="1.4"/>
<text x="500.62" y="2238.63" text-anchor="end" font-family="'TeX Gyre Heros', 'Liberation Sans', Arial, Helvetica, sans-serif" font-size="26.98" fill="#636468">10<tspan font-size="17.99" dy="-13.65">2</tspan></text>
<line x1="504.1" y1="2143.4" x2="509.3" y2="2143.4" stroke="#505050" stroke-width="1.4"/>
<text x="500.62" y="2156.73" text-anchor="end" font-family="'TeX Gyre Heros', 'Liberation Sans', Arial, Helvetica, sans-serif" font-size="26.98" fill="#636468">10<tspan font-size="17.99" dy="-13.65">3</tspan></text>
<text x="675.4" y="2048.2" text-anchor="middle" font-family="'TeX Gyre Heros', 'Liberation Sans', Arial, Helvetica, sans-serif" font-weight="bold" font-size="26.8" fill="#231f20"><tspan font-style="italic">Fcmr</tspan> WT TMP</text>
<clipPath id="c20"><rect x="898.9" y="2062" width="331.1" height="343"/></clipPath>
<g clip-path="url(#c20)">
<line x1="1070" y1="2062" x2="1070" y2="2405" stroke="#f4f4f4" stroke-width="0.8"/>
<line x1="898.9" y1="2349.3" x2="1230" y2="2349.3" stroke="#f4f4f4" stroke-width="0.8"/>
<line x1="898.9" y1="2269.3" x2="1230" y2="2269.3" stroke="#f4f4f4" stroke-width="0.8"/>
<line x1="898.9" y1="2189.3" x2="1230" y2="2189.3" stroke="#f4f4f4" stroke-width="0.8"/>
<line x1="898.9" y1="2109.3" x2="1230" y2="2109.3" stroke="#f4f4f4" stroke-width="0.8"/>
<line x1="916.3" y1="2062" x2="916.3" y2="2405" stroke="#ebebeb" stroke-width="1.4"/>
<line x1="1223.7" y1="2062" x2="1223.7" y2="2405" stroke="#ebebeb" stroke-width="1.4"/>
<line x1="898.9" y1="2389.3" x2="1230" y2="2389.3" stroke="#ebebeb" stroke-width="1.4"/>
<line x1="898.9" y1="2309.3" x2="1230" y2="2309.3" stroke="#ebebeb" stroke-width="1.4"/>
<line x1="898.9" y1="2229.3" x2="1230" y2="2229.3" stroke="#ebebeb" stroke-width="1.4"/>
<line x1="898.9" y1="2149.3" x2="1230" y2="2149.3" stroke="#ebebeb" stroke-width="1.4"/>
<line x1="898.9" y1="2069.3" x2="1230" y2="2069.3" stroke="#ebebeb" stroke-width="1.4"/>
<path d="M913.23 2408L916.3 2077.3L918.91 2408L990.54 2408L993.15 2389.3L995.76 2408L996.69 2408L999.3 2389.3L1001.91 2408L1096.9 2408L1099.51 2389.3L1102.12 2408L1146.08 2408L1148.69 2389.3L1151.31 2408L1199.57 2408L1202.18 2389.3L1204.79 2408L1210.33 2408L1212.94 2389.3L1215.55 2408" fill="none" stroke="#231f20" stroke-width="1.4" stroke-linejoin="round"/>
</g>
<rect x="898.9" y="2062" width="331.1" height="343" fill="none" stroke="#505050" stroke-width="1.3"/>
<line x1="916.3" y1="2405" x2="916.3" y2="2409.8" stroke="#505050" stroke-width="1.4"/>
<text x="916.3" y="2433.2" text-anchor="middle" font-family="'TeX Gyre Heros', 'Liberation Sans', Arial, Helvetica, sans-serif" font-weight="bold" font-size="27.3" fill="#636468">0</text>
<line x1="1223.7" y1="2405" x2="1223.7" y2="2409.8" stroke="#505050" stroke-width="1.4"/>
<text x="1223.7" y="2433.2" text-anchor="middle" font-family="'TeX Gyre Heros', 'Liberation Sans', Arial, Helvetica, sans-serif" font-weight="bold" font-size="27.3" fill="#636468">1</text>
<line x1="893.7" y1="2389.3" x2="898.9" y2="2389.3" stroke="#505050" stroke-width="1.4"/>
<text x="891.22" y="2398.93" text-anchor="end" font-family="'TeX Gyre Heros', 'Liberation Sans', Arial, Helvetica, sans-serif" font-size="26.98" fill="#636468">1</text>
<line x1="893.7" y1="2309.3" x2="898.9" y2="2309.3" stroke="#505050" stroke-width="1.4"/>
<text x="891.22" y="2318.93" text-anchor="end" font-family="'TeX Gyre Heros', 'Liberation Sans', Arial, Helvetica, sans-serif" font-size="26.98" fill="#636468">10</text>
<line x1="893.7" y1="2229.3" x2="898.9" y2="2229.3" stroke="#505050" stroke-width="1.4"/>
<text x="890.22" y="2242.63" text-anchor="end" font-family="'TeX Gyre Heros', 'Liberation Sans', Arial, Helvetica, sans-serif" font-size="26.98" fill="#636468">10<tspan font-size="17.99" dy="-13.65">2</tspan></text>
<line x1="893.7" y1="2149.3" x2="898.9" y2="2149.3" stroke="#505050" stroke-width="1.4"/>
<text x="890.22" y="2162.63" text-anchor="end" font-family="'TeX Gyre Heros', 'Liberation Sans', Arial, Helvetica, sans-serif" font-size="26.98" fill="#636468">10<tspan font-size="17.99" dy="-13.65">3</tspan></text>
<line x1="893.7" y1="2069.3" x2="898.9" y2="2069.3" stroke="#505050" stroke-width="1.4"/>
<text x="890.22" y="2082.63" text-anchor="end" font-family="'TeX Gyre Heros', 'Liberation Sans', Arial, Helvetica, sans-serif" font-size="26.98" fill="#636468">10<tspan font-size="17.99" dy="-13.65">4</tspan></text>
<text x="1064.45" y="2048.4" text-anchor="middle" font-family="'TeX Gyre Heros', 'Liberation Sans', Arial, Helvetica, sans-serif" font-weight="bold" font-size="26.8" fill="#231f20"><tspan font-style="italic">Fcmr</tspan> KO TMP</text>
<clipPath id="c21"><rect x="1288.6" y="2062" width="331" height="343"/></clipPath>
<g clip-path="url(#c21)">
<line x1="1340.63" y1="2062" x2="1340.63" y2="2405" stroke="#f4f4f4" stroke-width="0.8"/>
<line x1="1411.51" y1="2062" x2="1411.51" y2="2405" stroke="#f4f4f4" stroke-width="0.8"/>
<line x1="1482.38" y1="2062" x2="1482.38" y2="2405" stroke="#f4f4f4" stroke-width="0.8"/>
<line x1="1553.25" y1="2062" x2="1553.25" y2="2405" stroke="#f4f4f4" stroke-width="0.8"/>
<line x1="1288.6" y1="2338.6" x2="1619.6" y2="2338.6" stroke="#f4f4f4" stroke-width="0.8"/>
<line x1="1288.6" y1="2237.2" x2="1619.6" y2="2237.2" stroke="#f4f4f4" stroke-width="0.8"/>
<line x1="1288.6" y1="2135.8" x2="1619.6" y2="2135.8" stroke="#f4f4f4" stroke-width="0.8"/>
<line x1="1305.2" y1="2062" x2="1305.2" y2="2405" stroke="#ebebeb" stroke-width="1.4"/>
<line x1="1376.07" y1="2062" x2="1376.07" y2="2405" stroke="#ebebeb" stroke-width="1.4"/>
<line x1="1446.94" y1="2062" x2="1446.94" y2="2405" stroke="#ebebeb" stroke-width="1.4"/>
<line x1="1517.81" y1="2062" x2="1517.81" y2="2405" stroke="#ebebeb" stroke-width="1.4"/>
<line x1="1588.68" y1="2062" x2="1588.68" y2="2405" stroke="#ebebeb" stroke-width="1.4"/>
<line x1="1288.6" y1="2389.3" x2="1619.6" y2="2389.3" stroke="#ebebeb" stroke-width="1.4"/>
<line x1="1288.6" y1="2287.9" x2="1619.6" y2="2287.9" stroke="#ebebeb" stroke-width="1.4"/>
<line x1="1288.6" y1="2186.5" x2="1619.6" y2="2186.5" stroke="#ebebeb" stroke-width="1.4"/>
<line x1="1288.6" y1="2085.1" x2="1619.6" y2="2085.1" stroke="#ebebeb" stroke-width="1.4"/>
<path d="M1303.78 2408L1305.2 2076.48L1306.62 2408L1344.84 2408L1346.16 2389.3L1347.48 2408L1348.54 2408L1349.86 2389.3L1351.97 2389.3L1353.29 2408L1354.08 2408L1355.93 2360.22L1357.26 2341.71L1358.58 2333.77L1359.37 2298.08L1360.43 2328.49L1361.75 2307.33L1363.07 2279.57L1364.92 2319.23L1366.5 2291.47L1368.09 2272.96L1369.68 2319.23L1370.73 2280.89L1372.32 2298.08L1373.37 2262.38L1374.96 2275.61L1376.55 2251.81L1378.4 2229.33L1381.04 2230.66L1383.15 2222.72L1385 2214.79L1386.59 2220.08L1388.17 2209.5L1390.29 2212.15L1392.14 2200.25L1393.72 2222.72L1395.57 2214.79L1397.69 2217.44L1400.33 2214.79L1402.18 2220.08L1404.03 2230.66L1405.61 2235.94L1407.73 2254.45L1408.78 2259.74L1410.37 2241.23L1412.22 2238.59L1414.07 2239.91L1416.18 2228.01L1418.03 2230.66L1419.88 2225.37L1421.47 2228.01L1423.32 2222.72L1425.17 2218.76L1426.75 2217.44L1428.34 2214.79L1429.92 2214.79L1431.51 2220.08L1433.36 2224.05L1435.21 2206.86L1436.79 2209.5L1438.38 2228.01L1439.96 2217.44L1441.55 2222.72L1443.13 2217.44L1444.72 2233.3L1446.31 2228.01L1447.89 2225.37L1449.74 2228.01L1451.33 2222.72L1452.91 2214.79L1454.5 2217.44L1456.35 2214.79L1458.2 2209.5L1460.05 2216.11L1461.63 2217.44L1463.22 2216.11L1465.07 2217.44L1466.92 2220.08L1468.5 2222.72L1470.09 2225.37L1472.2 2224.05L1473.79 2228.01L1475.11 2234.62L1476.69 2229.33L1478.28 2221.4L1479.86 2212.15L1481.45 2228.01L1483.04 2238.59L1484.62 2225.37L1486.21 2224.05L1487.79 2222.72L1489.38 2226.69L1490.96 2246.52L1492.55 2222.72L1494.13 2238.59L1495.72 2228.01L1497.3 2245.2L1498.89 2243.88L1500.48 2231.98L1502.06 2226.69L1503.65 2228.01L1505.23 2237.27L1506.82 2243.88L1508.4 2238.59L1509.99 2250.49L1511.57 2250.49L1513.16 2241.23L1514.74 2249.16L1516.33 2259.74L1517.92 2254.45L1519.5 2266.35L1521.09 2279.57L1522.67 2261.06L1524.26 2270.32L1525.84 2253.13L1527.43 2275.61L1529.01 2283.54L1530.6 2276.93L1532.18 2280.89L1533.77 2278.25L1535.36 2278.25L1536.94 2286.18L1538.53 2317.91L1540.11 2283.54L1541.7 2325.84L1543.28 2288.83L1544.87 2307.33L1546.45 2323.2L1548.04 2341.71L1549.62 2298.08L1551.21 2331.13L1552.8 2336.42L1554.38 2356.25L1555.97 2311.3L1557.55 2354.93L1559.14 2408L1560.72 2358.89L1562.84 2358.89L1564.42 2408L1566.01 2311.3L1567.59 2358.89L1569.18 2333.77L1570.76 2408L1572.35 2328.49L1573.94 2408L1575.52 2408L1586.62 2408L1587.94 2389.3L1589.26 2408L1600.89 2408L1602.21 2389.3L1603.53 2408" fill="none" stroke="#231f20" stroke-width="1.4" stroke-linejoin="round"/>
</g>
<rect x="1288.6" y="2062" width="331" height="343" fill="none" stroke="#505050" stroke-width="1.3"/>
<line x1="1305.2" y1="2405" x2="1305.2" y2="2409.8" stroke="#505050" stroke-width="1.4"/>
<text x="1305.2" y="2433.2" text-anchor="middle" font-family="'TeX Gyre Heros', 'Liberation Sans', Arial, Helvetica, sans-serif" font-weight="bold" font-size="27.3" fill="#636468">0</text>
<line x1="1376.07" y1="2405" x2="1376.07" y2="2409.8" stroke="#505050" stroke-width="1.4"/>
<text x="1376.07" y="2433.2" text-anchor="middle" font-family="'TeX Gyre Heros', 'Liberation Sans', Arial, Helvetica, sans-serif" font-weight="bold" font-size="27.3" fill="#636468">1</text>
<line x1="1446.94" y1="2405" x2="1446.94" y2="2409.8" stroke="#505050" stroke-width="1.4"/>
<text x="1446.94" y="2433.2" text-anchor="middle" font-family="'TeX Gyre Heros', 'Liberation Sans', Arial, Helvetica, sans-serif" font-weight="bold" font-size="27.3" fill="#636468">2</text>
<line x1="1517.81" y1="2405" x2="1517.81" y2="2409.8" stroke="#505050" stroke-width="1.4"/>
<text x="1517.81" y="2433.2" text-anchor="middle" font-family="'TeX Gyre Heros', 'Liberation Sans', Arial, Helvetica, sans-serif" font-weight="bold" font-size="27.3" fill="#636468">3</text>
<line x1="1588.68" y1="2405" x2="1588.68" y2="2409.8" stroke="#505050" stroke-width="1.4"/>
<text x="1588.68" y="2433.2" text-anchor="middle" font-family="'TeX Gyre Heros', 'Liberation Sans', Arial, Helvetica, sans-serif" font-weight="bold" font-size="27.3" fill="#636468">4</text>
<line x1="1283.4" y1="2389.3" x2="1288.6" y2="2389.3" stroke="#505050" stroke-width="1.4"/>
<text x="1280.92" y="2398.93" text-anchor="end" font-family="'TeX Gyre Heros', 'Liberation Sans', Arial, Helvetica, sans-serif" font-size="26.98" fill="#636468">1</text>
<line x1="1283.4" y1="2287.9" x2="1288.6" y2="2287.9" stroke="#505050" stroke-width="1.4"/>
<text x="1280.92" y="2297.53" text-anchor="end" font-family="'TeX Gyre Heros', 'Liberation Sans', Arial, Helvetica, sans-serif" font-size="26.98" fill="#636468">10</text>
<line x1="1283.4" y1="2186.5" x2="1288.6" y2="2186.5" stroke="#505050" stroke-width="1.4"/>
<text x="1279.92" y="2199.83" text-anchor="end" font-family="'TeX Gyre Heros', 'Liberation Sans', Arial, Helvetica, sans-serif" font-size="26.98" fill="#636468">10<tspan font-size="17.99" dy="-13.65">2</tspan></text>
<line x1="1283.4" y1="2085.1" x2="1288.6" y2="2085.1" stroke="#505050" stroke-width="1.4"/>
<text x="1279.92" y="2098.43" text-anchor="end" font-family="'TeX Gyre Heros', 'Liberation Sans', Arial, Helvetica, sans-serif" font-size="26.98" fill="#636468">10<tspan font-size="17.99" dy="-13.65">3</tspan></text>
<text x="1453.4" y="2045.3" text-anchor="middle" font-family="'TeX Gyre Heros', 'Liberation Sans', Arial, Helvetica, sans-serif" font-weight="bold" font-size="26.5" fill="#231f20">WT spl. IgG B</text>
<text x="-2" y="51.4" font-family="'TeX Gyre Heros', 'Liberation Sans', Arial, Helvetica, sans-serif" font-weight="bold" font-size="69" fill="#231f20">a)</text>
<text x="-2.2" y="1314" font-family="'TeX Gyre Heros', 'Liberation Sans', Arial, Helvetica, sans-serif" font-weight="bold" font-size="68.8" fill="#231f20">b)</text>
<text x="356" y="2025.6" font-family="'TeX Gyre Heros', 'Liberation Sans', Arial, Helvetica, sans-serif" font-weight="bold" font-size="72" fill="#231f20">c)</text>
<text x="87.8" y="159.3" font-family="Carlito, Calibri, 'Liberation Sans', sans-serif" font-weight="bold" font-style="italic" font-size="59.5" fill="#231f20" stroke="#231f20" stroke-width="0.7" textLength="669.1" lengthAdjust="spacingAndGlyphs">TMPs from Fcmr WT mice:</text>
<text x="87.7" y="702.6" font-family="Carlito, Calibri, 'Liberation Sans', sans-serif" font-weight="bold" font-style="italic" font-size="59.5" fill="#231f20" stroke="#231f20" stroke-width="0.7" textLength="656" lengthAdjust="spacingAndGlyphs">TMPs from Fcmr KO mice:</text>
<text x="86.4" y="1395.2" font-family="Carlito, Calibri, 'Liberation Sans', sans-serif" font-weight="bold" font-style="italic" font-size="59.5" fill="#231f20" stroke="#231f20" stroke-width="0.7" textLength="1072.9" lengthAdjust="spacingAndGlyphs">Splenic IgG memory B cells from WT mice:</text>
<text transform="translate(60.2 390.8) rotate(-90)" text-anchor="middle" font-family="'TeX Gyre Heros', 'Liberation Sans', Arial, Helvetica, sans-serif" font-weight="bold" font-size="32.1" fill="#231f20">Number of cells</text>
<text transform="translate(62 954) rotate(-90)" text-anchor="middle" font-family="'TeX Gyre Heros', 'Liberation Sans', Arial, Helvetica, sans-serif" font-weight="bold" font-size="32.1" fill="#231f20">Number of cells</text>
<text transform="translate(60.2 1655.5) rotate(-90)" text-anchor="middle" font-family="'TeX Gyre Heros', 'Liberation Sans', Arial, Helvetica, sans-serif" font-weight="bold" font-size="32.1" fill="#231f20">Number of cells</text>
<text transform="translate(449.6 2233.5) rotate(-90)" text-anchor="middle" font-family="'TeX Gyre Heros', 'Liberation Sans', Arial, Helvetica, sans-serif" font-weight="bold" font-size="34.0" fill="#231f20">Number of cells</text>
<text x="986.7" y="620" text-anchor="middle" font-family="'TeX Gyre Heros', 'Liberation Sans', Arial, Helvetica, sans-serif" font-weight="bold" font-size="32.0" fill="#231f20">Raw values of unique molecular identifier (UMI) per cell</text>
<text x="989" y="1184" text-anchor="middle" font-family="'TeX Gyre Heros', 'Liberation Sans', Arial, Helvetica, sans-serif" font-weight="bold" font-size="32.0" fill="#231f20">Raw values of unique molecular identifier (UMI) per cell</text>
<text x="986.7" y="1884.5" text-anchor="middle" font-family="'TeX Gyre Heros', 'Liberation Sans', Arial, Helvetica, sans-serif" font-weight="bold" font-size="32.0" fill="#231f20">Raw values of unique molecular identifier (UMI) per cell</text>
<text x="1065.4" y="2468.3" text-anchor="middle" font-family="'TeX Gyre Heros', 'Liberation Sans', Arial, Helvetica, sans-serif" font-weight="bold" font-size="34.0" fill="#231f20">Normalized <tspan font-style="italic">Fcmr</tspan> transcripts (UMI/cell in Log<tspan font-size="23" dy="6.5">e</tspan><tspan dy="-6.5">)</tspan></text>
</svg></body></html>
